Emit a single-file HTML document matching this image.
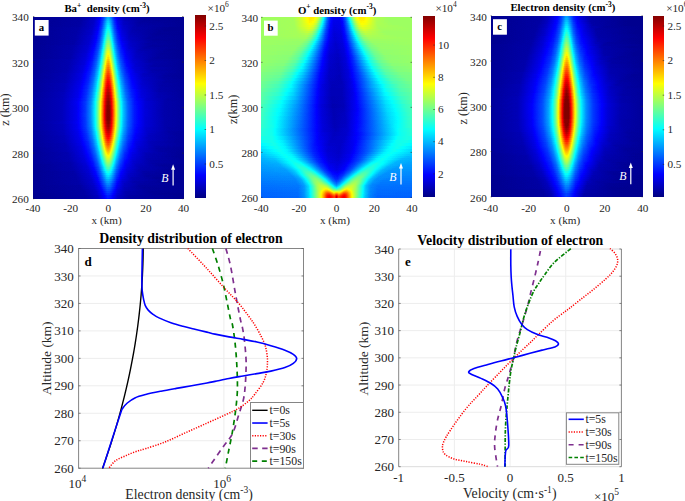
<!DOCTYPE html>
<html><head><meta charset="utf-8"><style>
html,body{margin:0;padding:0;background:#fff;}
body{width:685px;height:501px;overflow:hidden;}
svg{display:block;font-family:"Liberation Serif",serif;}
</style></head><body>
<svg width="685" height="501" viewBox="0 0 685 501">
<defs><filter id="jet" color-interpolation-filters="sRGB"><feComponentTransfer><feFuncR type="table" tableValues="0 0 0 0 .5 1 1 1 .5"/><feFuncG type="table" tableValues="0 0 .5 1 1 1 .5 0 0"/><feFuncB type="table" tableValues=".5 1 1 1 .5 0 0 0 0"/></feComponentTransfer></filter><linearGradient id="g1"><stop offset=".000" stop-color="#050505"/><stop offset=".323" stop-color="#090909"/><stop offset=".410" stop-color="#111111"/><stop offset=".443" stop-color="#1c1c1c"/><stop offset=".467" stop-color="#2e2e2e"/><stop offset=".493" stop-color="#4b4b4b"/><stop offset=".503" stop-color="#4d4d4d"/><stop offset=".517" stop-color="#414141"/><stop offset=".540" stop-color="#272727"/><stop offset=".563" stop-color="#191919"/><stop offset=".607" stop-color="#0f0f0f"/><stop offset=".740" stop-color="#070707"/><stop offset="1" stop-color="#050505"/></linearGradient><linearGradient id="g2"><stop offset=".000" stop-color="#050505"/><stop offset=".320" stop-color="#090909"/><stop offset=".407" stop-color="#121212"/><stop offset=".443" stop-color="#1e1e1e"/><stop offset=".467" stop-color="#303030"/><stop offset=".493" stop-color="#4f4f4f"/><stop offset=".503" stop-color="#515151"/><stop offset=".517" stop-color="#454545"/><stop offset=".540" stop-color="#2a2a2a"/><stop offset=".563" stop-color="#1a1a1a"/><stop offset=".607" stop-color="#0f0f0f"/><stop offset=".733" stop-color="#070707"/><stop offset="1" stop-color="#050505"/></linearGradient><linearGradient id="g3"><stop offset=".000" stop-color="#050505"/><stop offset=".313" stop-color="#090909"/><stop offset=".403" stop-color="#121212"/><stop offset=".440" stop-color="#1e1e1e"/><stop offset=".463" stop-color="#2f2f2f"/><stop offset=".493" stop-color="#535353"/><stop offset=".503" stop-color="#555555"/><stop offset=".517" stop-color="#484848"/><stop offset=".540" stop-color="#2c2c2c"/><stop offset=".563" stop-color="#1c1c1c"/><stop offset=".603" stop-color="#111111"/><stop offset=".713" stop-color="#080808"/><stop offset="1" stop-color="#050505"/></linearGradient><linearGradient id="g4"><stop offset=".000" stop-color="#050505"/><stop offset=".310" stop-color="#090909"/><stop offset=".400" stop-color="#121212"/><stop offset=".437" stop-color="#1d1d1d"/><stop offset=".460" stop-color="#2e2e2e"/><stop offset=".493" stop-color="#575757"/><stop offset=".503" stop-color="#595959"/><stop offset=".513" stop-color="#505050"/><stop offset=".540" stop-color="#2e2e2e"/><stop offset=".563" stop-color="#1d1d1d"/><stop offset=".603" stop-color="#111111"/><stop offset=".707" stop-color="#090909"/><stop offset="1" stop-color="#050505"/></linearGradient><linearGradient id="g5"><stop offset=".000" stop-color="#050505"/><stop offset=".303" stop-color="#090909"/><stop offset=".397" stop-color="#121212"/><stop offset=".433" stop-color="#1d1d1d"/><stop offset=".457" stop-color="#2d2d2d"/><stop offset=".477" stop-color="#464646"/><stop offset=".493" stop-color="#5b5b5b"/><stop offset=".503" stop-color="#5d5d5d"/><stop offset=".513" stop-color="#545454"/><stop offset=".540" stop-color="#313131"/><stop offset=".563" stop-color="#1f1f1f"/><stop offset=".600" stop-color="#131313"/><stop offset=".693" stop-color="#0a0a0a"/><stop offset=".997" stop-color="#050505"/><stop offset="1" stop-color="#050505"/></linearGradient><linearGradient id="g6"><stop offset=".000" stop-color="#050505"/><stop offset=".300" stop-color="#0a0a0a"/><stop offset=".393" stop-color="#121212"/><stop offset=".433" stop-color="#1f1f1f"/><stop offset=".457" stop-color="#303030"/><stop offset=".477" stop-color="#494949"/><stop offset=".493" stop-color="#5f5f5f"/><stop offset=".503" stop-color="#616161"/><stop offset=".513" stop-color="#585858"/><stop offset=".540" stop-color="#333333"/><stop offset=".560" stop-color="#222222"/><stop offset=".593" stop-color="#151515"/><stop offset=".667" stop-color="#0c0c0c"/><stop offset=".897" stop-color="#050505"/><stop offset="1" stop-color="#050505"/></linearGradient><linearGradient id="g7"><stop offset=".000" stop-color="#050505"/><stop offset=".297" stop-color="#0a0a0a"/><stop offset=".393" stop-color="#131313"/><stop offset=".430" stop-color="#1e1e1e"/><stop offset=".453" stop-color="#2f2f2f"/><stop offset=".473" stop-color="#484848"/><stop offset=".490" stop-color="#606060"/><stop offset=".500" stop-color="#666666"/><stop offset=".510" stop-color="#606060"/><stop offset=".540" stop-color="#363636"/><stop offset=".560" stop-color="#242424"/><stop offset=".593" stop-color="#161616"/><stop offset=".663" stop-color="#0c0c0c"/><stop offset=".877" stop-color="#050505"/><stop offset="1" stop-color="#050505"/></linearGradient><linearGradient id="g8"><stop offset=".000" stop-color="#050505"/><stop offset=".293" stop-color="#0a0a0a"/><stop offset=".390" stop-color="#131313"/><stop offset=".430" stop-color="#202020"/><stop offset=".453" stop-color="#313131"/><stop offset=".473" stop-color="#4b4b4b"/><stop offset=".490" stop-color="#646464"/><stop offset=".500" stop-color="#6b6b6b"/><stop offset=".510" stop-color="#646464"/><stop offset=".540" stop-color="#383838"/><stop offset=".560" stop-color="#262626"/><stop offset=".590" stop-color="#181818"/><stop offset=".653" stop-color="#0d0d0d"/><stop offset=".840" stop-color="#060606"/><stop offset="1" stop-color="#050505"/></linearGradient><linearGradient id="g9"><stop offset=".000" stop-color="#050505"/><stop offset=".287" stop-color="#0a0a0a"/><stop offset=".387" stop-color="#131313"/><stop offset=".427" stop-color="#202020"/><stop offset=".450" stop-color="#303030"/><stop offset=".470" stop-color="#494949"/><stop offset=".490" stop-color="#696969"/><stop offset=".500" stop-color="#6f6f6f"/><stop offset=".510" stop-color="#696969"/><stop offset=".540" stop-color="#3b3b3b"/><stop offset=".560" stop-color="#282828"/><stop offset=".590" stop-color="#191919"/><stop offset=".650" stop-color="#0e0e0e"/><stop offset=".820" stop-color="#060606"/><stop offset="1" stop-color="#050505"/></linearGradient><linearGradient id="g10"><stop offset=".000" stop-color="#050505"/><stop offset=".283" stop-color="#0a0a0a"/><stop offset=".383" stop-color="#141414"/><stop offset=".423" stop-color="#202020"/><stop offset=".447" stop-color="#2f2f2f"/><stop offset=".463" stop-color="#434343"/><stop offset=".490" stop-color="#6d6d6d"/><stop offset=".500" stop-color="#747474"/><stop offset=".510" stop-color="#6d6d6d"/><stop offset=".540" stop-color="#3e3e3e"/><stop offset=".560" stop-color="#2a2a2a"/><stop offset=".590" stop-color="#1a1a1a"/><stop offset=".647" stop-color="#0f0f0f"/><stop offset=".803" stop-color="#070707"/><stop offset="1" stop-color="#050505"/></linearGradient><linearGradient id="g11"><stop offset=".000" stop-color="#050505"/><stop offset=".280" stop-color="#0a0a0a"/><stop offset=".380" stop-color="#141414"/><stop offset=".420" stop-color="#1f1f1f"/><stop offset=".443" stop-color="#2e2e2e"/><stop offset=".463" stop-color="#464646"/><stop offset=".490" stop-color="#727272"/><stop offset=".500" stop-color="#787878"/><stop offset=".510" stop-color="#727272"/><stop offset=".540" stop-color="#414141"/><stop offset=".560" stop-color="#2b2b2b"/><stop offset=".587" stop-color="#1d1d1d"/><stop offset=".637" stop-color="#111111"/><stop offset=".770" stop-color="#080808"/><stop offset="1" stop-color="#050505"/></linearGradient><linearGradient id="g12"><stop offset=".000" stop-color="#050505"/><stop offset=".277" stop-color="#0a0a0a"/><stop offset=".377" stop-color="#141414"/><stop offset=".420" stop-color="#212121"/><stop offset=".443" stop-color="#303030"/><stop offset=".460" stop-color="#444444"/><stop offset=".490" stop-color="#767676"/><stop offset=".500" stop-color="#7d7d7d"/><stop offset=".510" stop-color="#767676"/><stop offset=".543" stop-color="#3f3f3f"/><stop offset=".563" stop-color="#2b2b2b"/><stop offset=".593" stop-color="#1b1b1b"/><stop offset=".650" stop-color="#101010"/><stop offset=".800" stop-color="#070707"/><stop offset="1" stop-color="#050505"/></linearGradient><linearGradient id="g13"><stop offset=".000" stop-color="#050505"/><stop offset=".273" stop-color="#0a0a0a"/><stop offset=".373" stop-color="#141414"/><stop offset=".417" stop-color="#212121"/><stop offset=".440" stop-color="#303030"/><stop offset=".460" stop-color="#474747"/><stop offset=".490" stop-color="#7b7b7b"/><stop offset=".500" stop-color="#828282"/><stop offset=".510" stop-color="#7b7b7b"/><stop offset=".543" stop-color="#424242"/><stop offset=".563" stop-color="#2d2d2d"/><stop offset=".593" stop-color="#1d1d1d"/><stop offset=".650" stop-color="#111111"/><stop offset=".793" stop-color="#080808"/><stop offset="1" stop-color="#050505"/></linearGradient><linearGradient id="g14"><stop offset=".000" stop-color="#050505"/><stop offset=".270" stop-color="#0a0a0a"/><stop offset=".370" stop-color="#141414"/><stop offset=".413" stop-color="#212121"/><stop offset=".440" stop-color="#323232"/><stop offset=".457" stop-color="#464646"/><stop offset=".477" stop-color="#696969"/><stop offset=".490" stop-color="#808080"/><stop offset=".500" stop-color="#878787"/><stop offset=".510" stop-color="#808080"/><stop offset=".543" stop-color="#464646"/><stop offset=".563" stop-color="#2f2f2f"/><stop offset=".590" stop-color="#202020"/><stop offset=".640" stop-color="#131313"/><stop offset=".760" stop-color="#090909"/><stop offset="1" stop-color="#050505"/></linearGradient><linearGradient id="g15"><stop offset=".000" stop-color="#050505"/><stop offset=".267" stop-color="#0b0b0b"/><stop offset=".367" stop-color="#151515"/><stop offset=".410" stop-color="#212121"/><stop offset=".437" stop-color="#323232"/><stop offset=".457" stop-color="#494949"/><stop offset=".477" stop-color="#6d6d6d"/><stop offset=".490" stop-color="#858585"/><stop offset=".500" stop-color="#8c8c8c"/><stop offset=".510" stop-color="#858585"/><stop offset=".530" stop-color="#606060"/><stop offset=".547" stop-color="#444444"/><stop offset=".567" stop-color="#2f2f2f"/><stop offset=".597" stop-color="#1e1e1e"/><stop offset=".650" stop-color="#121212"/><stop offset=".780" stop-color="#080808"/><stop offset="1" stop-color="#050505"/></linearGradient><linearGradient id="g16"><stop offset=".000" stop-color="#050505"/><stop offset=".260" stop-color="#0b0b0b"/><stop offset=".363" stop-color="#151515"/><stop offset=".410" stop-color="#232323"/><stop offset=".437" stop-color="#343434"/><stop offset=".457" stop-color="#4c4c4c"/><stop offset=".477" stop-color="#727272"/><stop offset=".490" stop-color="#8a8a8a"/><stop offset=".500" stop-color="#919191"/><stop offset=".510" stop-color="#8a8a8a"/><stop offset=".527" stop-color="#6b6b6b"/><stop offset=".543" stop-color="#4c4c4c"/><stop offset=".563" stop-color="#343434"/><stop offset=".590" stop-color="#232323"/><stop offset=".637" stop-color="#151515"/><stop offset=".743" stop-color="#0a0a0a"/><stop offset="1" stop-color="#050505"/></linearGradient><linearGradient id="g17"><stop offset=".000" stop-color="#050505"/><stop offset=".257" stop-color="#0b0b0b"/><stop offset=".360" stop-color="#151515"/><stop offset=".407" stop-color="#232323"/><stop offset=".433" stop-color="#333333"/><stop offset=".453" stop-color="#4b4b4b"/><stop offset=".470" stop-color="#686868"/><stop offset=".487" stop-color="#8a8a8a"/><stop offset=".497" stop-color="#959595"/><stop offset=".503" stop-color="#959595"/><stop offset=".513" stop-color="#8a8a8a"/><stop offset=".543" stop-color="#505050"/><stop offset=".560" stop-color="#3a3a3a"/><stop offset=".583" stop-color="#282828"/><stop offset=".623" stop-color="#191919"/><stop offset=".707" stop-color="#0d0d0d"/><stop offset=".907" stop-color="#060606"/><stop offset="1" stop-color="#050505"/></linearGradient><linearGradient id="g18"><stop offset=".000" stop-color="#050505"/><stop offset=".253" stop-color="#0b0b0b"/><stop offset=".357" stop-color="#151515"/><stop offset=".403" stop-color="#232323"/><stop offset=".430" stop-color="#333333"/><stop offset=".450" stop-color="#494949"/><stop offset=".467" stop-color="#666666"/><stop offset=".487" stop-color="#8f8f8f"/><stop offset=".497" stop-color="#9a9a9a"/><stop offset=".503" stop-color="#9a9a9a"/><stop offset=".513" stop-color="#8f8f8f"/><stop offset=".543" stop-color="#535353"/><stop offset=".560" stop-color="#3d3d3d"/><stop offset=".583" stop-color="#292929"/><stop offset=".620" stop-color="#1b1b1b"/><stop offset=".693" stop-color="#0f0f0f"/><stop offset=".867" stop-color="#070707"/><stop offset="1" stop-color="#050505"/></linearGradient><linearGradient id="g19"><stop offset=".000" stop-color="#050505"/><stop offset=".250" stop-color="#0b0b0b"/><stop offset=".353" stop-color="#161616"/><stop offset=".400" stop-color="#232323"/><stop offset=".427" stop-color="#323232"/><stop offset=".447" stop-color="#484848"/><stop offset=".463" stop-color="#636363"/><stop offset=".487" stop-color="#939393"/><stop offset=".497" stop-color="#9f9f9f"/><stop offset=".503" stop-color="#9f9f9f"/><stop offset=".513" stop-color="#939393"/><stop offset=".543" stop-color="#575757"/><stop offset=".560" stop-color="#3f3f3f"/><stop offset=".583" stop-color="#2b2b2b"/><stop offset=".620" stop-color="#1c1c1c"/><stop offset=".690" stop-color="#101010"/><stop offset=".853" stop-color="#070707"/><stop offset="1" stop-color="#050505"/></linearGradient><linearGradient id="g20"><stop offset=".000" stop-color="#050505"/><stop offset=".247" stop-color="#0b0b0b"/><stop offset=".350" stop-color="#161616"/><stop offset=".397" stop-color="#232323"/><stop offset=".427" stop-color="#353535"/><stop offset=".447" stop-color="#4b4b4b"/><stop offset=".463" stop-color="#676767"/><stop offset=".487" stop-color="#989898"/><stop offset=".497" stop-color="#a4a4a4"/><stop offset=".503" stop-color="#a4a4a4"/><stop offset=".513" stop-color="#989898"/><stop offset=".543" stop-color="#5a5a5a"/><stop offset=".560" stop-color="#424242"/><stop offset=".583" stop-color="#2d2d2d"/><stop offset=".617" stop-color="#1e1e1e"/><stop offset=".683" stop-color="#111111"/><stop offset=".833" stop-color="#080808"/><stop offset="1" stop-color="#050505"/></linearGradient><linearGradient id="g21"><stop offset=".000" stop-color="#050505"/><stop offset=".247" stop-color="#0b0b0b"/><stop offset=".350" stop-color="#171717"/><stop offset=".397" stop-color="#242424"/><stop offset=".423" stop-color="#343434"/><stop offset=".443" stop-color="#494949"/><stop offset=".460" stop-color="#646464"/><stop offset=".487" stop-color="#9d9d9d"/><stop offset=".497" stop-color="#a9a9a9"/><stop offset=".503" stop-color="#a9a9a9"/><stop offset=".513" stop-color="#9d9d9d"/><stop offset=".543" stop-color="#5e5e5e"/><stop offset=".560" stop-color="#454545"/><stop offset=".583" stop-color="#2f2f2f"/><stop offset=".617" stop-color="#1f1f1f"/><stop offset=".680" stop-color="#121212"/><stop offset=".820" stop-color="#080808"/><stop offset="1" stop-color="#050505"/></linearGradient><linearGradient id="g22"><stop offset=".000" stop-color="#060606"/><stop offset=".243" stop-color="#0c0c0c"/><stop offset=".347" stop-color="#171717"/><stop offset=".393" stop-color="#242424"/><stop offset=".423" stop-color="#363636"/><stop offset=".443" stop-color="#4c4c4c"/><stop offset=".460" stop-color="#686868"/><stop offset=".487" stop-color="#a2a2a2"/><stop offset=".497" stop-color="#aeaeae"/><stop offset=".503" stop-color="#aeaeae"/><stop offset=".513" stop-color="#a2a2a2"/><stop offset=".543" stop-color="#626262"/><stop offset=".560" stop-color="#484848"/><stop offset=".580" stop-color="#343434"/><stop offset=".610" stop-color="#232323"/><stop offset=".663" stop-color="#151515"/><stop offset=".780" stop-color="#0a0a0a"/><stop offset="1" stop-color="#060606"/></linearGradient><linearGradient id="g23"><stop offset=".000" stop-color="#060606"/><stop offset=".240" stop-color="#0c0c0c"/><stop offset=".343" stop-color="#171717"/><stop offset=".393" stop-color="#262626"/><stop offset=".423" stop-color="#393939"/><stop offset=".443" stop-color="#4f4f4f"/><stop offset=".460" stop-color="#6c6c6c"/><stop offset=".487" stop-color="#a7a7a7"/><stop offset=".497" stop-color="#b3b3b3"/><stop offset=".503" stop-color="#b3b3b3"/><stop offset=".513" stop-color="#a7a7a7"/><stop offset=".543" stop-color="#656565"/><stop offset=".560" stop-color="#4b4b4b"/><stop offset=".580" stop-color="#363636"/><stop offset=".610" stop-color="#242424"/><stop offset=".663" stop-color="#161616"/><stop offset=".773" stop-color="#0b0b0b"/><stop offset="1" stop-color="#060606"/></linearGradient><linearGradient id="g24"><stop offset=".000" stop-color="#060606"/><stop offset=".237" stop-color="#0c0c0c"/><stop offset=".340" stop-color="#171717"/><stop offset=".390" stop-color="#262626"/><stop offset=".420" stop-color="#383838"/><stop offset=".440" stop-color="#4e4e4e"/><stop offset=".457" stop-color="#696969"/><stop offset=".487" stop-color="#acacac"/><stop offset=".497" stop-color="#b8b8b8"/><stop offset=".503" stop-color="#b8b8b8"/><stop offset=".513" stop-color="#acacac"/><stop offset=".547" stop-color="#636363"/><stop offset=".563" stop-color="#494949"/><stop offset=".587" stop-color="#333333"/><stop offset=".620" stop-color="#222222"/><stop offset=".680" stop-color="#141414"/><stop offset=".807" stop-color="#0a0a0a"/><stop offset="1" stop-color="#060606"/></linearGradient><linearGradient id="g25"><stop offset=".000" stop-color="#060606"/><stop offset=".233" stop-color="#0c0c0c"/><stop offset=".337" stop-color="#181818"/><stop offset=".387" stop-color="#262626"/><stop offset=".417" stop-color="#383838"/><stop offset=".437" stop-color="#4d4d4d"/><stop offset=".453" stop-color="#676767"/><stop offset=".473" stop-color="#949494"/><stop offset=".487" stop-color="#b1b1b1"/><stop offset=".497" stop-color="#bdbdbd"/><stop offset=".503" stop-color="#bdbdbd"/><stop offset=".513" stop-color="#b1b1b1"/><stop offset=".547" stop-color="#676767"/><stop offset=".563" stop-color="#4d4d4d"/><stop offset=".587" stop-color="#353535"/><stop offset=".620" stop-color="#232323"/><stop offset=".677" stop-color="#151515"/><stop offset=".793" stop-color="#0a0a0a"/><stop offset="1" stop-color="#060606"/></linearGradient><linearGradient id="g26"><stop offset=".000" stop-color="#060606"/><stop offset=".230" stop-color="#0c0c0c"/><stop offset=".333" stop-color="#181818"/><stop offset=".383" stop-color="#262626"/><stop offset=".413" stop-color="#373737"/><stop offset=".433" stop-color="#4b4b4b"/><stop offset=".450" stop-color="#656565"/><stop offset=".467" stop-color="#888888"/><stop offset=".487" stop-color="#b6b6b6"/><stop offset=".497" stop-color="#c2c2c2"/><stop offset=".503" stop-color="#c2c2c2"/><stop offset=".513" stop-color="#b6b6b6"/><stop offset=".547" stop-color="#6b6b6b"/><stop offset=".563" stop-color="#505050"/><stop offset=".583" stop-color="#3a3a3a"/><stop offset=".613" stop-color="#282828"/><stop offset=".663" stop-color="#181818"/><stop offset=".763" stop-color="#0d0d0d"/><stop offset=".987" stop-color="#060606"/><stop offset="1" stop-color="#060606"/></linearGradient><linearGradient id="g27"><stop offset=".000" stop-color="#060606"/><stop offset=".227" stop-color="#0c0c0c"/><stop offset=".330" stop-color="#181818"/><stop offset=".380" stop-color="#262626"/><stop offset=".410" stop-color="#373737"/><stop offset=".433" stop-color="#4e4e4e"/><stop offset=".450" stop-color="#696969"/><stop offset=".470" stop-color="#959595"/><stop offset=".487" stop-color="#bbbbbb"/><stop offset=".497" stop-color="#c6c6c6"/><stop offset=".503" stop-color="#c6c6c6"/><stop offset=".513" stop-color="#bbbbbb"/><stop offset=".530" stop-color="#959595"/><stop offset=".550" stop-color="#696969"/><stop offset=".567" stop-color="#4e4e4e"/><stop offset=".590" stop-color="#373737"/><stop offset=".623" stop-color="#252525"/><stop offset=".680" stop-color="#161616"/><stop offset=".793" stop-color="#0b0b0b"/><stop offset="1" stop-color="#060606"/></linearGradient><linearGradient id="g28"><stop offset=".000" stop-color="#060606"/><stop offset=".223" stop-color="#0c0c0c"/><stop offset=".327" stop-color="#181818"/><stop offset=".380" stop-color="#282828"/><stop offset=".410" stop-color="#393939"/><stop offset=".433" stop-color="#525252"/><stop offset=".450" stop-color="#6c6c6c"/><stop offset=".470" stop-color="#999999"/><stop offset=".487" stop-color="#bfbfbf"/><stop offset=".497" stop-color="#cbcbcb"/><stop offset=".503" stop-color="#cbcbcb"/><stop offset=".513" stop-color="#bfbfbf"/><stop offset=".530" stop-color="#999999"/><stop offset=".550" stop-color="#6c6c6c"/><stop offset=".567" stop-color="#525252"/><stop offset=".590" stop-color="#393939"/><stop offset=".623" stop-color="#262626"/><stop offset=".680" stop-color="#171717"/><stop offset=".790" stop-color="#0c0c0c"/><stop offset="1" stop-color="#060606"/></linearGradient><linearGradient id="g29"><stop offset=".000" stop-color="#060606"/><stop offset=".223" stop-color="#0d0d0d"/><stop offset=".323" stop-color="#191919"/><stop offset=".377" stop-color="#282828"/><stop offset=".407" stop-color="#393939"/><stop offset=".430" stop-color="#505050"/><stop offset=".447" stop-color="#6a6a6a"/><stop offset=".463" stop-color="#8d8d8d"/><stop offset=".483" stop-color="#bdbdbd"/><stop offset=".493" stop-color="#cdcdcd"/><stop offset=".500" stop-color="#d0d0d0"/><stop offset=".510" stop-color="#c9c9c9"/><stop offset=".520" stop-color="#b6b6b6"/><stop offset=".547" stop-color="#777777"/><stop offset=".563" stop-color="#595959"/><stop offset=".583" stop-color="#424242"/><stop offset=".610" stop-color="#2e2e2e"/><stop offset=".653" stop-color="#1e1e1e"/><stop offset=".733" stop-color="#101010"/><stop offset=".897" stop-color="#080808"/><stop offset="1" stop-color="#060606"/></linearGradient><linearGradient id="g30"><stop offset=".000" stop-color="#060606"/><stop offset=".220" stop-color="#0d0d0d"/><stop offset=".320" stop-color="#191919"/><stop offset=".373" stop-color="#282828"/><stop offset=".407" stop-color="#3b3b3b"/><stop offset=".430" stop-color="#535353"/><stop offset=".447" stop-color="#6e6e6e"/><stop offset=".463" stop-color="#929292"/><stop offset=".483" stop-color="#c2c2c2"/><stop offset=".493" stop-color="#d2d2d2"/><stop offset=".500" stop-color="#d5d5d5"/><stop offset=".510" stop-color="#cecece"/><stop offset=".520" stop-color="#bbbbbb"/><stop offset=".547" stop-color="#7b7b7b"/><stop offset=".563" stop-color="#5d5d5d"/><stop offset=".583" stop-color="#444444"/><stop offset=".610" stop-color="#303030"/><stop offset=".653" stop-color="#1f1f1f"/><stop offset=".730" stop-color="#111111"/><stop offset=".883" stop-color="#080808"/><stop offset="1" stop-color="#060606"/></linearGradient><linearGradient id="g31"><stop offset=".000" stop-color="#060606"/><stop offset=".217" stop-color="#0d0d0d"/><stop offset=".317" stop-color="#191919"/><stop offset=".370" stop-color="#282828"/><stop offset=".403" stop-color="#3b3b3b"/><stop offset=".427" stop-color="#525252"/><stop offset=".443" stop-color="#6b6b6b"/><stop offset=".460" stop-color="#8e8e8e"/><stop offset=".483" stop-color="#c6c6c6"/><stop offset=".493" stop-color="#d6d6d6"/><stop offset=".500" stop-color="#d9d9d9"/><stop offset=".510" stop-color="#d2d2d2"/><stop offset=".520" stop-color="#bfbfbf"/><stop offset=".547" stop-color="#7f7f7f"/><stop offset=".563" stop-color="#606060"/><stop offset=".583" stop-color="#474747"/><stop offset=".610" stop-color="#323232"/><stop offset=".650" stop-color="#212121"/><stop offset=".723" stop-color="#131313"/><stop offset=".867" stop-color="#090909"/><stop offset="1" stop-color="#060606"/></linearGradient><linearGradient id="g32"><stop offset=".000" stop-color="#070707"/><stop offset=".213" stop-color="#0d0d0d"/><stop offset=".313" stop-color="#191919"/><stop offset=".367" stop-color="#282828"/><stop offset=".400" stop-color="#3a3a3a"/><stop offset=".423" stop-color="#505050"/><stop offset=".443" stop-color="#6f6f6f"/><stop offset=".460" stop-color="#929292"/><stop offset=".483" stop-color="#cbcbcb"/><stop offset=".493" stop-color="#dadada"/><stop offset=".500" stop-color="#dddddd"/><stop offset=".510" stop-color="#d6d6d6"/><stop offset=".520" stop-color="#c3c3c3"/><stop offset=".550" stop-color="#7c7c7c"/><stop offset=".567" stop-color="#5e5e5e"/><stop offset=".587" stop-color="#464646"/><stop offset=".613" stop-color="#323232"/><stop offset=".657" stop-color="#202020"/><stop offset=".733" stop-color="#121212"/><stop offset=".883" stop-color="#090909"/><stop offset="1" stop-color="#070707"/></linearGradient><linearGradient id="g33"><stop offset=".000" stop-color="#070707"/><stop offset=".213" stop-color="#0d0d0d"/><stop offset=".313" stop-color="#1a1a1a"/><stop offset=".367" stop-color="#292929"/><stop offset=".400" stop-color="#3c3c3c"/><stop offset=".423" stop-color="#535353"/><stop offset=".443" stop-color="#727272"/><stop offset=".460" stop-color="#969696"/><stop offset=".483" stop-color="#cfcfcf"/><stop offset=".493" stop-color="#dedede"/><stop offset=".500" stop-color="#e1e1e1"/><stop offset=".510" stop-color="#dadada"/><stop offset=".520" stop-color="#c7c7c7"/><stop offset=".550" stop-color="#7f7f7f"/><stop offset=".567" stop-color="#616161"/><stop offset=".587" stop-color="#484848"/><stop offset=".613" stop-color="#333333"/><stop offset=".657" stop-color="#212121"/><stop offset=".730" stop-color="#131313"/><stop offset=".873" stop-color="#090909"/><stop offset="1" stop-color="#070707"/></linearGradient><linearGradient id="g34"><stop offset=".000" stop-color="#070707"/><stop offset=".210" stop-color="#0e0e0e"/><stop offset=".310" stop-color="#1a1a1a"/><stop offset=".363" stop-color="#292929"/><stop offset=".397" stop-color="#3c3c3c"/><stop offset=".420" stop-color="#525252"/><stop offset=".440" stop-color="#6f6f6f"/><stop offset=".457" stop-color="#929292"/><stop offset=".483" stop-color="#d3d3d3"/><stop offset=".493" stop-color="#e2e2e2"/><stop offset=".503" stop-color="#e4e4e4"/><stop offset=".513" stop-color="#d9d9d9"/><stop offset=".527" stop-color="#bbbbbb"/><stop offset=".550" stop-color="#838383"/><stop offset=".567" stop-color="#646464"/><stop offset=".587" stop-color="#4a4a4a"/><stop offset=".613" stop-color="#353535"/><stop offset=".653" stop-color="#232323"/><stop offset=".723" stop-color="#141414"/><stop offset=".857" stop-color="#0a0a0a"/><stop offset="1" stop-color="#070707"/></linearGradient><linearGradient id="g35"><stop offset=".000" stop-color="#070707"/><stop offset=".210" stop-color="#0e0e0e"/><stop offset=".310" stop-color="#1b1b1b"/><stop offset=".363" stop-color="#2b2b2b"/><stop offset=".397" stop-color="#3e3e3e"/><stop offset=".420" stop-color="#545454"/><stop offset=".440" stop-color="#727272"/><stop offset=".457" stop-color="#959595"/><stop offset=".483" stop-color="#d6d6d6"/><stop offset=".493" stop-color="#e5e5e5"/><stop offset=".503" stop-color="#e8e8e8"/><stop offset=".513" stop-color="#dddddd"/><stop offset=".527" stop-color="#bfbfbf"/><stop offset=".550" stop-color="#868686"/><stop offset=".567" stop-color="#676767"/><stop offset=".587" stop-color="#4d4d4d"/><stop offset=".613" stop-color="#373737"/><stop offset=".653" stop-color="#242424"/><stop offset=".723" stop-color="#151515"/><stop offset=".853" stop-color="#0a0a0a"/><stop offset="1" stop-color="#070707"/></linearGradient><linearGradient id="g36"><stop offset=".000" stop-color="#070707"/><stop offset=".207" stop-color="#0e0e0e"/><stop offset=".307" stop-color="#1b1b1b"/><stop offset=".360" stop-color="#2a2a2a"/><stop offset=".393" stop-color="#3d3d3d"/><stop offset=".417" stop-color="#535353"/><stop offset=".437" stop-color="#6f6f6f"/><stop offset=".453" stop-color="#919191"/><stop offset=".483" stop-color="#dadada"/><stop offset=".493" stop-color="#e9e9e9"/><stop offset=".503" stop-color="#ebebeb"/><stop offset=".513" stop-color="#e0e0e0"/><stop offset=".527" stop-color="#c3c3c3"/><stop offset=".550" stop-color="#8a8a8a"/><stop offset=".567" stop-color="#6a6a6a"/><stop offset=".587" stop-color="#4f4f4f"/><stop offset=".613" stop-color="#383838"/><stop offset=".653" stop-color="#252525"/><stop offset=".720" stop-color="#161616"/><stop offset=".843" stop-color="#0b0b0b"/><stop offset="1" stop-color="#070707"/></linearGradient><linearGradient id="g37"><stop offset=".000" stop-color="#070707"/><stop offset=".203" stop-color="#0e0e0e"/><stop offset=".303" stop-color="#1b1b1b"/><stop offset=".360" stop-color="#2c2c2c"/><stop offset=".393" stop-color="#3f3f3f"/><stop offset=".417" stop-color="#555555"/><stop offset=".437" stop-color="#737373"/><stop offset=".453" stop-color="#959595"/><stop offset=".483" stop-color="#dedede"/><stop offset=".493" stop-color="#ededed"/><stop offset=".503" stop-color="#efefef"/><stop offset=".513" stop-color="#e4e4e4"/><stop offset=".527" stop-color="#c7c7c7"/><stop offset=".550" stop-color="#8e8e8e"/><stop offset=".567" stop-color="#6d6d6d"/><stop offset=".587" stop-color="#525252"/><stop offset=".613" stop-color="#3a3a3a"/><stop offset=".653" stop-color="#272727"/><stop offset=".720" stop-color="#171717"/><stop offset=".840" stop-color="#0b0b0b"/><stop offset="1" stop-color="#070707"/></linearGradient><linearGradient id="g38"><stop offset=".000" stop-color="#070707"/><stop offset=".203" stop-color="#0f0f0f"/><stop offset=".300" stop-color="#1b1b1b"/><stop offset=".357" stop-color="#2c2c2c"/><stop offset=".390" stop-color="#3f3f3f"/><stop offset=".413" stop-color="#555555"/><stop offset=".433" stop-color="#717171"/><stop offset=".450" stop-color="#929292"/><stop offset=".480" stop-color="#dcdcdc"/><stop offset=".490" stop-color="#eeeeee"/><stop offset=".500" stop-color="#f4f4f4"/><stop offset=".510" stop-color="#eeeeee"/><stop offset=".520" stop-color="#dcdcdc"/><stop offset=".553" stop-color="#8b8b8b"/><stop offset=".570" stop-color="#6c6c6c"/><stop offset=".590" stop-color="#515151"/><stop offset=".617" stop-color="#3a3a3a"/><stop offset=".657" stop-color="#272727"/><stop offset=".723" stop-color="#171717"/><stop offset=".843" stop-color="#0c0c0c"/><stop offset="1" stop-color="#070707"/></linearGradient><linearGradient id="g39"><stop offset=".000" stop-color="#070707"/><stop offset=".200" stop-color="#0f0f0f"/><stop offset=".297" stop-color="#1b1b1b"/><stop offset=".353" stop-color="#2c2c2c"/><stop offset=".390" stop-color="#414141"/><stop offset=".413" stop-color="#585858"/><stop offset=".433" stop-color="#757575"/><stop offset=".450" stop-color="#969696"/><stop offset=".480" stop-color="#e0e0e0"/><stop offset=".490" stop-color="#f2f2f2"/><stop offset=".500" stop-color="#f8f8f8"/><stop offset=".510" stop-color="#f2f2f2"/><stop offset=".520" stop-color="#e0e0e0"/><stop offset=".553" stop-color="#8f8f8f"/><stop offset=".570" stop-color="#6f6f6f"/><stop offset=".590" stop-color="#545454"/><stop offset=".617" stop-color="#3c3c3c"/><stop offset=".657" stop-color="#282828"/><stop offset=".720" stop-color="#181818"/><stop offset=".833" stop-color="#0d0d0d"/><stop offset="1" stop-color="#070707"/></linearGradient><linearGradient id="g40"><stop offset=".000" stop-color="#080808"/><stop offset=".197" stop-color="#0f0f0f"/><stop offset=".293" stop-color="#1c1c1c"/><stop offset=".350" stop-color="#2c2c2c"/><stop offset=".387" stop-color="#414141"/><stop offset=".413" stop-color="#5b5b5b"/><stop offset=".433" stop-color="#787878"/><stop offset=".453" stop-color="#a2a2a2"/><stop offset=".480" stop-color="#e4e4e4"/><stop offset=".490" stop-color="#f5f5f5"/><stop offset=".500" stop-color="#fbfbfb"/><stop offset=".510" stop-color="#f5f5f5"/><stop offset=".520" stop-color="#e4e4e4"/><stop offset=".557" stop-color="#8c8c8c"/><stop offset=".577" stop-color="#686868"/><stop offset=".600" stop-color="#4c4c4c"/><stop offset=".630" stop-color="#363636"/><stop offset=".677" stop-color="#232323"/><stop offset=".753" stop-color="#141414"/><stop offset=".893" stop-color="#0a0a0a"/><stop offset="1" stop-color="#080808"/></linearGradient><linearGradient id="g41"><stop offset=".000" stop-color="#080808"/><stop offset=".197" stop-color="#0f0f0f"/><stop offset=".293" stop-color="#1d1d1d"/><stop offset=".350" stop-color="#2e2e2e"/><stop offset=".387" stop-color="#434343"/><stop offset=".413" stop-color="#5e5e5e"/><stop offset=".433" stop-color="#7c7c7c"/><stop offset=".453" stop-color="#a6a6a6"/><stop offset=".480" stop-color="#e7e7e7"/><stop offset=".490" stop-color="#f8f8f8"/><stop offset=".500" stop-color="#fefefe"/><stop offset=".510" stop-color="#f8f8f8"/><stop offset=".520" stop-color="#e7e7e7"/><stop offset=".557" stop-color="#909090"/><stop offset=".577" stop-color="#6b6b6b"/><stop offset=".600" stop-color="#4f4f4f"/><stop offset=".630" stop-color="#383838"/><stop offset=".673" stop-color="#252525"/><stop offset=".747" stop-color="#161616"/><stop offset=".877" stop-color="#0b0b0b"/><stop offset="1" stop-color="#080808"/></linearGradient><linearGradient id="g42"><stop offset=".000" stop-color="#080808"/><stop offset=".193" stop-color="#0f0f0f"/><stop offset=".290" stop-color="#1c1c1c"/><stop offset=".347" stop-color="#2d2d2d"/><stop offset=".383" stop-color="#424242"/><stop offset=".410" stop-color="#5b5b5b"/><stop offset=".430" stop-color="#787878"/><stop offset=".450" stop-color="#a0a0a0"/><stop offset=".480" stop-color="#eaeaea"/><stop offset=".490" stop-color="#fbfbfb"/><stop offset=".497" stop-color="#ffffff"/><stop offset=".507" stop-color="#fefefe"/><stop offset=".517" stop-color="#f1f1f1"/><stop offset=".533" stop-color="#cacaca"/><stop offset=".557" stop-color="#929292"/><stop offset=".577" stop-color="#6d6d6d"/><stop offset=".600" stop-color="#505050"/><stop offset=".630" stop-color="#393939"/><stop offset=".673" stop-color="#262626"/><stop offset=".747" stop-color="#161616"/><stop offset=".877" stop-color="#0b0b0b"/><stop offset="1" stop-color="#080808"/></linearGradient><linearGradient id="g43"><stop offset=".000" stop-color="#080808"/><stop offset=".193" stop-color="#0f0f0f"/><stop offset=".290" stop-color="#1c1c1c"/><stop offset=".347" stop-color="#2d2d2d"/><stop offset=".383" stop-color="#424242"/><stop offset=".410" stop-color="#5c5c5c"/><stop offset=".430" stop-color="#797979"/><stop offset=".450" stop-color="#a1a1a1"/><stop offset=".480" stop-color="#ebebeb"/><stop offset=".490" stop-color="#fcfcfc"/><stop offset=".497" stop-color="#ffffff"/><stop offset=".507" stop-color="#ffffff"/><stop offset=".513" stop-color="#f8f8f8"/><stop offset=".527" stop-color="#dcdcdc"/><stop offset=".557" stop-color="#929292"/><stop offset=".577" stop-color="#6e6e6e"/><stop offset=".600" stop-color="#515151"/><stop offset=".630" stop-color="#393939"/><stop offset=".673" stop-color="#262626"/><stop offset=".743" stop-color="#171717"/><stop offset=".870" stop-color="#0b0b0b"/><stop offset="1" stop-color="#080808"/></linearGradient><linearGradient id="g44"><stop offset=".000" stop-color="#080808"/><stop offset=".193" stop-color="#0f0f0f"/><stop offset=".290" stop-color="#1c1c1c"/><stop offset=".347" stop-color="#2e2e2e"/><stop offset=".383" stop-color="#424242"/><stop offset=".410" stop-color="#5c5c5c"/><stop offset=".430" stop-color="#797979"/><stop offset=".450" stop-color="#a2a2a2"/><stop offset=".480" stop-color="#ececec"/><stop offset=".490" stop-color="#fdfdfd"/><stop offset=".503" stop-color="#ffffff"/><stop offset=".510" stop-color="#fdfdfd"/><stop offset=".520" stop-color="#ececec"/><stop offset=".557" stop-color="#939393"/><stop offset=".577" stop-color="#6e6e6e"/><stop offset=".600" stop-color="#515151"/><stop offset=".630" stop-color="#393939"/><stop offset=".673" stop-color="#262626"/><stop offset=".743" stop-color="#171717"/><stop offset=".870" stop-color="#0b0b0b"/><stop offset="1" stop-color="#080808"/></linearGradient><linearGradient id="g45"><stop offset=".000" stop-color="#080808"/><stop offset=".193" stop-color="#0f0f0f"/><stop offset=".290" stop-color="#1c1c1c"/><stop offset=".347" stop-color="#2d2d2d"/><stop offset=".383" stop-color="#424242"/><stop offset=".410" stop-color="#5b5b5b"/><stop offset=".430" stop-color="#787878"/><stop offset=".450" stop-color="#a1a1a1"/><stop offset=".480" stop-color="#ebebeb"/><stop offset=".490" stop-color="#fcfcfc"/><stop offset=".497" stop-color="#ffffff"/><stop offset=".507" stop-color="#ffffff"/><stop offset=".517" stop-color="#f1f1f1"/><stop offset=".533" stop-color="#cbcbcb"/><stop offset=".557" stop-color="#929292"/><stop offset=".577" stop-color="#6d6d6d"/><stop offset=".600" stop-color="#505050"/><stop offset=".630" stop-color="#393939"/><stop offset=".673" stop-color="#262626"/><stop offset=".747" stop-color="#161616"/><stop offset=".877" stop-color="#0b0b0b"/><stop offset="1" stop-color="#080808"/></linearGradient><linearGradient id="g46"><stop offset=".000" stop-color="#080808"/><stop offset=".197" stop-color="#101010"/><stop offset=".293" stop-color="#1d1d1d"/><stop offset=".350" stop-color="#2e2e2e"/><stop offset=".387" stop-color="#444444"/><stop offset=".413" stop-color="#5e5e5e"/><stop offset=".433" stop-color="#7d7d7d"/><stop offset=".453" stop-color="#a7a7a7"/><stop offset=".480" stop-color="#e8e8e8"/><stop offset=".490" stop-color="#f9f9f9"/><stop offset=".500" stop-color="#ffffff"/><stop offset=".510" stop-color="#f9f9f9"/><stop offset=".520" stop-color="#e8e8e8"/><stop offset=".557" stop-color="#909090"/><stop offset=".577" stop-color="#6c6c6c"/><stop offset=".600" stop-color="#4f4f4f"/><stop offset=".630" stop-color="#383838"/><stop offset=".673" stop-color="#262626"/><stop offset=".747" stop-color="#161616"/><stop offset=".877" stop-color="#0b0b0b"/><stop offset="1" stop-color="#080808"/></linearGradient><linearGradient id="g47"><stop offset=".000" stop-color="#080808"/><stop offset=".197" stop-color="#0f0f0f"/><stop offset=".293" stop-color="#1c1c1c"/><stop offset=".350" stop-color="#2e2e2e"/><stop offset=".387" stop-color="#434343"/><stop offset=".413" stop-color="#5d5d5d"/><stop offset=".433" stop-color="#7b7b7b"/><stop offset=".453" stop-color="#a4a4a4"/><stop offset=".480" stop-color="#e4e4e4"/><stop offset=".490" stop-color="#f5f5f5"/><stop offset=".500" stop-color="#fbfbfb"/><stop offset=".510" stop-color="#f5f5f5"/><stop offset=".520" stop-color="#e4e4e4"/><stop offset=".557" stop-color="#8e8e8e"/><stop offset=".577" stop-color="#6b6b6b"/><stop offset=".600" stop-color="#4e4e4e"/><stop offset=".630" stop-color="#383838"/><stop offset=".673" stop-color="#252525"/><stop offset=".747" stop-color="#161616"/><stop offset=".877" stop-color="#0b0b0b"/><stop offset="1" stop-color="#080808"/></linearGradient><linearGradient id="g48"><stop offset=".000" stop-color="#080808"/><stop offset=".197" stop-color="#0f0f0f"/><stop offset=".293" stop-color="#1c1c1c"/><stop offset=".350" stop-color="#2d2d2d"/><stop offset=".387" stop-color="#414141"/><stop offset=".413" stop-color="#5b5b5b"/><stop offset=".433" stop-color="#787878"/><stop offset=".453" stop-color="#a1a1a1"/><stop offset=".480" stop-color="#e0e0e0"/><stop offset=".490" stop-color="#f1f1f1"/><stop offset=".500" stop-color="#f7f7f7"/><stop offset=".510" stop-color="#f1f1f1"/><stop offset=".520" stop-color="#e0e0e0"/><stop offset=".557" stop-color="#8b8b8b"/><stop offset=".577" stop-color="#686868"/><stop offset=".600" stop-color="#4c4c4c"/><stop offset=".630" stop-color="#363636"/><stop offset=".677" stop-color="#232323"/><stop offset=".753" stop-color="#141414"/><stop offset=".893" stop-color="#0a0a0a"/><stop offset="1" stop-color="#080808"/></linearGradient><linearGradient id="g49"><stop offset=".000" stop-color="#080808"/><stop offset=".200" stop-color="#0f0f0f"/><stop offset=".297" stop-color="#1c1c1c"/><stop offset=".353" stop-color="#2d2d2d"/><stop offset=".390" stop-color="#424242"/><stop offset=".413" stop-color="#595959"/><stop offset=".433" stop-color="#757575"/><stop offset=".453" stop-color="#9e9e9e"/><stop offset=".480" stop-color="#dcdcdc"/><stop offset=".490" stop-color="#ededed"/><stop offset=".500" stop-color="#f3f3f3"/><stop offset=".510" stop-color="#ededed"/><stop offset=".520" stop-color="#dcdcdc"/><stop offset=".557" stop-color="#888888"/><stop offset=".577" stop-color="#666666"/><stop offset=".600" stop-color="#4b4b4b"/><stop offset=".630" stop-color="#353535"/><stop offset=".677" stop-color="#222222"/><stop offset=".753" stop-color="#141414"/><stop offset=".897" stop-color="#0a0a0a"/><stop offset="1" stop-color="#080808"/></linearGradient><linearGradient id="g50"><stop offset=".000" stop-color="#070707"/><stop offset=".200" stop-color="#0f0f0f"/><stop offset=".297" stop-color="#1b1b1b"/><stop offset=".353" stop-color="#2c2c2c"/><stop offset=".390" stop-color="#404040"/><stop offset=".417" stop-color="#5a5a5a"/><stop offset=".437" stop-color="#787878"/><stop offset=".457" stop-color="#a2a2a2"/><stop offset=".480" stop-color="#d8d8d8"/><stop offset=".490" stop-color="#e8e8e8"/><stop offset=".500" stop-color="#eeeeee"/><stop offset=".510" stop-color="#e8e8e8"/><stop offset=".520" stop-color="#d8d8d8"/><stop offset=".557" stop-color="#858585"/><stop offset=".577" stop-color="#636363"/><stop offset=".600" stop-color="#494949"/><stop offset=".630" stop-color="#343434"/><stop offset=".677" stop-color="#222222"/><stop offset=".757" stop-color="#131313"/><stop offset=".907" stop-color="#090909"/><stop offset="1" stop-color="#070707"/></linearGradient><linearGradient id="g51"><stop offset=".000" stop-color="#070707"/><stop offset=".203" stop-color="#0f0f0f"/><stop offset=".300" stop-color="#1b1b1b"/><stop offset=".357" stop-color="#2c2c2c"/><stop offset=".390" stop-color="#3f3f3f"/><stop offset=".417" stop-color="#585858"/><stop offset=".437" stop-color="#757575"/><stop offset=".457" stop-color="#9e9e9e"/><stop offset=".480" stop-color="#d3d3d3"/><stop offset=".490" stop-color="#e3e3e3"/><stop offset=".500" stop-color="#e9e9e9"/><stop offset=".510" stop-color="#e3e3e3"/><stop offset=".520" stop-color="#d3d3d3"/><stop offset=".557" stop-color="#818181"/><stop offset=".577" stop-color="#606060"/><stop offset=".600" stop-color="#474747"/><stop offset=".633" stop-color="#313131"/><stop offset=".683" stop-color="#1f1f1f"/><stop offset=".770" stop-color="#111111"/><stop offset=".937" stop-color="#080808"/><stop offset="1" stop-color="#070707"/></linearGradient><linearGradient id="g52"><stop offset=".000" stop-color="#070707"/><stop offset=".203" stop-color="#0e0e0e"/><stop offset=".303" stop-color="#1b1b1b"/><stop offset=".360" stop-color="#2c2c2c"/><stop offset=".393" stop-color="#3f3f3f"/><stop offset=".417" stop-color="#555555"/><stop offset=".437" stop-color="#727272"/><stop offset=".457" stop-color="#999999"/><stop offset=".480" stop-color="#cecece"/><stop offset=".490" stop-color="#dedede"/><stop offset=".500" stop-color="#e4e4e4"/><stop offset=".510" stop-color="#dedede"/><stop offset=".520" stop-color="#cecece"/><stop offset=".557" stop-color="#7e7e7e"/><stop offset=".577" stop-color="#5d5d5d"/><stop offset=".600" stop-color="#444444"/><stop offset=".633" stop-color="#2f2f2f"/><stop offset=".683" stop-color="#1e1e1e"/><stop offset=".773" stop-color="#101010"/><stop offset=".950" stop-color="#080808"/><stop offset="1" stop-color="#070707"/></linearGradient><linearGradient id="g53"><stop offset=".000" stop-color="#070707"/><stop offset=".207" stop-color="#0e0e0e"/><stop offset=".307" stop-color="#1b1b1b"/><stop offset=".360" stop-color="#2b2b2b"/><stop offset=".393" stop-color="#3d3d3d"/><stop offset=".420" stop-color="#565656"/><stop offset=".440" stop-color="#747474"/><stop offset=".460" stop-color="#9c9c9c"/><stop offset=".483" stop-color="#cfcfcf"/><stop offset=".493" stop-color="#dcdcdc"/><stop offset=".503" stop-color="#dedede"/><stop offset=".513" stop-color="#d4d4d4"/><stop offset=".527" stop-color="#bbbbbb"/><stop offset=".553" stop-color="#808080"/><stop offset=".573" stop-color="#5f5f5f"/><stop offset=".597" stop-color="#454545"/><stop offset=".627" stop-color="#313131"/><stop offset=".673" stop-color="#202020"/><stop offset=".757" stop-color="#111111"/><stop offset=".917" stop-color="#090909"/><stop offset="1" stop-color="#070707"/></linearGradient><linearGradient id="g54"><stop offset=".000" stop-color="#070707"/><stop offset=".210" stop-color="#0e0e0e"/><stop offset=".310" stop-color="#1b1b1b"/><stop offset=".363" stop-color="#2b2b2b"/><stop offset=".397" stop-color="#3d3d3d"/><stop offset=".420" stop-color="#535353"/><stop offset=".440" stop-color="#707070"/><stop offset=".460" stop-color="#979797"/><stop offset=".483" stop-color="#c9c9c9"/><stop offset=".493" stop-color="#d6d6d6"/><stop offset=".503" stop-color="#d8d8d8"/><stop offset=".513" stop-color="#cecece"/><stop offset=".527" stop-color="#b5b5b5"/><stop offset=".553" stop-color="#7c7c7c"/><stop offset=".573" stop-color="#5c5c5c"/><stop offset=".597" stop-color="#434343"/><stop offset=".630" stop-color="#2e2e2e"/><stop offset=".680" stop-color="#1d1d1d"/><stop offset=".770" stop-color="#101010"/><stop offset=".950" stop-color="#080808"/><stop offset="1" stop-color="#070707"/></linearGradient><linearGradient id="g55"><stop offset=".000" stop-color="#070707"/><stop offset=".213" stop-color="#0e0e0e"/><stop offset=".313" stop-color="#1b1b1b"/><stop offset=".367" stop-color="#2a2a2a"/><stop offset=".400" stop-color="#3e3e3e"/><stop offset=".423" stop-color="#545454"/><stop offset=".443" stop-color="#717171"/><stop offset=".467" stop-color="#a1a1a1"/><stop offset=".483" stop-color="#c3c3c3"/><stop offset=".493" stop-color="#cfcfcf"/><stop offset=".503" stop-color="#d1d1d1"/><stop offset=".513" stop-color="#c8c8c8"/><stop offset=".527" stop-color="#afafaf"/><stop offset=".553" stop-color="#777777"/><stop offset=".573" stop-color="#585858"/><stop offset=".597" stop-color="#404040"/><stop offset=".630" stop-color="#2c2c2c"/><stop offset=".683" stop-color="#1b1b1b"/><stop offset=".780" stop-color="#0e0e0e"/><stop offset=".980" stop-color="#070707"/><stop offset="1" stop-color="#070707"/></linearGradient><linearGradient id="g56"><stop offset=".000" stop-color="#070707"/><stop offset=".213" stop-color="#0d0d0d"/><stop offset=".313" stop-color="#1a1a1a"/><stop offset=".367" stop-color="#292929"/><stop offset=".400" stop-color="#3b3b3b"/><stop offset=".423" stop-color="#515151"/><stop offset=".443" stop-color="#6d6d6d"/><stop offset=".467" stop-color="#9b9b9b"/><stop offset=".483" stop-color="#bcbcbc"/><stop offset=".493" stop-color="#c9c9c9"/><stop offset=".503" stop-color="#cbcbcb"/><stop offset=".513" stop-color="#c1c1c1"/><stop offset=".530" stop-color="#a2a2a2"/><stop offset=".553" stop-color="#737373"/><stop offset=".573" stop-color="#555555"/><stop offset=".597" stop-color="#3e3e3e"/><stop offset=".630" stop-color="#2a2a2a"/><stop offset=".683" stop-color="#1a1a1a"/><stop offset=".783" stop-color="#0e0e0e"/><stop offset=".997" stop-color="#070707"/><stop offset="1" stop-color="#070707"/></linearGradient><linearGradient id="g57"><stop offset=".000" stop-color="#070707"/><stop offset=".217" stop-color="#0d0d0d"/><stop offset=".317" stop-color="#1a1a1a"/><stop offset=".370" stop-color="#292929"/><stop offset=".403" stop-color="#3c3c3c"/><stop offset=".427" stop-color="#525252"/><stop offset=".447" stop-color="#707070"/><stop offset=".483" stop-color="#b7b7b7"/><stop offset=".493" stop-color="#c4c4c4"/><stop offset=".503" stop-color="#c5c5c5"/><stop offset=".513" stop-color="#bcbcbc"/><stop offset=".530" stop-color="#9e9e9e"/><stop offset=".553" stop-color="#707070"/><stop offset=".573" stop-color="#525252"/><stop offset=".597" stop-color="#3c3c3c"/><stop offset=".630" stop-color="#292929"/><stop offset=".687" stop-color="#191919"/><stop offset=".790" stop-color="#0d0d0d"/><stop offset="1" stop-color="#070707"/></linearGradient><linearGradient id="g58"><stop offset=".000" stop-color="#070707"/><stop offset=".217" stop-color="#0d0d0d"/><stop offset=".317" stop-color="#191919"/><stop offset=".370" stop-color="#282828"/><stop offset=".403" stop-color="#3b3b3b"/><stop offset=".427" stop-color="#515151"/><stop offset=".447" stop-color="#6d6d6d"/><stop offset=".483" stop-color="#b4b4b4"/><stop offset=".493" stop-color="#c0c0c0"/><stop offset=".503" stop-color="#c2c2c2"/><stop offset=".513" stop-color="#b9b9b9"/><stop offset=".530" stop-color="#9b9b9b"/><stop offset=".553" stop-color="#6d6d6d"/><stop offset=".573" stop-color="#515151"/><stop offset=".600" stop-color="#383838"/><stop offset=".637" stop-color="#262626"/><stop offset=".700" stop-color="#161616"/><stop offset=".820" stop-color="#0b0b0b"/><stop offset="1" stop-color="#070707"/></linearGradient><linearGradient id="g59"><stop offset=".000" stop-color="#060606"/><stop offset=".220" stop-color="#0d0d0d"/><stop offset=".320" stop-color="#191919"/><stop offset=".373" stop-color="#292929"/><stop offset=".407" stop-color="#3c3c3c"/><stop offset=".430" stop-color="#535353"/><stop offset=".450" stop-color="#717171"/><stop offset=".483" stop-color="#b1b1b1"/><stop offset=".493" stop-color="#bdbdbd"/><stop offset=".503" stop-color="#bebebe"/><stop offset=".513" stop-color="#b6b6b6"/><stop offset=".530" stop-color="#989898"/><stop offset=".553" stop-color="#6b6b6b"/><stop offset=".573" stop-color="#4f4f4f"/><stop offset=".600" stop-color="#373737"/><stop offset=".637" stop-color="#252525"/><stop offset=".700" stop-color="#161616"/><stop offset=".820" stop-color="#0b0b0b"/><stop offset="1" stop-color="#060606"/></linearGradient><linearGradient id="g60"><stop offset=".000" stop-color="#060606"/><stop offset=".220" stop-color="#0d0d0d"/><stop offset=".320" stop-color="#191919"/><stop offset=".373" stop-color="#282828"/><stop offset=".407" stop-color="#3a3a3a"/><stop offset=".430" stop-color="#515151"/><stop offset=".450" stop-color="#6e6e6e"/><stop offset=".483" stop-color="#adadad"/><stop offset=".493" stop-color="#b9b9b9"/><stop offset=".503" stop-color="#bbbbbb"/><stop offset=".513" stop-color="#b2b2b2"/><stop offset=".530" stop-color="#959595"/><stop offset=".553" stop-color="#696969"/><stop offset=".573" stop-color="#4d4d4d"/><stop offset=".600" stop-color="#363636"/><stop offset=".637" stop-color="#242424"/><stop offset=".700" stop-color="#151515"/><stop offset=".823" stop-color="#0a0a0a"/><stop offset="1" stop-color="#060606"/></linearGradient><linearGradient id="g61"><stop offset=".000" stop-color="#060606"/><stop offset=".223" stop-color="#0d0d0d"/><stop offset=".323" stop-color="#191919"/><stop offset=".377" stop-color="#282828"/><stop offset=".410" stop-color="#3c3c3c"/><stop offset=".433" stop-color="#535353"/><stop offset=".453" stop-color="#727272"/><stop offset=".483" stop-color="#aaaaaa"/><stop offset=".493" stop-color="#b5b5b5"/><stop offset=".503" stop-color="#b7b7b7"/><stop offset=".513" stop-color="#afafaf"/><stop offset=".530" stop-color="#929292"/><stop offset=".553" stop-color="#666666"/><stop offset=".573" stop-color="#4b4b4b"/><stop offset=".600" stop-color="#353535"/><stop offset=".640" stop-color="#222222"/><stop offset=".707" stop-color="#141414"/><stop offset=".840" stop-color="#0a0a0a"/><stop offset="1" stop-color="#060606"/></linearGradient><linearGradient id="g62"><stop offset=".000" stop-color="#060606"/><stop offset=".223" stop-color="#0d0d0d"/><stop offset=".323" stop-color="#181818"/><stop offset=".377" stop-color="#272727"/><stop offset=".410" stop-color="#3a3a3a"/><stop offset=".433" stop-color="#515151"/><stop offset=".453" stop-color="#6f6f6f"/><stop offset=".483" stop-color="#a6a6a6"/><stop offset=".493" stop-color="#b2b2b2"/><stop offset=".503" stop-color="#b4b4b4"/><stop offset=".513" stop-color="#ababab"/><stop offset=".530" stop-color="#8f8f8f"/><stop offset=".553" stop-color="#646464"/><stop offset=".573" stop-color="#4a4a4a"/><stop offset=".600" stop-color="#333333"/><stop offset=".640" stop-color="#212121"/><stop offset=".710" stop-color="#131313"/><stop offset=".850" stop-color="#090909"/><stop offset="1" stop-color="#060606"/></linearGradient><linearGradient id="g63"><stop offset=".000" stop-color="#060606"/><stop offset=".227" stop-color="#0d0d0d"/><stop offset=".327" stop-color="#181818"/><stop offset=".380" stop-color="#282828"/><stop offset=".413" stop-color="#3b3b3b"/><stop offset=".437" stop-color="#535353"/><stop offset=".457" stop-color="#727272"/><stop offset=".483" stop-color="#a3a3a3"/><stop offset=".493" stop-color="#aeaeae"/><stop offset=".503" stop-color="#b0b0b0"/><stop offset=".513" stop-color="#a7a7a7"/><stop offset=".530" stop-color="#8b8b8b"/><stop offset=".553" stop-color="#626262"/><stop offset=".573" stop-color="#484848"/><stop offset=".600" stop-color="#323232"/><stop offset=".640" stop-color="#212121"/><stop offset=".710" stop-color="#131313"/><stop offset=".850" stop-color="#090909"/><stop offset="1" stop-color="#060606"/></linearGradient><linearGradient id="g64"><stop offset=".000" stop-color="#060606"/><stop offset=".227" stop-color="#0c0c0c"/><stop offset=".327" stop-color="#181818"/><stop offset=".380" stop-color="#272727"/><stop offset=".413" stop-color="#3a3a3a"/><stop offset=".437" stop-color="#515151"/><stop offset=".457" stop-color="#707070"/><stop offset=".483" stop-color="#9f9f9f"/><stop offset=".493" stop-color="#aaaaaa"/><stop offset=".503" stop-color="#acacac"/><stop offset=".513" stop-color="#a4a4a4"/><stop offset=".533" stop-color="#828282"/><stop offset=".557" stop-color="#5a5a5a"/><stop offset=".580" stop-color="#404040"/><stop offset=".610" stop-color="#2b2b2b"/><stop offset=".657" stop-color="#1b1b1b"/><stop offset=".743" stop-color="#0f0f0f"/><stop offset=".927" stop-color="#070707"/><stop offset="1" stop-color="#060606"/></linearGradient><linearGradient id="g65"><stop offset=".000" stop-color="#060606"/><stop offset=".230" stop-color="#0c0c0c"/><stop offset=".330" stop-color="#181818"/><stop offset=".383" stop-color="#272727"/><stop offset=".417" stop-color="#3b3b3b"/><stop offset=".440" stop-color="#545454"/><stop offset=".463" stop-color="#797979"/><stop offset=".483" stop-color="#9c9c9c"/><stop offset=".493" stop-color="#a7a7a7"/><stop offset=".503" stop-color="#a8a8a8"/><stop offset=".513" stop-color="#a0a0a0"/><stop offset=".533" stop-color="#7f7f7f"/><stop offset=".557" stop-color="#585858"/><stop offset=".580" stop-color="#3e3e3e"/><stop offset=".610" stop-color="#2a2a2a"/><stop offset=".657" stop-color="#1b1b1b"/><stop offset=".747" stop-color="#0e0e0e"/><stop offset=".940" stop-color="#070707"/><stop offset="1" stop-color="#060606"/></linearGradient><linearGradient id="g66"><stop offset=".000" stop-color="#060606"/><stop offset=".230" stop-color="#0c0c0c"/><stop offset=".333" stop-color="#181818"/><stop offset=".383" stop-color="#262626"/><stop offset=".417" stop-color="#3a3a3a"/><stop offset=".440" stop-color="#525252"/><stop offset=".463" stop-color="#767676"/><stop offset=".483" stop-color="#989898"/><stop offset=".493" stop-color="#a3a3a3"/><stop offset=".503" stop-color="#a5a5a5"/><stop offset=".513" stop-color="#9d9d9d"/><stop offset=".533" stop-color="#7c7c7c"/><stop offset=".557" stop-color="#565656"/><stop offset=".580" stop-color="#3c3c3c"/><stop offset=".610" stop-color="#292929"/><stop offset=".660" stop-color="#191919"/><stop offset=".757" stop-color="#0d0d0d"/><stop offset=".970" stop-color="#060606"/><stop offset="1" stop-color="#060606"/></linearGradient><linearGradient id="g67"><stop offset=".000" stop-color="#060606"/><stop offset=".233" stop-color="#0c0c0c"/><stop offset=".333" stop-color="#171717"/><stop offset=".387" stop-color="#272727"/><stop offset=".417" stop-color="#383838"/><stop offset=".440" stop-color="#4f4f4f"/><stop offset=".463" stop-color="#737373"/><stop offset=".483" stop-color="#959595"/><stop offset=".493" stop-color="#9f9f9f"/><stop offset=".503" stop-color="#a1a1a1"/><stop offset=".513" stop-color="#999999"/><stop offset=".533" stop-color="#797979"/><stop offset=".557" stop-color="#545454"/><stop offset=".580" stop-color="#3b3b3b"/><stop offset=".610" stop-color="#282828"/><stop offset=".660" stop-color="#191919"/><stop offset=".757" stop-color="#0d0d0d"/><stop offset=".973" stop-color="#060606"/><stop offset="1" stop-color="#060606"/></linearGradient><linearGradient id="g68"><stop offset=".000" stop-color="#060606"/><stop offset=".233" stop-color="#0c0c0c"/><stop offset=".337" stop-color="#181818"/><stop offset=".387" stop-color="#262626"/><stop offset=".417" stop-color="#373737"/><stop offset=".440" stop-color="#4d4d4d"/><stop offset=".463" stop-color="#707070"/><stop offset=".487" stop-color="#959595"/><stop offset=".497" stop-color="#9d9d9d"/><stop offset=".507" stop-color="#9c9c9c"/><stop offset=".520" stop-color="#8c8c8c"/><stop offset=".553" stop-color="#565656"/><stop offset=".577" stop-color="#3c3c3c"/><stop offset=".607" stop-color="#292929"/><stop offset=".653" stop-color="#1a1a1a"/><stop offset=".747" stop-color="#0d0d0d"/><stop offset=".953" stop-color="#060606"/><stop offset="1" stop-color="#060606"/></linearGradient><linearGradient id="g69"><stop offset=".000" stop-color="#060606"/><stop offset=".237" stop-color="#0c0c0c"/><stop offset=".337" stop-color="#171717"/><stop offset=".387" stop-color="#252525"/><stop offset=".420" stop-color="#383838"/><stop offset=".443" stop-color="#4f4f4f"/><stop offset=".467" stop-color="#737373"/><stop offset=".487" stop-color="#929292"/><stop offset=".497" stop-color="#999999"/><stop offset=".507" stop-color="#989898"/><stop offset=".520" stop-color="#898989"/><stop offset=".553" stop-color="#545454"/><stop offset=".577" stop-color="#3b3b3b"/><stop offset=".607" stop-color="#282828"/><stop offset=".657" stop-color="#181818"/><stop offset=".753" stop-color="#0d0d0d"/><stop offset=".977" stop-color="#060606"/><stop offset="1" stop-color="#060606"/></linearGradient><linearGradient id="g70"><stop offset=".000" stop-color="#060606"/><stop offset=".240" stop-color="#0c0c0c"/><stop offset=".340" stop-color="#171717"/><stop offset=".390" stop-color="#252525"/><stop offset=".420" stop-color="#363636"/><stop offset=".443" stop-color="#4d4d4d"/><stop offset=".467" stop-color="#707070"/><stop offset=".487" stop-color="#8e8e8e"/><stop offset=".497" stop-color="#969696"/><stop offset=".507" stop-color="#949494"/><stop offset=".520" stop-color="#858585"/><stop offset=".553" stop-color="#525252"/><stop offset=".577" stop-color="#393939"/><stop offset=".607" stop-color="#272727"/><stop offset=".657" stop-color="#181818"/><stop offset=".757" stop-color="#0c0c0c"/><stop offset=".990" stop-color="#060606"/><stop offset="1" stop-color="#060606"/></linearGradient><linearGradient id="g71"><stop offset=".000" stop-color="#060606"/><stop offset=".240" stop-color="#0c0c0c"/><stop offset=".343" stop-color="#171717"/><stop offset=".393" stop-color="#262626"/><stop offset=".423" stop-color="#373737"/><stop offset=".447" stop-color="#4f4f4f"/><stop offset=".487" stop-color="#8b8b8b"/><stop offset=".497" stop-color="#929292"/><stop offset=".507" stop-color="#909090"/><stop offset=".520" stop-color="#828282"/><stop offset=".553" stop-color="#4f4f4f"/><stop offset=".577" stop-color="#373737"/><stop offset=".607" stop-color="#262626"/><stop offset=".657" stop-color="#171717"/><stop offset=".760" stop-color="#0c0c0c"/><stop offset="1" stop-color="#060606"/></linearGradient><linearGradient id="g72"><stop offset=".000" stop-color="#060606"/><stop offset=".243" stop-color="#0c0c0c"/><stop offset=".343" stop-color="#171717"/><stop offset=".393" stop-color="#252525"/><stop offset=".423" stop-color="#363636"/><stop offset=".447" stop-color="#4d4d4d"/><stop offset=".487" stop-color="#878787"/><stop offset=".497" stop-color="#8e8e8e"/><stop offset=".507" stop-color="#8d8d8d"/><stop offset=".520" stop-color="#7f7f7f"/><stop offset=".553" stop-color="#4d4d4d"/><stop offset=".577" stop-color="#363636"/><stop offset=".610" stop-color="#232323"/><stop offset=".667" stop-color="#151515"/><stop offset=".783" stop-color="#0a0a0a"/><stop offset="1" stop-color="#060606"/></linearGradient><linearGradient id="g73"><stop offset=".000" stop-color="#060606"/><stop offset=".247" stop-color="#0c0c0c"/><stop offset=".347" stop-color="#171717"/><stop offset=".397" stop-color="#252525"/><stop offset=".427" stop-color="#373737"/><stop offset=".450" stop-color="#4f4f4f"/><stop offset=".487" stop-color="#848484"/><stop offset=".497" stop-color="#8b8b8b"/><stop offset=".507" stop-color="#898989"/><stop offset=".520" stop-color="#7b7b7b"/><stop offset=".553" stop-color="#4b4b4b"/><stop offset=".577" stop-color="#343434"/><stop offset=".610" stop-color="#222222"/><stop offset=".667" stop-color="#141414"/><stop offset=".787" stop-color="#0a0a0a"/><stop offset="1" stop-color="#060606"/></linearGradient><linearGradient id="g74"><stop offset=".000" stop-color="#060606"/><stop offset=".247" stop-color="#0b0b0b"/><stop offset=".350" stop-color="#171717"/><stop offset=".400" stop-color="#252525"/><stop offset=".430" stop-color="#383838"/><stop offset=".453" stop-color="#515151"/><stop offset=".487" stop-color="#808080"/><stop offset=".497" stop-color="#878787"/><stop offset=".507" stop-color="#858585"/><stop offset=".520" stop-color="#787878"/><stop offset=".553" stop-color="#494949"/><stop offset=".577" stop-color="#333333"/><stop offset=".610" stop-color="#212121"/><stop offset=".667" stop-color="#141414"/><stop offset=".790" stop-color="#0a0a0a"/><stop offset="1" stop-color="#060606"/></linearGradient><linearGradient id="g75"><stop offset=".000" stop-color="#060606"/><stop offset=".250" stop-color="#0b0b0b"/><stop offset=".350" stop-color="#161616"/><stop offset=".400" stop-color="#242424"/><stop offset=".430" stop-color="#363636"/><stop offset=".453" stop-color="#4f4f4f"/><stop offset=".487" stop-color="#7d7d7d"/><stop offset=".497" stop-color="#838383"/><stop offset=".507" stop-color="#828282"/><stop offset=".520" stop-color="#757575"/><stop offset=".553" stop-color="#474747"/><stop offset=".577" stop-color="#313131"/><stop offset=".610" stop-color="#202020"/><stop offset=".670" stop-color="#131313"/><stop offset=".800" stop-color="#090909"/><stop offset="1" stop-color="#060606"/></linearGradient><linearGradient id="g76"><stop offset=".000" stop-color="#050505"/><stop offset=".253" stop-color="#0b0b0b"/><stop offset=".353" stop-color="#161616"/><stop offset=".403" stop-color="#252525"/><stop offset=".433" stop-color="#373737"/><stop offset=".457" stop-color="#515151"/><stop offset=".487" stop-color="#797979"/><stop offset=".497" stop-color="#808080"/><stop offset=".507" stop-color="#7e7e7e"/><stop offset=".520" stop-color="#717171"/><stop offset=".553" stop-color="#444444"/><stop offset=".580" stop-color="#2e2e2e"/><stop offset=".617" stop-color="#1d1d1d"/><stop offset=".683" stop-color="#111111"/><stop offset=".833" stop-color="#080808"/><stop offset="1" stop-color="#050505"/></linearGradient><linearGradient id="g77"><stop offset=".000" stop-color="#050505"/><stop offset=".253" stop-color="#0b0b0b"/><stop offset=".353" stop-color="#151515"/><stop offset=".403" stop-color="#242424"/><stop offset=".433" stop-color="#363636"/><stop offset=".457" stop-color="#4e4e4e"/><stop offset=".487" stop-color="#767676"/><stop offset=".497" stop-color="#7c7c7c"/><stop offset=".507" stop-color="#7b7b7b"/><stop offset=".520" stop-color="#6e6e6e"/><stop offset=".553" stop-color="#424242"/><stop offset=".580" stop-color="#2c2c2c"/><stop offset=".617" stop-color="#1c1c1c"/><stop offset=".687" stop-color="#101010"/><stop offset=".847" stop-color="#070707"/><stop offset="1" stop-color="#050505"/></linearGradient><linearGradient id="g78"><stop offset=".000" stop-color="#050505"/><stop offset=".257" stop-color="#0b0b0b"/><stop offset=".357" stop-color="#151515"/><stop offset=".403" stop-color="#232323"/><stop offset=".433" stop-color="#343434"/><stop offset=".457" stop-color="#4c4c4c"/><stop offset=".487" stop-color="#727272"/><stop offset=".497" stop-color="#797979"/><stop offset=".507" stop-color="#777777"/><stop offset=".520" stop-color="#6b6b6b"/><stop offset=".553" stop-color="#404040"/><stop offset=".580" stop-color="#2b2b2b"/><stop offset=".620" stop-color="#1b1b1b"/><stop offset=".693" stop-color="#0f0f0f"/><stop offset=".867" stop-color="#070707"/><stop offset="1" stop-color="#050505"/></linearGradient><linearGradient id="g79"><stop offset=".000" stop-color="#050505"/><stop offset=".260" stop-color="#0b0b0b"/><stop offset=".360" stop-color="#151515"/><stop offset=".407" stop-color="#222222"/><stop offset=".437" stop-color="#343434"/><stop offset=".460" stop-color="#4c4c4c"/><stop offset=".487" stop-color="#6d6d6d"/><stop offset=".500" stop-color="#747474"/><stop offset=".513" stop-color="#6d6d6d"/><stop offset=".557" stop-color="#3a3a3a"/><stop offset=".583" stop-color="#272727"/><stop offset=".627" stop-color="#181818"/><stop offset=".713" stop-color="#0d0d0d"/><stop offset=".927" stop-color="#060606"/><stop offset="1" stop-color="#050505"/></linearGradient><linearGradient id="g80"><stop offset=".000" stop-color="#050505"/><stop offset=".267" stop-color="#0b0b0b"/><stop offset=".367" stop-color="#151515"/><stop offset=".413" stop-color="#232323"/><stop offset=".443" stop-color="#363636"/><stop offset=".473" stop-color="#585858"/><stop offset=".490" stop-color="#696969"/><stop offset=".503" stop-color="#6c6c6c"/><stop offset=".517" stop-color="#636363"/><stop offset=".553" stop-color="#393939"/><stop offset=".580" stop-color="#262626"/><stop offset=".620" stop-color="#181818"/><stop offset=".703" stop-color="#0d0d0d"/><stop offset=".910" stop-color="#060606"/><stop offset="1" stop-color="#050505"/></linearGradient><linearGradient id="g81"><stop offset=".000" stop-color="#050505"/><stop offset=".270" stop-color="#0a0a0a"/><stop offset=".370" stop-color="#151515"/><stop offset=".417" stop-color="#222222"/><stop offset=".447" stop-color="#363636"/><stop offset=".490" stop-color="#636363"/><stop offset=".503" stop-color="#666666"/><stop offset=".517" stop-color="#5d5d5d"/><stop offset=".553" stop-color="#363636"/><stop offset=".583" stop-color="#222222"/><stop offset=".630" stop-color="#151515"/><stop offset=".733" stop-color="#0a0a0a"/><stop offset="1" stop-color="#050505"/></linearGradient><linearGradient id="g82"><stop offset=".000" stop-color="#050505"/><stop offset=".277" stop-color="#0a0a0a"/><stop offset=".373" stop-color="#141414"/><stop offset=".420" stop-color="#222222"/><stop offset=".450" stop-color="#353535"/><stop offset=".490" stop-color="#5c5c5c"/><stop offset=".503" stop-color="#5f5f5f"/><stop offset=".517" stop-color="#575757"/><stop offset=".553" stop-color="#323232"/><stop offset=".583" stop-color="#202020"/><stop offset=".633" stop-color="#131313"/><stop offset=".747" stop-color="#090909"/><stop offset="1" stop-color="#050505"/></linearGradient><linearGradient id="g83"><stop offset=".000" stop-color="#050505"/><stop offset=".283" stop-color="#0a0a0a"/><stop offset=".380" stop-color="#141414"/><stop offset=".423" stop-color="#212121"/><stop offset=".453" stop-color="#343434"/><stop offset=".490" stop-color="#565656"/><stop offset=".503" stop-color="#595959"/><stop offset=".520" stop-color="#4e4e4e"/><stop offset=".553" stop-color="#2f2f2f"/><stop offset=".583" stop-color="#1e1e1e"/><stop offset=".633" stop-color="#121212"/><stop offset=".757" stop-color="#080808"/><stop offset="1" stop-color="#050505"/></linearGradient><linearGradient id="g84"><stop offset=".000" stop-color="#050505"/><stop offset=".290" stop-color="#0a0a0a"/><stop offset=".387" stop-color="#141414"/><stop offset=".430" stop-color="#212121"/><stop offset=".460" stop-color="#363636"/><stop offset=".490" stop-color="#515151"/><stop offset=".503" stop-color="#535353"/><stop offset=".520" stop-color="#494949"/><stop offset=".557" stop-color="#292929"/><stop offset=".590" stop-color="#1a1a1a"/><stop offset=".653" stop-color="#0e0e0e"/><stop offset=".823" stop-color="#060606"/><stop offset="1" stop-color="#050505"/></linearGradient><linearGradient id="g85"><stop offset=".000" stop-color="#050505"/><stop offset=".293" stop-color="#0a0a0a"/><stop offset=".390" stop-color="#131313"/><stop offset=".433" stop-color="#212121"/><stop offset=".463" stop-color="#353535"/><stop offset=".490" stop-color="#4b4b4b"/><stop offset=".503" stop-color="#4d4d4d"/><stop offset=".520" stop-color="#444444"/><stop offset=".557" stop-color="#262626"/><stop offset=".593" stop-color="#171717"/><stop offset=".663" stop-color="#0d0d0d"/><stop offset=".867" stop-color="#060606"/><stop offset="1" stop-color="#050505"/></linearGradient><linearGradient id="g86"><stop offset=".000" stop-color="#050505"/><stop offset=".300" stop-color="#0a0a0a"/><stop offset=".393" stop-color="#131313"/><stop offset=".437" stop-color="#202020"/><stop offset=".467" stop-color="#343434"/><stop offset=".490" stop-color="#464646"/><stop offset=".503" stop-color="#484848"/><stop offset=".520" stop-color="#3f3f3f"/><stop offset=".557" stop-color="#232323"/><stop offset=".593" stop-color="#151515"/><stop offset=".670" stop-color="#0b0b0b"/><stop offset=".903" stop-color="#050505"/><stop offset="1" stop-color="#050505"/></linearGradient><linearGradient id="g87"><stop offset=".000" stop-color="#050505"/><stop offset=".307" stop-color="#0a0a0a"/><stop offset=".400" stop-color="#131313"/><stop offset=".440" stop-color="#1f1f1f"/><stop offset=".473" stop-color="#353535"/><stop offset=".493" stop-color="#424242"/><stop offset=".507" stop-color="#424242"/><stop offset=".533" stop-color="#303030"/><stop offset=".563" stop-color="#1e1e1e"/><stop offset=".607" stop-color="#111111"/><stop offset=".713" stop-color="#090909"/><stop offset="1" stop-color="#050505"/></linearGradient><linearGradient id="g88"><stop offset=".000" stop-color="#050505"/><stop offset=".313" stop-color="#090909"/><stop offset=".403" stop-color="#121212"/><stop offset=".443" stop-color="#1e1e1e"/><stop offset=".493" stop-color="#3d3d3d"/><stop offset=".510" stop-color="#3c3c3c"/><stop offset=".560" stop-color="#1d1d1d"/><stop offset=".603" stop-color="#111111"/><stop offset=".710" stop-color="#080808"/><stop offset="1" stop-color="#050505"/></linearGradient><linearGradient id="g89"><stop offset=".000" stop-color="#050505"/><stop offset=".320" stop-color="#090909"/><stop offset=".410" stop-color="#121212"/><stop offset=".450" stop-color="#1f1f1f"/><stop offset=".493" stop-color="#383838"/><stop offset=".510" stop-color="#373737"/><stop offset=".560" stop-color="#1b1b1b"/><stop offset=".607" stop-color="#0f0f0f"/><stop offset=".733" stop-color="#070707"/><stop offset="1" stop-color="#050505"/></linearGradient><linearGradient id="g90"><stop offset=".000" stop-color="#050505"/><stop offset=".330" stop-color="#090909"/><stop offset=".413" stop-color="#111111"/><stop offset=".453" stop-color="#1e1e1e"/><stop offset=".493" stop-color="#343434"/><stop offset=".510" stop-color="#333333"/><stop offset=".560" stop-color="#181818"/><stop offset=".610" stop-color="#0e0e0e"/><stop offset=".757" stop-color="#070707"/><stop offset="1" stop-color="#050505"/></linearGradient><linearGradient id="g91"><stop offset=".000" stop-color="#050505"/><stop offset=".337" stop-color="#090909"/><stop offset=".420" stop-color="#111111"/><stop offset=".460" stop-color="#1f1f1f"/><stop offset=".493" stop-color="#303030"/><stop offset=".510" stop-color="#2f2f2f"/><stop offset=".560" stop-color="#171717"/><stop offset=".613" stop-color="#0c0c0c"/><stop offset=".787" stop-color="#060606"/><stop offset="1" stop-color="#050505"/></linearGradient><linearGradient id="g92"><stop offset=".000" stop-color="#040404"/><stop offset=".343" stop-color="#090909"/><stop offset=".423" stop-color="#111111"/><stop offset=".463" stop-color="#1e1e1e"/><stop offset=".493" stop-color="#2c2c2c"/><stop offset=".510" stop-color="#2b2b2b"/><stop offset=".560" stop-color="#151515"/><stop offset=".620" stop-color="#0b0b0b"/><stop offset=".837" stop-color="#050505"/><stop offset="1" stop-color="#040404"/></linearGradient><linearGradient id="g93"><stop offset=".000" stop-color="#040404"/><stop offset=".353" stop-color="#090909"/><stop offset=".430" stop-color="#101010"/><stop offset=".470" stop-color="#1e1e1e"/><stop offset=".497" stop-color="#282828"/><stop offset=".517" stop-color="#242424"/><stop offset=".563" stop-color="#121212"/><stop offset=".633" stop-color="#090909"/><stop offset=".933" stop-color="#050505"/><stop offset="1" stop-color="#040404"/></linearGradient><linearGradient id="g94"><stop offset=".000" stop-color="#040404"/><stop offset=".360" stop-color="#090909"/><stop offset=".437" stop-color="#101010"/><stop offset=".497" stop-color="#242424"/><stop offset=".520" stop-color="#202020"/><stop offset=".563" stop-color="#101010"/><stop offset=".640" stop-color="#090909"/><stop offset="1" stop-color="#040404"/></linearGradient><linearGradient id="g95"><stop offset=".000" stop-color="#878787"/><stop offset=".215" stop-color="#898989"/><stop offset=".268" stop-color="#949494"/><stop offset=".325" stop-color="#a5a5a5"/><stop offset=".351" stop-color="#a3a3a3"/><stop offset=".374" stop-color="#969696"/><stop offset=".394" stop-color="#808080"/><stop offset=".440" stop-color="#383838"/><stop offset=".460" stop-color="#242424"/><stop offset=".480" stop-color="#1b1b1b"/><stop offset=".520" stop-color="#1b1b1b"/><stop offset=".540" stop-color="#242424"/><stop offset=".560" stop-color="#383838"/><stop offset=".609" stop-color="#858585"/><stop offset=".629" stop-color="#999999"/><stop offset=".652" stop-color="#a4a4a4"/><stop offset=".682" stop-color="#a4a4a4"/><stop offset=".765" stop-color="#8c8c8c"/><stop offset=".841" stop-color="#878787"/><stop offset="1" stop-color="#878787"/></linearGradient><linearGradient id="g96"><stop offset=".000" stop-color="#878787"/><stop offset=".215" stop-color="#898989"/><stop offset=".268" stop-color="#949494"/><stop offset=".325" stop-color="#a4a4a4"/><stop offset=".351" stop-color="#a1a1a1"/><stop offset=".371" stop-color="#959595"/><stop offset=".391" stop-color="#7f7f7f"/><stop offset=".437" stop-color="#393939"/><stop offset=".457" stop-color="#252525"/><stop offset=".480" stop-color="#1b1b1b"/><stop offset=".520" stop-color="#1b1b1b"/><stop offset=".543" stop-color="#252525"/><stop offset=".563" stop-color="#393939"/><stop offset=".613" stop-color="#848484"/><stop offset=".632" stop-color="#989898"/><stop offset=".656" stop-color="#a3a3a3"/><stop offset=".685" stop-color="#a2a2a2"/><stop offset=".765" stop-color="#8c8c8c"/><stop offset=".844" stop-color="#878787"/><stop offset="1" stop-color="#878787"/></linearGradient><linearGradient id="g97"><stop offset=".000" stop-color="#878787"/><stop offset=".219" stop-color="#898989"/><stop offset=".272" stop-color="#949494"/><stop offset=".321" stop-color="#a2a2a2"/><stop offset=".348" stop-color="#9f9f9f"/><stop offset=".368" stop-color="#949494"/><stop offset=".391" stop-color="#797979"/><stop offset=".434" stop-color="#3a3a3a"/><stop offset=".454" stop-color="#262626"/><stop offset=".477" stop-color="#1b1b1b"/><stop offset=".517" stop-color="#1a1a1a"/><stop offset=".540" stop-color="#212121"/><stop offset=".560" stop-color="#323232"/><stop offset=".586" stop-color="#565656"/><stop offset=".616" stop-color="#828282"/><stop offset=".636" stop-color="#969696"/><stop offset=".659" stop-color="#a1a1a1"/><stop offset=".689" stop-color="#a0a0a0"/><stop offset=".768" stop-color="#8b8b8b"/><stop offset=".861" stop-color="#878787"/><stop offset="1" stop-color="#878787"/></linearGradient><linearGradient id="g98"><stop offset=".000" stop-color="#878787"/><stop offset=".219" stop-color="#898989"/><stop offset=".275" stop-color="#949494"/><stop offset=".321" stop-color="#9f9f9f"/><stop offset=".344" stop-color="#9c9c9c"/><stop offset=".364" stop-color="#919191"/><stop offset=".387" stop-color="#787878"/><stop offset=".434" stop-color="#373737"/><stop offset=".457" stop-color="#222222"/><stop offset=".480" stop-color="#1a1a1a"/><stop offset=".523" stop-color="#1a1a1a"/><stop offset=".546" stop-color="#242424"/><stop offset=".570" stop-color="#3b3b3b"/><stop offset=".623" stop-color="#848484"/><stop offset=".642" stop-color="#969696"/><stop offset=".666" stop-color="#9f9f9f"/><stop offset=".695" stop-color="#9d9d9d"/><stop offset=".768" stop-color="#8b8b8b"/><stop offset=".868" stop-color="#878787"/><stop offset="1" stop-color="#878787"/></linearGradient><linearGradient id="g99"><stop offset=".000" stop-color="#878787"/><stop offset=".222" stop-color="#898989"/><stop offset=".285" stop-color="#969696"/><stop offset=".325" stop-color="#9c9c9c"/><stop offset=".348" stop-color="#969696"/><stop offset=".371" stop-color="#858585"/><stop offset=".401" stop-color="#5f5f5f"/><stop offset=".434" stop-color="#343434"/><stop offset=".457" stop-color="#212121"/><stop offset=".483" stop-color="#191919"/><stop offset=".526" stop-color="#1a1a1a"/><stop offset=".550" stop-color="#252525"/><stop offset=".573" stop-color="#3b3b3b"/><stop offset=".626" stop-color="#818181"/><stop offset=".649" stop-color="#959595"/><stop offset=".672" stop-color="#9c9c9c"/><stop offset=".709" stop-color="#979797"/><stop offset=".775" stop-color="#8a8a8a"/><stop offset=".950" stop-color="#878787"/><stop offset="1" stop-color="#878787"/></linearGradient><linearGradient id="g100"><stop offset=".000" stop-color="#878787"/><stop offset=".225" stop-color="#898989"/><stop offset=".318" stop-color="#999999"/><stop offset=".344" stop-color="#939393"/><stop offset=".368" stop-color="#828282"/><stop offset=".401" stop-color="#595959"/><stop offset=".434" stop-color="#313131"/><stop offset=".457" stop-color="#202020"/><stop offset=".483" stop-color="#181818"/><stop offset=".526" stop-color="#1a1a1a"/><stop offset=".550" stop-color="#232323"/><stop offset=".573" stop-color="#383838"/><stop offset=".629" stop-color="#7e7e7e"/><stop offset=".652" stop-color="#919191"/><stop offset=".675" stop-color="#989898"/><stop offset=".712" stop-color="#959595"/><stop offset=".781" stop-color="#898989"/><stop offset="1" stop-color="#878787"/></linearGradient><linearGradient id="g101"><stop offset=".000" stop-color="#878787"/><stop offset=".228" stop-color="#898989"/><stop offset=".315" stop-color="#959595"/><stop offset=".341" stop-color="#8f8f8f"/><stop offset=".364" stop-color="#7e7e7e"/><stop offset=".397" stop-color="#585858"/><stop offset=".430" stop-color="#313131"/><stop offset=".454" stop-color="#202020"/><stop offset=".480" stop-color="#181818"/><stop offset=".526" stop-color="#191919"/><stop offset=".553" stop-color="#242424"/><stop offset=".579" stop-color="#3c3c3c"/><stop offset=".632" stop-color="#7b7b7b"/><stop offset=".656" stop-color="#8d8d8d"/><stop offset=".682" stop-color="#959595"/><stop offset=".732" stop-color="#8f8f8f"/><stop offset=".805" stop-color="#888888"/><stop offset="1" stop-color="#878787"/></linearGradient><linearGradient id="g102"><stop offset=".000" stop-color="#878787"/><stop offset=".232" stop-color="#898989"/><stop offset=".311" stop-color="#919191"/><stop offset=".338" stop-color="#8a8a8a"/><stop offset=".364" stop-color="#787878"/><stop offset=".427" stop-color="#323232"/><stop offset=".454" stop-color="#1f1f1f"/><stop offset=".483" stop-color="#171717"/><stop offset=".530" stop-color="#191919"/><stop offset=".556" stop-color="#252525"/><stop offset=".583" stop-color="#3c3c3c"/><stop offset=".636" stop-color="#787878"/><stop offset=".662" stop-color="#8a8a8a"/><stop offset=".689" stop-color="#919191"/><stop offset=".811" stop-color="#878787"/><stop offset="1" stop-color="#878787"/></linearGradient><linearGradient id="g103"><stop offset=".000" stop-color="#878787"/><stop offset=".238" stop-color="#898989"/><stop offset=".308" stop-color="#8d8d8d"/><stop offset=".338" stop-color="#858585"/><stop offset=".364" stop-color="#717171"/><stop offset=".427" stop-color="#2f2f2f"/><stop offset=".454" stop-color="#1e1e1e"/><stop offset=".483" stop-color="#161616"/><stop offset=".530" stop-color="#181818"/><stop offset=".556" stop-color="#232323"/><stop offset=".586" stop-color="#3c3c3c"/><stop offset=".639" stop-color="#747474"/><stop offset=".666" stop-color="#868686"/><stop offset=".695" stop-color="#8e8e8e"/><stop offset=".834" stop-color="#878787"/><stop offset="1" stop-color="#878787"/></linearGradient><linearGradient id="g104"><stop offset=".000" stop-color="#878787"/><stop offset=".248" stop-color="#898989"/><stop offset=".305" stop-color="#8a8a8a"/><stop offset=".334" stop-color="#818181"/><stop offset=".364" stop-color="#6b6b6b"/><stop offset=".424" stop-color="#2f2f2f"/><stop offset=".454" stop-color="#1d1d1d"/><stop offset=".487" stop-color="#161616"/><stop offset=".533" stop-color="#181818"/><stop offset=".563" stop-color="#252525"/><stop offset=".596" stop-color="#424242"/><stop offset=".646" stop-color="#747474"/><stop offset=".672" stop-color="#848484"/><stop offset=".705" stop-color="#8b8b8b"/><stop offset=".894" stop-color="#878787"/><stop offset="1" stop-color="#878787"/></linearGradient><linearGradient id="g105"><stop offset=".000" stop-color="#878787"/><stop offset=".298" stop-color="#888888"/><stop offset=".331" stop-color="#7d7d7d"/><stop offset=".361" stop-color="#686868"/><stop offset=".424" stop-color="#2d2d2d"/><stop offset=".454" stop-color="#1c1c1c"/><stop offset=".487" stop-color="#151515"/><stop offset=".533" stop-color="#181818"/><stop offset=".563" stop-color="#242424"/><stop offset=".596" stop-color="#3e3e3e"/><stop offset=".649" stop-color="#707070"/><stop offset=".679" stop-color="#828282"/><stop offset=".715" stop-color="#898989"/><stop offset="1" stop-color="#878787"/></linearGradient><linearGradient id="g106"><stop offset=".000" stop-color="#878787"/><stop offset=".285" stop-color="#868686"/><stop offset=".321" stop-color="#7d7d7d"/><stop offset=".354" stop-color="#686868"/><stop offset=".424" stop-color="#2b2b2b"/><stop offset=".454" stop-color="#1b1b1b"/><stop offset=".490" stop-color="#151515"/><stop offset=".536" stop-color="#181818"/><stop offset=".566" stop-color="#242424"/><stop offset=".603" stop-color="#414141"/><stop offset=".652" stop-color="#6d6d6d"/><stop offset=".685" stop-color="#808080"/><stop offset=".725" stop-color="#878787"/><stop offset="1" stop-color="#878787"/></linearGradient><linearGradient id="g107"><stop offset=".000" stop-color="#878787"/><stop offset=".272" stop-color="#858585"/><stop offset=".311" stop-color="#7c7c7c"/><stop offset=".344" stop-color="#696969"/><stop offset=".421" stop-color="#2a2a2a"/><stop offset=".454" stop-color="#1a1a1a"/><stop offset=".493" stop-color="#141414"/><stop offset=".540" stop-color="#181818"/><stop offset=".573" stop-color="#262626"/><stop offset=".616" stop-color="#484848"/><stop offset=".662" stop-color="#6e6e6e"/><stop offset=".695" stop-color="#7e7e7e"/><stop offset=".738" stop-color="#868686"/><stop offset="1" stop-color="#878787"/></linearGradient><linearGradient id="g108"><stop offset=".000" stop-color="#878787"/><stop offset=".255" stop-color="#858585"/><stop offset=".301" stop-color="#7b7b7b"/><stop offset=".338" stop-color="#686868"/><stop offset=".421" stop-color="#282828"/><stop offset=".454" stop-color="#191919"/><stop offset=".493" stop-color="#131313"/><stop offset=".540" stop-color="#171717"/><stop offset=".573" stop-color="#242424"/><stop offset=".616" stop-color="#434343"/><stop offset=".669" stop-color="#6d6d6d"/><stop offset=".705" stop-color="#7d7d7d"/><stop offset=".755" stop-color="#858585"/><stop offset="1" stop-color="#878787"/></linearGradient><linearGradient id="g109"><stop offset=".000" stop-color="#868686"/><stop offset=".242" stop-color="#848484"/><stop offset=".291" stop-color="#7b7b7b"/><stop offset=".331" stop-color="#676767"/><stop offset=".417" stop-color="#282828"/><stop offset=".454" stop-color="#181818"/><stop offset=".497" stop-color="#131313"/><stop offset=".543" stop-color="#171717"/><stop offset=".579" stop-color="#262626"/><stop offset=".632" stop-color="#4d4d4d"/><stop offset=".679" stop-color="#6d6d6d"/><stop offset=".719" stop-color="#7e7e7e"/><stop offset=".775" stop-color="#858585"/><stop offset="1" stop-color="#868686"/></linearGradient><linearGradient id="g110"><stop offset=".000" stop-color="#868686"/><stop offset=".228" stop-color="#848484"/><stop offset=".281" stop-color="#7a7a7a"/><stop offset=".325" stop-color="#676767"/><stop offset=".417" stop-color="#262626"/><stop offset=".454" stop-color="#171717"/><stop offset=".500" stop-color="#131313"/><stop offset=".546" stop-color="#171717"/><stop offset=".583" stop-color="#262626"/><stop offset=".642" stop-color="#505050"/><stop offset=".689" stop-color="#6e6e6e"/><stop offset=".732" stop-color="#7e7e7e"/><stop offset=".795" stop-color="#858585"/><stop offset="1" stop-color="#868686"/></linearGradient><linearGradient id="g111"><stop offset=".000" stop-color="#868686"/><stop offset=".219" stop-color="#848484"/><stop offset=".272" stop-color="#7a7a7a"/><stop offset=".315" stop-color="#686868"/><stop offset=".417" stop-color="#242424"/><stop offset=".457" stop-color="#161616"/><stop offset=".510" stop-color="#121212"/><stop offset=".553" stop-color="#181818"/><stop offset=".593" stop-color="#2a2a2a"/><stop offset=".689" stop-color="#6a6a6a"/><stop offset=".732" stop-color="#7b7b7b"/><stop offset=".788" stop-color="#848484"/><stop offset="1" stop-color="#868686"/></linearGradient><linearGradient id="g112"><stop offset=".000" stop-color="#868686"/><stop offset=".209" stop-color="#838383"/><stop offset=".265" stop-color="#797979"/><stop offset=".311" stop-color="#656565"/><stop offset=".414" stop-color="#242424"/><stop offset=".454" stop-color="#161616"/><stop offset=".503" stop-color="#121212"/><stop offset=".550" stop-color="#171717"/><stop offset=".589" stop-color="#262626"/><stop offset=".695" stop-color="#696969"/><stop offset=".742" stop-color="#7b7b7b"/><stop offset=".801" stop-color="#848484"/><stop offset="1" stop-color="#868686"/></linearGradient><linearGradient id="g113"><stop offset=".000" stop-color="#868686"/><stop offset=".199" stop-color="#838383"/><stop offset=".258" stop-color="#787878"/><stop offset=".308" stop-color="#636363"/><stop offset=".411" stop-color="#242424"/><stop offset=".454" stop-color="#151515"/><stop offset=".507" stop-color="#111111"/><stop offset=".553" stop-color="#171717"/><stop offset=".596" stop-color="#282828"/><stop offset=".702" stop-color="#696969"/><stop offset=".752" stop-color="#7b7b7b"/><stop offset=".815" stop-color="#848484"/><stop offset="1" stop-color="#868686"/></linearGradient><linearGradient id="g114"><stop offset=".000" stop-color="#858585"/><stop offset=".189" stop-color="#828282"/><stop offset=".248" stop-color="#787878"/><stop offset=".298" stop-color="#656565"/><stop offset=".411" stop-color="#232323"/><stop offset=".454" stop-color="#141414"/><stop offset=".510" stop-color="#111111"/><stop offset=".556" stop-color="#171717"/><stop offset=".603" stop-color="#292929"/><stop offset=".709" stop-color="#686868"/><stop offset=".758" stop-color="#7a7a7a"/><stop offset=".825" stop-color="#838383"/><stop offset="1" stop-color="#858585"/></linearGradient><linearGradient id="g115"><stop offset=".000" stop-color="#858585"/><stop offset=".175" stop-color="#828282"/><stop offset=".238" stop-color="#787878"/><stop offset=".291" stop-color="#646464"/><stop offset=".407" stop-color="#232323"/><stop offset=".454" stop-color="#141414"/><stop offset=".510" stop-color="#101010"/><stop offset=".560" stop-color="#171717"/><stop offset=".606" stop-color="#292929"/><stop offset=".715" stop-color="#676767"/><stop offset=".768" stop-color="#7a7a7a"/><stop offset=".834" stop-color="#838383"/><stop offset="1" stop-color="#858585"/></linearGradient><linearGradient id="g116"><stop offset=".000" stop-color="#858585"/><stop offset=".162" stop-color="#818181"/><stop offset=".228" stop-color="#777777"/><stop offset=".285" stop-color="#626262"/><stop offset=".404" stop-color="#222222"/><stop offset=".454" stop-color="#131313"/><stop offset=".513" stop-color="#101010"/><stop offset=".563" stop-color="#171717"/><stop offset=".613" stop-color="#2a2a2a"/><stop offset=".725" stop-color="#666666"/><stop offset=".781" stop-color="#797979"/><stop offset=".854" stop-color="#838383"/><stop offset="1" stop-color="#858585"/></linearGradient><linearGradient id="g117"><stop offset=".000" stop-color="#848484"/><stop offset=".152" stop-color="#808080"/><stop offset=".222" stop-color="#747474"/><stop offset=".281" stop-color="#5e5e5e"/><stop offset=".401" stop-color="#222222"/><stop offset=".450" stop-color="#131313"/><stop offset=".510" stop-color="#0f0f0f"/><stop offset=".563" stop-color="#161616"/><stop offset=".616" stop-color="#292929"/><stop offset=".735" stop-color="#666666"/><stop offset=".795" stop-color="#787878"/><stop offset=".871" stop-color="#828282"/><stop offset="1" stop-color="#848484"/></linearGradient><linearGradient id="g118"><stop offset=".000" stop-color="#838383"/><stop offset=".142" stop-color="#7e7e7e"/><stop offset=".212" stop-color="#737373"/><stop offset=".275" stop-color="#5d5d5d"/><stop offset=".401" stop-color="#202020"/><stop offset=".454" stop-color="#121212"/><stop offset=".517" stop-color="#0f0f0f"/><stop offset=".570" stop-color="#171717"/><stop offset=".626" stop-color="#2b2b2b"/><stop offset=".742" stop-color="#646464"/><stop offset=".805" stop-color="#777777"/><stop offset=".884" stop-color="#808080"/><stop offset="1" stop-color="#838383"/></linearGradient><linearGradient id="g119"><stop offset=".000" stop-color="#828282"/><stop offset=".136" stop-color="#7d7d7d"/><stop offset=".209" stop-color="#707070"/><stop offset=".278" stop-color="#575757"/><stop offset=".397" stop-color="#202020"/><stop offset=".454" stop-color="#111111"/><stop offset=".520" stop-color="#0f0f0f"/><stop offset=".576" stop-color="#171717"/><stop offset=".639" stop-color="#2f2f2f"/><stop offset=".752" stop-color="#636363"/><stop offset=".818" stop-color="#767676"/><stop offset=".904" stop-color="#808080"/><stop offset="1" stop-color="#828282"/></linearGradient><linearGradient id="g120"><stop offset=".000" stop-color="#808080"/><stop offset=".129" stop-color="#7b7b7b"/><stop offset=".205" stop-color="#6c6c6c"/><stop offset=".278" stop-color="#525252"/><stop offset=".394" stop-color="#1f1f1f"/><stop offset=".454" stop-color="#111111"/><stop offset=".523" stop-color="#0f0f0f"/><stop offset=".579" stop-color="#171717"/><stop offset=".646" stop-color="#2f2f2f"/><stop offset=".762" stop-color="#626262"/><stop offset=".831" stop-color="#757575"/><stop offset=".921" stop-color="#7e7e7e"/><stop offset="1" stop-color="#808080"/></linearGradient><linearGradient id="g121"><stop offset=".000" stop-color="#7f7f7f"/><stop offset=".123" stop-color="#797979"/><stop offset=".199" stop-color="#6a6a6a"/><stop offset=".278" stop-color="#4e4e4e"/><stop offset=".391" stop-color="#1f1f1f"/><stop offset=".450" stop-color="#111111"/><stop offset=".520" stop-color="#0e0e0e"/><stop offset=".579" stop-color="#171717"/><stop offset=".649" stop-color="#2e2e2e"/><stop offset=".768" stop-color="#606060"/><stop offset=".841" stop-color="#737373"/><stop offset=".934" stop-color="#7d7d7d"/><stop offset="1" stop-color="#7f7f7f"/></linearGradient><linearGradient id="g122"><stop offset=".000" stop-color="#7e7e7e"/><stop offset=".116" stop-color="#777777"/><stop offset=".195" stop-color="#676767"/><stop offset=".281" stop-color="#494949"/><stop offset=".391" stop-color="#1e1e1e"/><stop offset=".454" stop-color="#101010"/><stop offset=".526" stop-color="#0e0e0e"/><stop offset=".589" stop-color="#181818"/><stop offset=".669" stop-color="#343434"/><stop offset=".781" stop-color="#606060"/><stop offset=".861" stop-color="#737373"/><stop offset=".964" stop-color="#7d7d7d"/><stop offset="1" stop-color="#7e7e7e"/></linearGradient><linearGradient id="g123"><stop offset=".000" stop-color="#7c7c7c"/><stop offset=".113" stop-color="#747474"/><stop offset=".195" stop-color="#636363"/><stop offset=".291" stop-color="#424242"/><stop offset=".394" stop-color="#1c1c1c"/><stop offset=".460" stop-color="#0f0f0f"/><stop offset=".533" stop-color="#0e0e0e"/><stop offset=".596" stop-color="#191919"/><stop offset=".682" stop-color="#373737"/><stop offset=".791" stop-color="#606060"/><stop offset=".874" stop-color="#727272"/><stop offset=".980" stop-color="#7c7c7c"/><stop offset="1" stop-color="#7c7c7c"/></linearGradient><linearGradient id="g124"><stop offset=".000" stop-color="#7b7b7b"/><stop offset=".113" stop-color="#717171"/><stop offset=".199" stop-color="#5f5f5f"/><stop offset=".318" stop-color="#353535"/><stop offset=".404" stop-color="#181818"/><stop offset=".470" stop-color="#0e0e0e"/><stop offset=".543" stop-color="#0f0f0f"/><stop offset=".609" stop-color="#1c1c1c"/><stop offset=".735" stop-color="#494949"/><stop offset=".828" stop-color="#666666"/><stop offset=".917" stop-color="#757575"/><stop offset="1" stop-color="#7b7b7b"/></linearGradient><linearGradient id="g125"><stop offset=".000" stop-color="#797979"/><stop offset=".113" stop-color="#6e6e6e"/><stop offset=".205" stop-color="#5a5a5a"/><stop offset=".394" stop-color="#1a1a1a"/><stop offset=".464" stop-color="#0e0e0e"/><stop offset=".536" stop-color="#0e0e0e"/><stop offset=".606" stop-color="#1a1a1a"/><stop offset=".722" stop-color="#414141"/><stop offset=".825" stop-color="#626262"/><stop offset=".921" stop-color="#737373"/><stop offset="1" stop-color="#797979"/></linearGradient><linearGradient id="g126"><stop offset=".000" stop-color="#777777"/><stop offset=".116" stop-color="#6b6b6b"/><stop offset=".212" stop-color="#555555"/><stop offset=".394" stop-color="#1a1a1a"/><stop offset=".464" stop-color="#0e0e0e"/><stop offset=".536" stop-color="#0e0e0e"/><stop offset=".609" stop-color="#1a1a1a"/><stop offset=".818" stop-color="#5d5d5d"/><stop offset=".917" stop-color="#707070"/><stop offset="1" stop-color="#777777"/></linearGradient><linearGradient id="g127"><stop offset=".000" stop-color="#767676"/><stop offset=".119" stop-color="#676767"/><stop offset=".222" stop-color="#4f4f4f"/><stop offset=".394" stop-color="#191919"/><stop offset=".467" stop-color="#0d0d0d"/><stop offset=".540" stop-color="#0e0e0e"/><stop offset=".616" stop-color="#1c1c1c"/><stop offset=".821" stop-color="#5a5a5a"/><stop offset=".927" stop-color="#6e6e6e"/><stop offset="1" stop-color="#767676"/></linearGradient><linearGradient id="g128"><stop offset=".000" stop-color="#747474"/><stop offset=".123" stop-color="#636363"/><stop offset=".235" stop-color="#484848"/><stop offset=".394" stop-color="#191919"/><stop offset=".470" stop-color="#0d0d0d"/><stop offset=".543" stop-color="#0e0e0e"/><stop offset=".623" stop-color="#1d1d1d"/><stop offset=".825" stop-color="#585858"/><stop offset=".940" stop-color="#6d6d6d"/><stop offset="1" stop-color="#747474"/></linearGradient><linearGradient id="g129"><stop offset=".000" stop-color="#727272"/><stop offset=".126" stop-color="#606060"/><stop offset=".245" stop-color="#434343"/><stop offset=".397" stop-color="#171717"/><stop offset=".474" stop-color="#0c0c0c"/><stop offset=".546" stop-color="#0e0e0e"/><stop offset=".629" stop-color="#1e1e1e"/><stop offset=".831" stop-color="#575757"/><stop offset=".957" stop-color="#6d6d6d"/><stop offset="1" stop-color="#727272"/></linearGradient><linearGradient id="g130"><stop offset=".000" stop-color="#717171"/><stop offset=".126" stop-color="#5e5e5e"/><stop offset=".255" stop-color="#3f3f3f"/><stop offset=".401" stop-color="#171717"/><stop offset=".477" stop-color="#0d0d0d"/><stop offset=".550" stop-color="#0f0f0f"/><stop offset=".636" stop-color="#1f1f1f"/><stop offset=".834" stop-color="#565656"/><stop offset=".967" stop-color="#6d6d6d"/><stop offset="1" stop-color="#717171"/></linearGradient><linearGradient id="g131"><stop offset=".000" stop-color="#707070"/><stop offset=".119" stop-color="#5e5e5e"/><stop offset=".255" stop-color="#3e3e3e"/><stop offset=".401" stop-color="#171717"/><stop offset=".480" stop-color="#0d0d0d"/><stop offset=".553" stop-color="#101010"/><stop offset=".642" stop-color="#212121"/><stop offset=".838" stop-color="#555555"/><stop offset=".974" stop-color="#6d6d6d"/><stop offset="1" stop-color="#707070"/></linearGradient><linearGradient id="g132"><stop offset=".000" stop-color="#6f6f6f"/><stop offset=".106" stop-color="#5f5f5f"/><stop offset=".255" stop-color="#3d3d3d"/><stop offset=".404" stop-color="#171717"/><stop offset=".483" stop-color="#0d0d0d"/><stop offset=".560" stop-color="#111111"/><stop offset=".652" stop-color="#242424"/><stop offset=".844" stop-color="#555555"/><stop offset=".974" stop-color="#6c6c6c"/><stop offset="1" stop-color="#6f6f6f"/></linearGradient><linearGradient id="g133"><stop offset=".000" stop-color="#6d6d6d"/><stop offset=".093" stop-color="#616161"/><stop offset=".258" stop-color="#3b3b3b"/><stop offset=".404" stop-color="#171717"/><stop offset=".483" stop-color="#0e0e0e"/><stop offset=".560" stop-color="#111111"/><stop offset=".656" stop-color="#242424"/><stop offset=".858" stop-color="#575757"/><stop offset=".974" stop-color="#6b6b6b"/><stop offset="1" stop-color="#6d6d6d"/></linearGradient><linearGradient id="g134"><stop offset=".000" stop-color="#6c6c6c"/><stop offset=".083" stop-color="#636363"/><stop offset=".268" stop-color="#383838"/><stop offset=".407" stop-color="#171717"/><stop offset=".487" stop-color="#0e0e0e"/><stop offset=".563" stop-color="#121212"/><stop offset=".662" stop-color="#262626"/><stop offset=".884" stop-color="#5c5c5c"/><stop offset=".977" stop-color="#6b6b6b"/><stop offset="1" stop-color="#6c6c6c"/></linearGradient><linearGradient id="g135"><stop offset=".000" stop-color="#6a6a6a"/><stop offset=".076" stop-color="#636363"/><stop offset=".272" stop-color="#363636"/><stop offset=".411" stop-color="#161616"/><stop offset=".493" stop-color="#0f0f0f"/><stop offset=".573" stop-color="#141414"/><stop offset=".682" stop-color="#2b2b2b"/><stop offset=".914" stop-color="#626262"/><stop offset=".990" stop-color="#6a6a6a"/><stop offset="1" stop-color="#6a6a6a"/></linearGradient><linearGradient id="g136"><stop offset=".000" stop-color="#696969"/><stop offset=".073" stop-color="#646464"/><stop offset=".215" stop-color="#444444"/><stop offset=".401" stop-color="#191919"/><stop offset=".483" stop-color="#101010"/><stop offset=".563" stop-color="#131313"/><stop offset=".666" stop-color="#262626"/><stop offset=".917" stop-color="#626262"/><stop offset=".990" stop-color="#696969"/><stop offset="1" stop-color="#696969"/></linearGradient><linearGradient id="g137"><stop offset=".000" stop-color="#666666"/><stop offset=".073" stop-color="#656565"/><stop offset=".152" stop-color="#565656"/><stop offset=".387" stop-color="#1c1c1c"/><stop offset=".474" stop-color="#111111"/><stop offset=".553" stop-color="#131313"/><stop offset=".652" stop-color="#242424"/><stop offset=".904" stop-color="#626262"/><stop offset=".970" stop-color="#676767"/><stop offset="1" stop-color="#666666"/></linearGradient><linearGradient id="g138"><stop offset=".000" stop-color="#626262"/><stop offset=".076" stop-color="#656565"/><stop offset=".139" stop-color="#5c5c5c"/><stop offset=".368" stop-color="#212121"/><stop offset=".460" stop-color="#121212"/><stop offset=".536" stop-color="#121212"/><stop offset=".626" stop-color="#1f1f1f"/><stop offset=".815" stop-color="#505050"/><stop offset=".897" stop-color="#636363"/><stop offset=".960" stop-color="#656565"/><stop offset="1" stop-color="#626262"/></linearGradient><linearGradient id="g139"><stop offset=".000" stop-color="#5e5e5e"/><stop offset=".086" stop-color="#656565"/><stop offset=".146" stop-color="#5d5d5d"/><stop offset=".354" stop-color="#242424"/><stop offset=".450" stop-color="#131313"/><stop offset=".526" stop-color="#121212"/><stop offset=".613" stop-color="#1d1d1d"/><stop offset=".762" stop-color="#434343"/><stop offset=".868" stop-color="#606060"/><stop offset=".924" stop-color="#656565"/><stop offset="1" stop-color="#5e5e5e"/></linearGradient><linearGradient id="g140"><stop offset=".000" stop-color="#5a5a5a"/><stop offset=".103" stop-color="#646464"/><stop offset=".159" stop-color="#5d5d5d"/><stop offset=".344" stop-color="#272727"/><stop offset=".444" stop-color="#151515"/><stop offset=".520" stop-color="#121212"/><stop offset=".603" stop-color="#1c1c1c"/><stop offset=".732" stop-color="#3c3c3c"/><stop offset=".851" stop-color="#5f5f5f"/><stop offset=".904" stop-color="#646464"/><stop offset="1" stop-color="#5a5a5a"/></linearGradient><linearGradient id="g141"><stop offset=".000" stop-color="#565656"/><stop offset=".119" stop-color="#636363"/><stop offset=".172" stop-color="#5d5d5d"/><stop offset=".344" stop-color="#282828"/><stop offset=".440" stop-color="#151515"/><stop offset=".517" stop-color="#121212"/><stop offset=".596" stop-color="#1b1b1b"/><stop offset=".709" stop-color="#373737"/><stop offset=".831" stop-color="#5d5d5d"/><stop offset=".884" stop-color="#636363"/><stop offset="1" stop-color="#565656"/></linearGradient><linearGradient id="g142"><stop offset=".000" stop-color="#535353"/><stop offset=".139" stop-color="#626262"/><stop offset=".189" stop-color="#5c5c5c"/><stop offset=".348" stop-color="#292929"/><stop offset=".440" stop-color="#161616"/><stop offset=".513" stop-color="#121212"/><stop offset=".593" stop-color="#1b1b1b"/><stop offset=".695" stop-color="#353535"/><stop offset=".815" stop-color="#5d5d5d"/><stop offset=".864" stop-color="#626262"/><stop offset="1" stop-color="#535353"/></linearGradient><linearGradient id="g143"><stop offset=".000" stop-color="#505050"/><stop offset=".086" stop-color="#595959"/><stop offset=".156" stop-color="#626262"/><stop offset=".202" stop-color="#5d5d5d"/><stop offset=".354" stop-color="#292929"/><stop offset=".444" stop-color="#161616"/><stop offset=".517" stop-color="#131313"/><stop offset=".593" stop-color="#1d1d1d"/><stop offset=".685" stop-color="#353535"/><stop offset=".798" stop-color="#5d5d5d"/><stop offset=".844" stop-color="#626262"/><stop offset=".924" stop-color="#585858"/><stop offset="1" stop-color="#505050"/></linearGradient><linearGradient id="g144"><stop offset=".000" stop-color="#4e4e4e"/><stop offset=".083" stop-color="#555555"/><stop offset=".169" stop-color="#626262"/><stop offset=".212" stop-color="#5e5e5e"/><stop offset=".275" stop-color="#484848"/><stop offset=".361" stop-color="#292929"/><stop offset=".444" stop-color="#171717"/><stop offset=".513" stop-color="#131313"/><stop offset=".586" stop-color="#1c1c1c"/><stop offset=".672" stop-color="#343434"/><stop offset=".781" stop-color="#5d5d5d"/><stop offset=".825" stop-color="#626262"/><stop offset=".887" stop-color="#5a5a5a"/><stop offset=".967" stop-color="#4f4f4f"/><stop offset="1" stop-color="#4e4e4e"/></linearGradient><linearGradient id="g145"><stop offset=".000" stop-color="#4c4c4c"/><stop offset=".089" stop-color="#515151"/><stop offset=".185" stop-color="#626262"/><stop offset=".225" stop-color="#5f5f5f"/><stop offset=".281" stop-color="#4b4b4b"/><stop offset=".364" stop-color="#2b2b2b"/><stop offset=".444" stop-color="#181818"/><stop offset=".510" stop-color="#141414"/><stop offset=".579" stop-color="#1c1c1c"/><stop offset=".659" stop-color="#323232"/><stop offset=".765" stop-color="#5d5d5d"/><stop offset=".805" stop-color="#636363"/><stop offset=".858" stop-color="#5c5c5c"/><stop offset=".937" stop-color="#4e4e4e"/><stop offset="1" stop-color="#4c4c4c"/></linearGradient><linearGradient id="g146"><stop offset=".000" stop-color="#4b4b4b"/><stop offset=".096" stop-color="#4f4f4f"/><stop offset=".199" stop-color="#636363"/><stop offset=".238" stop-color="#5f5f5f"/><stop offset=".291" stop-color="#4b4b4b"/><stop offset=".371" stop-color="#2b2b2b"/><stop offset=".444" stop-color="#191919"/><stop offset=".510" stop-color="#141414"/><stop offset=".576" stop-color="#1d1d1d"/><stop offset=".649" stop-color="#313131"/><stop offset=".755" stop-color="#5d5d5d"/><stop offset=".795" stop-color="#636363"/><stop offset=".848" stop-color="#5a5a5a"/><stop offset=".921" stop-color="#4d4d4d"/><stop offset="1" stop-color="#4b4b4b"/></linearGradient><linearGradient id="g147"><stop offset=".000" stop-color="#4a4a4a"/><stop offset=".099" stop-color="#4e4e4e"/><stop offset=".209" stop-color="#636363"/><stop offset=".245" stop-color="#606060"/><stop offset=".295" stop-color="#4d4d4d"/><stop offset=".374" stop-color="#2b2b2b"/><stop offset=".447" stop-color="#191919"/><stop offset=".510" stop-color="#151515"/><stop offset=".576" stop-color="#1d1d1d"/><stop offset=".646" stop-color="#323232"/><stop offset=".745" stop-color="#5d5d5d"/><stop offset=".781" stop-color="#636363"/><stop offset=".828" stop-color="#5d5d5d"/><stop offset=".904" stop-color="#4d4d4d"/><stop offset="1" stop-color="#4a4a4a"/></linearGradient><linearGradient id="g148"><stop offset=".000" stop-color="#494949"/><stop offset=".106" stop-color="#4d4d4d"/><stop offset=".182" stop-color="#5e5e5e"/><stop offset=".225" stop-color="#646464"/><stop offset=".262" stop-color="#5f5f5f"/><stop offset=".331" stop-color="#3f3f3f"/><stop offset=".397" stop-color="#252525"/><stop offset=".464" stop-color="#171717"/><stop offset=".523" stop-color="#161616"/><stop offset=".589" stop-color="#222222"/><stop offset=".656" stop-color="#393939"/><stop offset=".735" stop-color="#5e5e5e"/><stop offset=".772" stop-color="#646464"/><stop offset=".815" stop-color="#5f5f5f"/><stop offset=".891" stop-color="#4d4d4d"/><stop offset=".990" stop-color="#494949"/><stop offset="1" stop-color="#494949"/></linearGradient><linearGradient id="g149"><stop offset=".000" stop-color="#494949"/><stop offset=".113" stop-color="#4c4c4c"/><stop offset=".179" stop-color="#5b5b5b"/><stop offset=".228" stop-color="#656565"/><stop offset=".265" stop-color="#616161"/><stop offset=".315" stop-color="#4c4c4c"/><stop offset=".384" stop-color="#2c2c2c"/><stop offset=".450" stop-color="#1a1a1a"/><stop offset=".510" stop-color="#161616"/><stop offset=".573" stop-color="#1f1f1f"/><stop offset=".636" stop-color="#343434"/><stop offset=".728" stop-color="#5f5f5f"/><stop offset=".765" stop-color="#666666"/><stop offset=".808" stop-color="#5f5f5f"/><stop offset=".881" stop-color="#4d4d4d"/><stop offset=".974" stop-color="#494949"/><stop offset="1" stop-color="#494949"/></linearGradient><linearGradient id="g150"><stop offset=".000" stop-color="#484848"/><stop offset=".119" stop-color="#4b4b4b"/><stop offset=".179" stop-color="#585858"/><stop offset=".232" stop-color="#666666"/><stop offset=".265" stop-color="#656565"/><stop offset=".305" stop-color="#565656"/><stop offset=".384" stop-color="#2e2e2e"/><stop offset=".447" stop-color="#1c1c1c"/><stop offset=".503" stop-color="#161616"/><stop offset=".563" stop-color="#1e1e1e"/><stop offset=".623" stop-color="#313131"/><stop offset=".722" stop-color="#616161"/><stop offset=".755" stop-color="#676767"/><stop offset=".795" stop-color="#616161"/><stop offset=".868" stop-color="#4d4d4d"/><stop offset=".950" stop-color="#484848"/><stop offset="1" stop-color="#484848"/></linearGradient><linearGradient id="g151"><stop offset=".000" stop-color="#474747"/><stop offset=".126" stop-color="#4b4b4b"/><stop offset=".182" stop-color="#575757"/><stop offset=".242" stop-color="#676767"/><stop offset=".275" stop-color="#656565"/><stop offset=".315" stop-color="#555555"/><stop offset=".391" stop-color="#2e2e2e"/><stop offset=".450" stop-color="#1c1c1c"/><stop offset=".507" stop-color="#171717"/><stop offset=".563" stop-color="#1f1f1f"/><stop offset=".623" stop-color="#343434"/><stop offset=".712" stop-color="#616161"/><stop offset=".745" stop-color="#686868"/><stop offset=".785" stop-color="#616161"/><stop offset=".858" stop-color="#4d4d4d"/><stop offset=".937" stop-color="#484848"/><stop offset="1" stop-color="#474747"/></linearGradient><linearGradient id="g152"><stop offset=".000" stop-color="#474747"/><stop offset=".132" stop-color="#4a4a4a"/><stop offset=".185" stop-color="#555555"/><stop offset=".248" stop-color="#686868"/><stop offset=".281" stop-color="#676767"/><stop offset=".318" stop-color="#585858"/><stop offset=".394" stop-color="#2f2f2f"/><stop offset=".450" stop-color="#1d1d1d"/><stop offset=".503" stop-color="#181818"/><stop offset=".556" stop-color="#1e1e1e"/><stop offset=".613" stop-color="#323232"/><stop offset=".705" stop-color="#636363"/><stop offset=".738" stop-color="#696969"/><stop offset=".775" stop-color="#626262"/><stop offset=".844" stop-color="#4d4d4d"/><stop offset=".914" stop-color="#474747"/><stop offset="1" stop-color="#474747"/></linearGradient><linearGradient id="g153"><stop offset=".000" stop-color="#464646"/><stop offset=".139" stop-color="#494949"/><stop offset=".192" stop-color="#545454"/><stop offset=".255" stop-color="#696969"/><stop offset=".285" stop-color="#696969"/><stop offset=".318" stop-color="#5d5d5d"/><stop offset=".401" stop-color="#2f2f2f"/><stop offset=".454" stop-color="#1d1d1d"/><stop offset=".503" stop-color="#181818"/><stop offset=".553" stop-color="#1f1f1f"/><stop offset=".606" stop-color="#323232"/><stop offset=".695" stop-color="#636363"/><stop offset=".725" stop-color="#6a6a6a"/><stop offset=".758" stop-color="#656565"/><stop offset=".834" stop-color="#4d4d4d"/><stop offset=".901" stop-color="#474747"/><stop offset="1" stop-color="#464646"/></linearGradient><linearGradient id="g154"><stop offset=".000" stop-color="#464646"/><stop offset=".149" stop-color="#484848"/><stop offset=".199" stop-color="#535353"/><stop offset=".265" stop-color="#6a6a6a"/><stop offset=".295" stop-color="#6a6a6a"/><stop offset=".328" stop-color="#5d5d5d"/><stop offset=".404" stop-color="#303030"/><stop offset=".454" stop-color="#1e1e1e"/><stop offset=".503" stop-color="#191919"/><stop offset=".553" stop-color="#202020"/><stop offset=".603" stop-color="#333333"/><stop offset=".685" stop-color="#646464"/><stop offset=".715" stop-color="#6b6b6b"/><stop offset=".748" stop-color="#676767"/><stop offset=".825" stop-color="#4d4d4d"/><stop offset=".887" stop-color="#464646"/><stop offset="1" stop-color="#464646"/></linearGradient><linearGradient id="g155"><stop offset=".000" stop-color="#454545"/><stop offset=".159" stop-color="#484848"/><stop offset=".209" stop-color="#535353"/><stop offset=".272" stop-color="#6a6a6a"/><stop offset=".301" stop-color="#6b6b6b"/><stop offset=".331" stop-color="#606060"/><stop offset=".411" stop-color="#303030"/><stop offset=".457" stop-color="#1f1f1f"/><stop offset=".503" stop-color="#191919"/><stop offset=".550" stop-color="#202020"/><stop offset=".596" stop-color="#333333"/><stop offset=".679" stop-color="#656565"/><stop offset=".709" stop-color="#6c6c6c"/><stop offset=".742" stop-color="#676767"/><stop offset=".811" stop-color="#4d4d4d"/><stop offset=".871" stop-color="#464646"/><stop offset="1" stop-color="#454545"/></linearGradient><linearGradient id="g156"><stop offset=".000" stop-color="#454545"/><stop offset=".166" stop-color="#474747"/><stop offset=".212" stop-color="#515151"/><stop offset=".281" stop-color="#6c6c6c"/><stop offset=".308" stop-color="#6d6d6d"/><stop offset=".338" stop-color="#626262"/><stop offset=".417" stop-color="#303030"/><stop offset=".460" stop-color="#1f1f1f"/><stop offset=".503" stop-color="#1a1a1a"/><stop offset=".546" stop-color="#212121"/><stop offset=".593" stop-color="#353535"/><stop offset=".669" stop-color="#666666"/><stop offset=".699" stop-color="#6e6e6e"/><stop offset=".728" stop-color="#6a6a6a"/><stop offset=".801" stop-color="#4d4d4d"/><stop offset=".858" stop-color="#454545"/><stop offset="1" stop-color="#454545"/></linearGradient><linearGradient id="g157"><stop offset=".000" stop-color="#444444"/><stop offset=".172" stop-color="#474747"/><stop offset=".219" stop-color="#515151"/><stop offset=".288" stop-color="#6e6e6e"/><stop offset=".315" stop-color="#707070"/><stop offset=".344" stop-color="#656565"/><stop offset=".424" stop-color="#303030"/><stop offset=".467" stop-color="#202020"/><stop offset=".507" stop-color="#1c1c1c"/><stop offset=".550" stop-color="#252525"/><stop offset=".593" stop-color="#3a3a3a"/><stop offset=".662" stop-color="#686868"/><stop offset=".689" stop-color="#707070"/><stop offset=".715" stop-color="#6d6d6d"/><stop offset=".795" stop-color="#4d4d4d"/><stop offset=".848" stop-color="#454545"/><stop offset="1" stop-color="#444444"/></linearGradient><linearGradient id="g158"><stop offset=".000" stop-color="#434343"/><stop offset=".179" stop-color="#464646"/><stop offset=".222" stop-color="#4f4f4f"/><stop offset=".295" stop-color="#707070"/><stop offset=".321" stop-color="#727272"/><stop offset=".348" stop-color="#696969"/><stop offset=".427" stop-color="#323232"/><stop offset=".467" stop-color="#222222"/><stop offset=".507" stop-color="#1d1d1d"/><stop offset=".546" stop-color="#262626"/><stop offset=".586" stop-color="#3a3a3a"/><stop offset=".656" stop-color="#6a6a6a"/><stop offset=".682" stop-color="#737373"/><stop offset=".709" stop-color="#6f6f6f"/><stop offset=".785" stop-color="#4d4d4d"/><stop offset=".834" stop-color="#454545"/><stop offset="1" stop-color="#434343"/></linearGradient><linearGradient id="g159"><stop offset=".000" stop-color="#434343"/><stop offset=".185" stop-color="#454545"/><stop offset=".228" stop-color="#4f4f4f"/><stop offset=".301" stop-color="#727272"/><stop offset=".328" stop-color="#757575"/><stop offset=".354" stop-color="#6b6b6b"/><stop offset=".434" stop-color="#333333"/><stop offset=".470" stop-color="#232323"/><stop offset=".507" stop-color="#1f1f1f"/><stop offset=".543" stop-color="#272727"/><stop offset=".583" stop-color="#3d3d3d"/><stop offset=".646" stop-color="#6b6b6b"/><stop offset=".672" stop-color="#757575"/><stop offset=".699" stop-color="#727272"/><stop offset=".778" stop-color="#4d4d4d"/><stop offset=".825" stop-color="#444444"/><stop offset="1" stop-color="#434343"/></linearGradient><linearGradient id="g160"><stop offset=".000" stop-color="#424242"/><stop offset=".192" stop-color="#454545"/><stop offset=".235" stop-color="#4f4f4f"/><stop offset=".311" stop-color="#757575"/><stop offset=".334" stop-color="#777777"/><stop offset=".361" stop-color="#6d6d6d"/><stop offset=".440" stop-color="#333333"/><stop offset=".477" stop-color="#232323"/><stop offset=".510" stop-color="#212121"/><stop offset=".546" stop-color="#2c2c2c"/><stop offset=".586" stop-color="#454545"/><stop offset=".639" stop-color="#6d6d6d"/><stop offset=".666" stop-color="#777777"/><stop offset=".692" stop-color="#747474"/><stop offset=".768" stop-color="#4d4d4d"/><stop offset=".811" stop-color="#444444"/><stop offset="1" stop-color="#424242"/></linearGradient><linearGradient id="g161"><stop offset=".000" stop-color="#424242"/><stop offset=".199" stop-color="#444444"/><stop offset=".242" stop-color="#4e4e4e"/><stop offset=".291" stop-color="#6a6a6a"/><stop offset=".321" stop-color="#787878"/><stop offset=".344" stop-color="#797979"/><stop offset=".371" stop-color="#6e6e6e"/><stop offset=".444" stop-color="#353535"/><stop offset=".477" stop-color="#262626"/><stop offset=".507" stop-color="#222222"/><stop offset=".540" stop-color="#2c2c2c"/><stop offset=".576" stop-color="#434343"/><stop offset=".632" stop-color="#707070"/><stop offset=".656" stop-color="#797979"/><stop offset=".679" stop-color="#787878"/><stop offset=".712" stop-color="#686868"/><stop offset=".758" stop-color="#4e4e4e"/><stop offset=".801" stop-color="#444444"/><stop offset="1" stop-color="#424242"/></linearGradient><linearGradient id="g162"><stop offset=".000" stop-color="#414141"/><stop offset=".205" stop-color="#434343"/><stop offset=".245" stop-color="#4c4c4c"/><stop offset=".285" stop-color="#626262"/><stop offset=".325" stop-color="#797979"/><stop offset=".348" stop-color="#7c7c7c"/><stop offset=".371" stop-color="#747474"/><stop offset=".411" stop-color="#555555"/><stop offset=".454" stop-color="#333333"/><stop offset=".483" stop-color="#262626"/><stop offset=".507" stop-color="#242424"/><stop offset=".536" stop-color="#2e2e2e"/><stop offset=".573" stop-color="#474747"/><stop offset=".626" stop-color="#727272"/><stop offset=".649" stop-color="#7c7c7c"/><stop offset=".672" stop-color="#7a7a7a"/><stop offset=".705" stop-color="#686868"/><stop offset=".748" stop-color="#4f4f4f"/><stop offset=".788" stop-color="#444444"/><stop offset=".901" stop-color="#414141"/><stop offset="1" stop-color="#414141"/></linearGradient><linearGradient id="g163"><stop offset=".000" stop-color="#414141"/><stop offset=".212" stop-color="#434343"/><stop offset=".252" stop-color="#4c4c4c"/><stop offset=".288" stop-color="#606060"/><stop offset=".328" stop-color="#797979"/><stop offset=".351" stop-color="#7e7e7e"/><stop offset=".374" stop-color="#787878"/><stop offset=".407" stop-color="#5f5f5f"/><stop offset=".457" stop-color="#363636"/><stop offset=".487" stop-color="#282828"/><stop offset=".507" stop-color="#262626"/><stop offset=".536" stop-color="#323232"/><stop offset=".576" stop-color="#505050"/><stop offset=".619" stop-color="#747474"/><stop offset=".642" stop-color="#7e7e7e"/><stop offset=".666" stop-color="#7c7c7c"/><stop offset=".699" stop-color="#696969"/><stop offset=".742" stop-color="#4f4f4f"/><stop offset=".781" stop-color="#444444"/><stop offset=".897" stop-color="#414141"/><stop offset="1" stop-color="#414141"/></linearGradient><linearGradient id="g164"><stop offset=".000" stop-color="#404040"/><stop offset=".219" stop-color="#424242"/><stop offset=".258" stop-color="#4b4b4b"/><stop offset=".295" stop-color="#606060"/><stop offset=".334" stop-color="#7b7b7b"/><stop offset=".358" stop-color="#818181"/><stop offset=".381" stop-color="#7a7a7a"/><stop offset=".411" stop-color="#646464"/><stop offset=".464" stop-color="#363636"/><stop offset=".490" stop-color="#292929"/><stop offset=".507" stop-color="#282828"/><stop offset=".533" stop-color="#343434"/><stop offset=".573" stop-color="#555555"/><stop offset=".613" stop-color="#767676"/><stop offset=".636" stop-color="#808080"/><stop offset=".659" stop-color="#7d7d7d"/><stop offset=".692" stop-color="#696969"/><stop offset=".732" stop-color="#505050"/><stop offset=".768" stop-color="#444444"/><stop offset=".848" stop-color="#404040"/><stop offset="1" stop-color="#404040"/></linearGradient><linearGradient id="g165"><stop offset=".000" stop-color="#404040"/><stop offset=".225" stop-color="#424242"/><stop offset=".265" stop-color="#4b4b4b"/><stop offset=".301" stop-color="#616161"/><stop offset=".341" stop-color="#7d7d7d"/><stop offset=".364" stop-color="#838383"/><stop offset=".387" stop-color="#7c7c7c"/><stop offset=".421" stop-color="#626262"/><stop offset=".467" stop-color="#393939"/><stop offset=".493" stop-color="#2b2b2b"/><stop offset=".507" stop-color="#2b2b2b"/><stop offset=".533" stop-color="#393939"/><stop offset=".606" stop-color="#787878"/><stop offset=".629" stop-color="#828282"/><stop offset=".652" stop-color="#808080"/><stop offset=".682" stop-color="#6d6d6d"/><stop offset=".725" stop-color="#505050"/><stop offset=".762" stop-color="#444444"/><stop offset=".838" stop-color="#404040"/><stop offset="1" stop-color="#404040"/></linearGradient><linearGradient id="g166"><stop offset=".000" stop-color="#3f3f3f"/><stop offset=".228" stop-color="#414141"/><stop offset=".268" stop-color="#4a4a4a"/><stop offset=".301" stop-color="#5e5e5e"/><stop offset=".344" stop-color="#7e7e7e"/><stop offset=".368" stop-color="#858585"/><stop offset=".391" stop-color="#7f7f7f"/><stop offset=".421" stop-color="#696969"/><stop offset=".474" stop-color="#393939"/><stop offset=".497" stop-color="#2e2e2e"/><stop offset=".513" stop-color="#323232"/><stop offset=".540" stop-color="#444444"/><stop offset=".596" stop-color="#777777"/><stop offset=".619" stop-color="#838383"/><stop offset=".639" stop-color="#848484"/><stop offset=".662" stop-color="#7a7a7a"/><stop offset=".719" stop-color="#515151"/><stop offset=".752" stop-color="#444444"/><stop offset=".811" stop-color="#3f3f3f"/><stop offset="1" stop-color="#3f3f3f"/></linearGradient><linearGradient id="g167"><stop offset=".000" stop-color="#3e3e3e"/><stop offset=".232" stop-color="#404040"/><stop offset=".272" stop-color="#4a4a4a"/><stop offset=".305" stop-color="#5e5e5e"/><stop offset=".351" stop-color="#818181"/><stop offset=".374" stop-color="#878787"/><stop offset=".397" stop-color="#808080"/><stop offset=".430" stop-color="#676767"/><stop offset=".477" stop-color="#3c3c3c"/><stop offset=".500" stop-color="#313131"/><stop offset=".523" stop-color="#3c3c3c"/><stop offset=".589" stop-color="#787878"/><stop offset=".613" stop-color="#858585"/><stop offset=".632" stop-color="#878787"/><stop offset=".656" stop-color="#7d7d7d"/><stop offset=".715" stop-color="#505050"/><stop offset=".748" stop-color="#444444"/><stop offset=".808" stop-color="#3f3f3f"/><stop offset="1" stop-color="#3e3e3e"/></linearGradient><linearGradient id="g168"><stop offset=".000" stop-color="#3e3e3e"/><stop offset=".235" stop-color="#404040"/><stop offset=".275" stop-color="#494949"/><stop offset=".308" stop-color="#5d5d5d"/><stop offset=".354" stop-color="#828282"/><stop offset=".377" stop-color="#898989"/><stop offset=".401" stop-color="#848484"/><stop offset=".430" stop-color="#6f6f6f"/><stop offset=".480" stop-color="#404040"/><stop offset=".500" stop-color="#363636"/><stop offset=".523" stop-color="#424242"/><stop offset=".579" stop-color="#777777"/><stop offset=".606" stop-color="#868686"/><stop offset=".626" stop-color="#898989"/><stop offset=".649" stop-color="#808080"/><stop offset=".709" stop-color="#515151"/><stop offset=".742" stop-color="#444444"/><stop offset=".798" stop-color="#3e3e3e"/><stop offset="1" stop-color="#3e3e3e"/></linearGradient><linearGradient id="g169"><stop offset=".000" stop-color="#3d3d3d"/><stop offset=".238" stop-color="#3f3f3f"/><stop offset=".278" stop-color="#484848"/><stop offset=".308" stop-color="#5a5a5a"/><stop offset=".358" stop-color="#838383"/><stop offset=".381" stop-color="#8b8b8b"/><stop offset=".404" stop-color="#878787"/><stop offset=".434" stop-color="#747474"/><stop offset=".483" stop-color="#434343"/><stop offset=".500" stop-color="#3a3a3a"/><stop offset=".520" stop-color="#464646"/><stop offset=".573" stop-color="#797979"/><stop offset=".599" stop-color="#888888"/><stop offset=".623" stop-color="#8b8b8b"/><stop offset=".646" stop-color="#818181"/><stop offset=".705" stop-color="#515151"/><stop offset=".738" stop-color="#434343"/><stop offset=".795" stop-color="#3e3e3e"/><stop offset="1" stop-color="#3d3d3d"/></linearGradient><linearGradient id="g170"><stop offset=".000" stop-color="#3d3d3d"/><stop offset=".242" stop-color="#3f3f3f"/><stop offset=".281" stop-color="#484848"/><stop offset=".311" stop-color="#595959"/><stop offset=".364" stop-color="#868686"/><stop offset=".387" stop-color="#8e8e8e"/><stop offset=".411" stop-color="#8a8a8a"/><stop offset=".437" stop-color="#7a7a7a"/><stop offset=".487" stop-color="#474747"/><stop offset=".500" stop-color="#404040"/><stop offset=".520" stop-color="#4d4d4d"/><stop offset=".563" stop-color="#7a7a7a"/><stop offset=".589" stop-color="#8a8a8a"/><stop offset=".613" stop-color="#8e8e8e"/><stop offset=".636" stop-color="#868686"/><stop offset=".702" stop-color="#505050"/><stop offset=".735" stop-color="#424242"/><stop offset=".791" stop-color="#3d3d3d"/><stop offset="1" stop-color="#3d3d3d"/></linearGradient><linearGradient id="g171"><stop offset=".000" stop-color="#3c3c3c"/><stop offset=".248" stop-color="#3e3e3e"/><stop offset=".285" stop-color="#474747"/><stop offset=".315" stop-color="#595959"/><stop offset=".368" stop-color="#878787"/><stop offset=".391" stop-color="#919191"/><stop offset=".414" stop-color="#8f8f8f"/><stop offset=".437" stop-color="#848484"/><stop offset=".464" stop-color="#686868"/><stop offset=".490" stop-color="#4c4c4c"/><stop offset=".500" stop-color="#464646"/><stop offset=".520" stop-color="#555555"/><stop offset=".560" stop-color="#818181"/><stop offset=".583" stop-color="#8e8e8e"/><stop offset=".606" stop-color="#919191"/><stop offset=".629" stop-color="#898989"/><stop offset=".662" stop-color="#6d6d6d"/><stop offset=".695" stop-color="#515151"/><stop offset=".725" stop-color="#434343"/><stop offset=".772" stop-color="#3d3d3d"/><stop offset="1" stop-color="#3c3c3c"/></linearGradient><linearGradient id="g172"><stop offset=".000" stop-color="#3c3c3c"/><stop offset=".248" stop-color="#3e3e3e"/><stop offset=".285" stop-color="#464646"/><stop offset=".315" stop-color="#575757"/><stop offset=".371" stop-color="#888888"/><stop offset=".394" stop-color="#939393"/><stop offset=".421" stop-color="#939393"/><stop offset=".440" stop-color="#898989"/><stop offset=".467" stop-color="#6d6d6d"/><stop offset=".490" stop-color="#555555"/><stop offset=".500" stop-color="#4f4f4f"/><stop offset=".523" stop-color="#616161"/><stop offset=".556" stop-color="#868686"/><stop offset=".576" stop-color="#929292"/><stop offset=".603" stop-color="#939393"/><stop offset=".626" stop-color="#8b8b8b"/><stop offset=".659" stop-color="#6f6f6f"/><stop offset=".695" stop-color="#505050"/><stop offset=".725" stop-color="#434343"/><stop offset=".775" stop-color="#3c3c3c"/><stop offset="1" stop-color="#3c3c3c"/></linearGradient><linearGradient id="g173"><stop offset=".000" stop-color="#3b3b3b"/><stop offset=".248" stop-color="#3d3d3d"/><stop offset=".285" stop-color="#464646"/><stop offset=".315" stop-color="#575757"/><stop offset=".371" stop-color="#888888"/><stop offset=".397" stop-color="#949494"/><stop offset=".424" stop-color="#979797"/><stop offset=".440" stop-color="#919191"/><stop offset=".460" stop-color="#7d7d7d"/><stop offset=".483" stop-color="#646464"/><stop offset=".500" stop-color="#595959"/><stop offset=".526" stop-color="#6e6e6e"/><stop offset=".556" stop-color="#8e8e8e"/><stop offset=".573" stop-color="#969696"/><stop offset=".599" stop-color="#959595"/><stop offset=".626" stop-color="#8a8a8a"/><stop offset=".662" stop-color="#6b6b6b"/><stop offset=".695" stop-color="#505050"/><stop offset=".728" stop-color="#414141"/><stop offset=".781" stop-color="#3c3c3c"/><stop offset="1" stop-color="#3b3b3b"/></linearGradient><linearGradient id="g174"><stop offset=".000" stop-color="#3b3b3b"/><stop offset=".245" stop-color="#3d3d3d"/><stop offset=".285" stop-color="#464646"/><stop offset=".315" stop-color="#575757"/><stop offset=".374" stop-color="#8a8a8a"/><stop offset=".411" stop-color="#9a9a9a"/><stop offset=".430" stop-color="#9d9d9d"/><stop offset=".447" stop-color="#959595"/><stop offset=".480" stop-color="#717171"/><stop offset=".500" stop-color="#656565"/><stop offset=".526" stop-color="#777777"/><stop offset=".556" stop-color="#979797"/><stop offset=".573" stop-color="#9d9d9d"/><stop offset=".606" stop-color="#949494"/><stop offset=".636" stop-color="#828282"/><stop offset=".692" stop-color="#525252"/><stop offset=".722" stop-color="#434343"/><stop offset=".768" stop-color="#3c3c3c"/><stop offset="1" stop-color="#3b3b3b"/></linearGradient><linearGradient id="g175"><stop offset=".000" stop-color="#3b3b3b"/><stop offset=".245" stop-color="#3c3c3c"/><stop offset=".285" stop-color="#454545"/><stop offset=".315" stop-color="#565656"/><stop offset=".377" stop-color="#8b8b8b"/><stop offset=".427" stop-color="#a4a4a4"/><stop offset=".440" stop-color="#a3a3a3"/><stop offset=".454" stop-color="#999999"/><stop offset=".477" stop-color="#7f7f7f"/><stop offset=".500" stop-color="#737373"/><stop offset=".526" stop-color="#828282"/><stop offset=".553" stop-color="#9f9f9f"/><stop offset=".566" stop-color="#a5a5a5"/><stop offset=".586" stop-color="#9f9f9f"/><stop offset=".632" stop-color="#848484"/><stop offset=".692" stop-color="#525252"/><stop offset=".725" stop-color="#424242"/><stop offset=".775" stop-color="#3b3b3b"/><stop offset="1" stop-color="#3b3b3b"/></linearGradient><linearGradient id="g176"><stop offset=".000" stop-color="#3a3a3a"/><stop offset=".245" stop-color="#3c3c3c"/><stop offset=".285" stop-color="#454545"/><stop offset=".315" stop-color="#565656"/><stop offset=".381" stop-color="#8e8e8e"/><stop offset=".430" stop-color="#aeaeae"/><stop offset=".444" stop-color="#adadad"/><stop offset=".457" stop-color="#a2a2a2"/><stop offset=".477" stop-color="#8b8b8b"/><stop offset=".500" stop-color="#838383"/><stop offset=".523" stop-color="#8b8b8b"/><stop offset=".553" stop-color="#ababab"/><stop offset=".566" stop-color="#afafaf"/><stop offset=".586" stop-color="#a4a4a4"/><stop offset=".642" stop-color="#7c7c7c"/><stop offset=".692" stop-color="#515151"/><stop offset=".725" stop-color="#424242"/><stop offset=".775" stop-color="#3b3b3b"/><stop offset="1" stop-color="#3a3a3a"/></linearGradient><linearGradient id="g177"><stop offset=".000" stop-color="#3a3a3a"/><stop offset=".245" stop-color="#3c3c3c"/><stop offset=".285" stop-color="#454545"/><stop offset=".318" stop-color="#585858"/><stop offset=".384" stop-color="#909090"/><stop offset=".430" stop-color="#b7b7b7"/><stop offset=".444" stop-color="#b9b9b9"/><stop offset=".457" stop-color="#afafaf"/><stop offset=".477" stop-color="#979797"/><stop offset=".487" stop-color="#959595"/><stop offset=".497" stop-color="#979797"/><stop offset=".500" stop-color="#969696"/><stop offset=".510" stop-color="#969696"/><stop offset=".520" stop-color="#959595"/><stop offset=".533" stop-color="#a3a3a3"/><stop offset=".550" stop-color="#b6b6b6"/><stop offset=".563" stop-color="#bababa"/><stop offset=".579" stop-color="#afafaf"/><stop offset=".616" stop-color="#909090"/><stop offset=".692" stop-color="#515151"/><stop offset=".725" stop-color="#414141"/><stop offset=".775" stop-color="#3b3b3b"/><stop offset="1" stop-color="#3a3a3a"/></linearGradient><linearGradient id="g178"><stop offset=".000" stop-color="#393939"/><stop offset=".242" stop-color="#3b3b3b"/><stop offset=".281" stop-color="#434343"/><stop offset=".315" stop-color="#555555"/><stop offset=".404" stop-color="#a3a3a3"/><stop offset=".430" stop-color="#c0c0c0"/><stop offset=".444" stop-color="#c5c5c5"/><stop offset=".457" stop-color="#bebebe"/><stop offset=".480" stop-color="#a3a3a3"/><stop offset=".487" stop-color="#a3a3a3"/><stop offset=".497" stop-color="#ababab"/><stop offset=".507" stop-color="#a9a9a9"/><stop offset=".517" stop-color="#a2a2a2"/><stop offset=".526" stop-color="#a9a9a9"/><stop offset=".546" stop-color="#c1c1c1"/><stop offset=".556" stop-color="#c5c5c5"/><stop offset=".570" stop-color="#c0c0c0"/><stop offset=".609" stop-color="#969696"/><stop offset=".689" stop-color="#535353"/><stop offset=".722" stop-color="#424242"/><stop offset=".768" stop-color="#3b3b3b"/><stop offset="1" stop-color="#393939"/></linearGradient><linearGradient id="g179"><stop offset=".000" stop-color="#393939"/><stop offset=".242" stop-color="#3b3b3b"/><stop offset=".281" stop-color="#434343"/><stop offset=".315" stop-color="#555555"/><stop offset=".397" stop-color="#9d9d9d"/><stop offset=".434" stop-color="#cbcbcb"/><stop offset=".444" stop-color="#d0d0d0"/><stop offset=".454" stop-color="#cdcdcd"/><stop offset=".480" stop-color="#b0b0b0"/><stop offset=".487" stop-color="#b0b0b0"/><stop offset=".497" stop-color="#bdbdbd"/><stop offset=".503" stop-color="#bdbdbd"/><stop offset=".513" stop-color="#b0b0b0"/><stop offset=".520" stop-color="#b0b0b0"/><stop offset=".546" stop-color="#cdcdcd"/><stop offset=".556" stop-color="#d0d0d0"/><stop offset=".566" stop-color="#cbcbcb"/><stop offset=".606" stop-color="#9a9a9a"/><stop offset=".689" stop-color="#535353"/><stop offset=".722" stop-color="#424242"/><stop offset=".768" stop-color="#3a3a3a"/><stop offset="1" stop-color="#393939"/></linearGradient><linearGradient id="g180"><stop offset=".000" stop-color="#393939"/><stop offset=".245" stop-color="#3b3b3b"/><stop offset=".285" stop-color="#444444"/><stop offset=".318" stop-color="#575757"/><stop offset=".397" stop-color="#9e9e9e"/><stop offset=".434" stop-color="#d1d1d1"/><stop offset=".444" stop-color="#d8d8d8"/><stop offset=".454" stop-color="#d7d7d7"/><stop offset=".474" stop-color="#c4c4c4"/><stop offset=".483" stop-color="#bcbcbc"/><stop offset=".487" stop-color="#bdbdbd"/><stop offset=".497" stop-color="#cecece"/><stop offset=".503" stop-color="#cecece"/><stop offset=".513" stop-color="#bdbdbd"/><stop offset=".520" stop-color="#bebebe"/><stop offset=".543" stop-color="#d5d5d5"/><stop offset=".553" stop-color="#d9d9d9"/><stop offset=".563" stop-color="#d4d4d4"/><stop offset=".579" stop-color="#bfbfbf"/><stop offset=".603" stop-color="#9e9e9e"/><stop offset=".682" stop-color="#575757"/><stop offset=".715" stop-color="#444444"/><stop offset=".755" stop-color="#3b3b3b"/><stop offset="1" stop-color="#393939"/></linearGradient><linearGradient id="g181"><stop offset=".000" stop-color="#393939"/><stop offset=".245" stop-color="#3b3b3b"/><stop offset=".285" stop-color="#444444"/><stop offset=".318" stop-color="#565656"/><stop offset=".394" stop-color="#9b9b9b"/><stop offset=".414" stop-color="#b7b7b7"/><stop offset=".434" stop-color="#d6d6d6"/><stop offset=".444" stop-color="#dedede"/><stop offset=".454" stop-color="#dfdfdf"/><stop offset=".470" stop-color="#d2d2d2"/><stop offset=".483" stop-color="#c7c7c7"/><stop offset=".487" stop-color="#c8c8c8"/><stop offset=".490" stop-color="#cccccc"/><stop offset=".497" stop-color="#dddddd"/><stop offset=".500" stop-color="#dfdfdf"/><stop offset=".503" stop-color="#dddddd"/><stop offset=".510" stop-color="#cccccc"/><stop offset=".513" stop-color="#c8c8c8"/><stop offset=".520" stop-color="#c9c9c9"/><stop offset=".543" stop-color="#dddddd"/><stop offset=".553" stop-color="#dfdfdf"/><stop offset=".563" stop-color="#d9d9d9"/><stop offset=".579" stop-color="#c2c2c2"/><stop offset=".603" stop-color="#9f9f9f"/><stop offset=".656" stop-color="#6d6d6d"/><stop offset=".692" stop-color="#4f4f4f"/><stop offset=".725" stop-color="#404040"/><stop offset=".775" stop-color="#393939"/><stop offset="1" stop-color="#393939"/></linearGradient><linearGradient id="g182"><stop offset=".000" stop-color="#383838"/><stop offset=".245" stop-color="#3a3a3a"/><stop offset=".285" stop-color="#434343"/><stop offset=".318" stop-color="#565656"/><stop offset=".391" stop-color="#979797"/><stop offset=".411" stop-color="#b2b2b2"/><stop offset=".434" stop-color="#d8d8d8"/><stop offset=".444" stop-color="#e1e1e1"/><stop offset=".454" stop-color="#e3e3e3"/><stop offset=".470" stop-color="#dadada"/><stop offset=".483" stop-color="#cfcfcf"/><stop offset=".487" stop-color="#cfcfcf"/><stop offset=".490" stop-color="#d3d3d3"/><stop offset=".497" stop-color="#e9e9e9"/><stop offset=".500" stop-color="#ededed"/><stop offset=".503" stop-color="#e9e9e9"/><stop offset=".510" stop-color="#d3d3d3"/><stop offset=".513" stop-color="#cfcfcf"/><stop offset=".523" stop-color="#d4d4d4"/><stop offset=".543" stop-color="#e2e2e2"/><stop offset=".553" stop-color="#e3e3e3"/><stop offset=".563" stop-color="#dbdbdb"/><stop offset=".579" stop-color="#c3c3c3"/><stop offset=".603" stop-color="#9f9f9f"/><stop offset=".642" stop-color="#787878"/><stop offset=".689" stop-color="#515151"/><stop offset=".722" stop-color="#414141"/><stop offset=".768" stop-color="#393939"/><stop offset="1" stop-color="#383838"/></linearGradient><linearGradient id="g183"><stop offset=".000" stop-color="#383838"/><stop offset=".245" stop-color="#3a3a3a"/><stop offset=".285" stop-color="#434343"/><stop offset=".318" stop-color="#565656"/><stop offset=".391" stop-color="#979797"/><stop offset=".411" stop-color="#b1b1b1"/><stop offset=".434" stop-color="#d7d7d7"/><stop offset=".447" stop-color="#e3e3e3"/><stop offset=".460" stop-color="#e2e2e2"/><stop offset=".487" stop-color="#d1d1d1"/><stop offset=".490" stop-color="#d5d5d5"/><stop offset=".493" stop-color="#dfdfdf"/><stop offset=".497" stop-color="#ededed"/><stop offset=".500" stop-color="#f2f2f2"/><stop offset=".503" stop-color="#ededed"/><stop offset=".507" stop-color="#dfdfdf"/><stop offset=".510" stop-color="#d5d5d5"/><stop offset=".513" stop-color="#d1d1d1"/><stop offset=".543" stop-color="#e3e3e3"/><stop offset=".556" stop-color="#e1e1e1"/><stop offset=".570" stop-color="#d3d3d3"/><stop offset=".599" stop-color="#a3a3a3"/><stop offset=".626" stop-color="#878787"/><stop offset=".685" stop-color="#535353"/><stop offset=".719" stop-color="#424242"/><stop offset=".762" stop-color="#3a3a3a"/><stop offset="1" stop-color="#383838"/></linearGradient><linearGradient id="g184"><stop offset=".000" stop-color="#040404"/><stop offset=".332" stop-color="#090909"/><stop offset=".382" stop-color="#0f0f0f"/><stop offset=".447" stop-color="#232323"/><stop offset=".470" stop-color="#333333"/><stop offset=".493" stop-color="#474747"/><stop offset=".503" stop-color="#484848"/><stop offset=".520" stop-color="#3c3c3c"/><stop offset=".546" stop-color="#272727"/><stop offset=".586" stop-color="#181818"/><stop offset=".645" stop-color="#0a0a0a"/><stop offset=".901" stop-color="#040404"/><stop offset="1" stop-color="#040404"/></linearGradient><linearGradient id="g185"><stop offset=".000" stop-color="#040404"/><stop offset=".329" stop-color="#090909"/><stop offset=".378" stop-color="#101010"/><stop offset=".444" stop-color="#232323"/><stop offset=".467" stop-color="#323232"/><stop offset=".493" stop-color="#4b4b4b"/><stop offset=".503" stop-color="#4c4c4c"/><stop offset=".520" stop-color="#3f3f3f"/><stop offset=".546" stop-color="#282828"/><stop offset=".582" stop-color="#1a1a1a"/><stop offset=".651" stop-color="#0a0a0a"/><stop offset=".901" stop-color="#040404"/><stop offset="1" stop-color="#040404"/></linearGradient><linearGradient id="g186"><stop offset=".000" stop-color="#040404"/><stop offset=".322" stop-color="#090909"/><stop offset=".372" stop-color="#101010"/><stop offset=".441" stop-color="#232323"/><stop offset=".464" stop-color="#323232"/><stop offset=".493" stop-color="#4e4e4e"/><stop offset=".503" stop-color="#505050"/><stop offset=".516" stop-color="#464646"/><stop offset=".543" stop-color="#2c2c2c"/><stop offset=".572" stop-color="#1e1e1e"/><stop offset=".658" stop-color="#0a0a0a"/><stop offset=".901" stop-color="#040404"/><stop offset="1" stop-color="#040404"/></linearGradient><linearGradient id="g187"><stop offset=".000" stop-color="#040404"/><stop offset=".316" stop-color="#090909"/><stop offset=".368" stop-color="#101010"/><stop offset=".438" stop-color="#232323"/><stop offset=".461" stop-color="#313131"/><stop offset=".493" stop-color="#525252"/><stop offset=".503" stop-color="#545454"/><stop offset=".516" stop-color="#494949"/><stop offset=".543" stop-color="#2f2f2f"/><stop offset=".569" stop-color="#202020"/><stop offset=".664" stop-color="#0a0a0a"/><stop offset=".898" stop-color="#040404"/><stop offset="1" stop-color="#040404"/></linearGradient><linearGradient id="g188"><stop offset=".000" stop-color="#040404"/><stop offset=".309" stop-color="#090909"/><stop offset=".365" stop-color="#111111"/><stop offset=".434" stop-color="#232323"/><stop offset=".461" stop-color="#343434"/><stop offset=".493" stop-color="#565656"/><stop offset=".503" stop-color="#585858"/><stop offset=".516" stop-color="#4d4d4d"/><stop offset=".543" stop-color="#313131"/><stop offset=".569" stop-color="#222222"/><stop offset=".671" stop-color="#0a0a0a"/><stop offset=".901" stop-color="#040404"/><stop offset="1" stop-color="#040404"/></linearGradient><linearGradient id="g189"><stop offset=".000" stop-color="#040404"/><stop offset=".306" stop-color="#090909"/><stop offset=".362" stop-color="#111111"/><stop offset=".431" stop-color="#232323"/><stop offset=".457" stop-color="#333333"/><stop offset=".493" stop-color="#5a5a5a"/><stop offset=".503" stop-color="#5c5c5c"/><stop offset=".516" stop-color="#515151"/><stop offset=".543" stop-color="#333333"/><stop offset=".569" stop-color="#232323"/><stop offset=".661" stop-color="#0d0d0d"/><stop offset=".757" stop-color="#070707"/><stop offset="1" stop-color="#040404"/></linearGradient><linearGradient id="g190"><stop offset=".000" stop-color="#040404"/><stop offset=".299" stop-color="#090909"/><stop offset=".359" stop-color="#121212"/><stop offset=".428" stop-color="#232323"/><stop offset=".454" stop-color="#333333"/><stop offset=".477" stop-color="#4c4c4c"/><stop offset=".493" stop-color="#5f5f5f"/><stop offset=".503" stop-color="#606060"/><stop offset=".516" stop-color="#555555"/><stop offset=".543" stop-color="#353535"/><stop offset=".569" stop-color="#252525"/><stop offset=".638" stop-color="#131313"/><stop offset=".697" stop-color="#090909"/><stop offset=".997" stop-color="#040404"/><stop offset="1" stop-color="#040404"/></linearGradient><linearGradient id="g191"><stop offset=".000" stop-color="#040404"/><stop offset=".296" stop-color="#090909"/><stop offset=".359" stop-color="#131313"/><stop offset=".428" stop-color="#252525"/><stop offset=".454" stop-color="#353535"/><stop offset=".477" stop-color="#505050"/><stop offset=".493" stop-color="#636363"/><stop offset=".503" stop-color="#656565"/><stop offset=".516" stop-color="#595959"/><stop offset=".543" stop-color="#383838"/><stop offset=".566" stop-color="#282828"/><stop offset=".612" stop-color="#191919"/><stop offset=".694" stop-color="#0a0a0a"/><stop offset=".954" stop-color="#040404"/><stop offset="1" stop-color="#040404"/></linearGradient><linearGradient id="g192"><stop offset=".000" stop-color="#040404"/><stop offset=".289" stop-color="#090909"/><stop offset=".352" stop-color="#121212"/><stop offset=".424" stop-color="#252525"/><stop offset=".451" stop-color="#343434"/><stop offset=".470" stop-color="#4a4a4a"/><stop offset=".490" stop-color="#656565"/><stop offset=".500" stop-color="#6a6a6a"/><stop offset=".510" stop-color="#656565"/><stop offset=".543" stop-color="#3a3a3a"/><stop offset=".566" stop-color="#292929"/><stop offset=".609" stop-color="#1b1b1b"/><stop offset=".697" stop-color="#0a0a0a"/><stop offset=".944" stop-color="#040404"/><stop offset="1" stop-color="#040404"/></linearGradient><linearGradient id="g193"><stop offset=".000" stop-color="#040404"/><stop offset=".286" stop-color="#090909"/><stop offset=".352" stop-color="#131313"/><stop offset=".421" stop-color="#252525"/><stop offset=".447" stop-color="#343434"/><stop offset=".467" stop-color="#494949"/><stop offset=".490" stop-color="#696969"/><stop offset=".500" stop-color="#6f6f6f"/><stop offset=".510" stop-color="#696969"/><stop offset=".543" stop-color="#3d3d3d"/><stop offset=".566" stop-color="#2b2b2b"/><stop offset=".605" stop-color="#1d1d1d"/><stop offset=".701" stop-color="#0a0a0a"/><stop offset=".934" stop-color="#050505"/><stop offset="1" stop-color="#040404"/></linearGradient><linearGradient id="g194"><stop offset=".000" stop-color="#040404"/><stop offset=".283" stop-color="#090909"/><stop offset=".352" stop-color="#151515"/><stop offset=".418" stop-color="#252525"/><stop offset=".444" stop-color="#333333"/><stop offset=".464" stop-color="#484848"/><stop offset=".490" stop-color="#6e6e6e"/><stop offset=".500" stop-color="#737373"/><stop offset=".510" stop-color="#6e6e6e"/><stop offset=".543" stop-color="#404040"/><stop offset=".566" stop-color="#2d2d2d"/><stop offset=".602" stop-color="#1f1f1f"/><stop offset=".707" stop-color="#0a0a0a"/><stop offset=".944" stop-color="#050505"/><stop offset="1" stop-color="#040404"/></linearGradient><linearGradient id="g195"><stop offset=".000" stop-color="#040404"/><stop offset=".276" stop-color="#090909"/><stop offset=".345" stop-color="#141414"/><stop offset=".414" stop-color="#252525"/><stop offset=".441" stop-color="#333333"/><stop offset=".461" stop-color="#474747"/><stop offset=".490" stop-color="#737373"/><stop offset=".500" stop-color="#787878"/><stop offset=".510" stop-color="#737373"/><stop offset=".543" stop-color="#434343"/><stop offset=".562" stop-color="#313131"/><stop offset=".595" stop-color="#222222"/><stop offset=".707" stop-color="#0b0b0b"/><stop offset=".918" stop-color="#050505"/><stop offset="1" stop-color="#040404"/></linearGradient><linearGradient id="g196"><stop offset=".000" stop-color="#040404"/><stop offset=".273" stop-color="#0a0a0a"/><stop offset=".349" stop-color="#161616"/><stop offset=".414" stop-color="#262626"/><stop offset=".441" stop-color="#353535"/><stop offset=".461" stop-color="#4a4a4a"/><stop offset=".490" stop-color="#787878"/><stop offset=".500" stop-color="#7d7d7d"/><stop offset=".510" stop-color="#787878"/><stop offset=".543" stop-color="#464646"/><stop offset=".562" stop-color="#333333"/><stop offset=".592" stop-color="#242424"/><stop offset=".704" stop-color="#0c0c0c"/><stop offset=".859" stop-color="#060606"/><stop offset="1" stop-color="#040404"/></linearGradient><linearGradient id="g197"><stop offset=".000" stop-color="#040404"/><stop offset=".266" stop-color="#0a0a0a"/><stop offset=".339" stop-color="#151515"/><stop offset=".411" stop-color="#272727"/><stop offset=".438" stop-color="#353535"/><stop offset=".457" stop-color="#494949"/><stop offset=".490" stop-color="#7d7d7d"/><stop offset=".500" stop-color="#838383"/><stop offset=".510" stop-color="#7d7d7d"/><stop offset=".543" stop-color="#494949"/><stop offset=".562" stop-color="#353535"/><stop offset=".592" stop-color="#252525"/><stop offset=".691" stop-color="#0f0f0f"/><stop offset=".766" stop-color="#080808"/><stop offset="1" stop-color="#040404"/></linearGradient><linearGradient id="g198"><stop offset=".000" stop-color="#050505"/><stop offset=".263" stop-color="#0a0a0a"/><stop offset=".342" stop-color="#161616"/><stop offset=".408" stop-color="#272727"/><stop offset=".438" stop-color="#383838"/><stop offset=".457" stop-color="#4d4d4d"/><stop offset=".490" stop-color="#828282"/><stop offset=".500" stop-color="#888888"/><stop offset=".510" stop-color="#828282"/><stop offset=".543" stop-color="#4d4d4d"/><stop offset=".562" stop-color="#383838"/><stop offset=".592" stop-color="#272727"/><stop offset=".671" stop-color="#141414"/><stop offset=".743" stop-color="#090909"/><stop offset="1" stop-color="#050505"/></linearGradient><linearGradient id="g199"><stop offset=".000" stop-color="#050505"/><stop offset=".257" stop-color="#0a0a0a"/><stop offset=".336" stop-color="#161616"/><stop offset=".405" stop-color="#272727"/><stop offset=".434" stop-color="#373737"/><stop offset=".454" stop-color="#4c4c4c"/><stop offset=".474" stop-color="#6b6b6b"/><stop offset=".490" stop-color="#878787"/><stop offset=".500" stop-color="#8d8d8d"/><stop offset=".510" stop-color="#878787"/><stop offset=".530" stop-color="#656565"/><stop offset=".549" stop-color="#474747"/><stop offset=".572" stop-color="#333333"/><stop offset=".609" stop-color="#232323"/><stop offset=".727" stop-color="#0b0b0b"/><stop offset=".921" stop-color="#050505"/><stop offset="1" stop-color="#050505"/></linearGradient><linearGradient id="g200"><stop offset=".000" stop-color="#050505"/><stop offset=".253" stop-color="#0a0a0a"/><stop offset=".336" stop-color="#171717"/><stop offset=".405" stop-color="#292929"/><stop offset=".434" stop-color="#3a3a3a"/><stop offset=".454" stop-color="#4f4f4f"/><stop offset=".474" stop-color="#707070"/><stop offset=".490" stop-color="#8c8c8c"/><stop offset=".500" stop-color="#929292"/><stop offset=".510" stop-color="#8c8c8c"/><stop offset=".526" stop-color="#707070"/><stop offset=".546" stop-color="#4f4f4f"/><stop offset=".566" stop-color="#3a3a3a"/><stop offset=".595" stop-color="#292929"/><stop offset=".664" stop-color="#171717"/><stop offset=".747" stop-color="#0a0a0a"/><stop offset="1" stop-color="#050505"/></linearGradient><linearGradient id="g201"><stop offset=".000" stop-color="#050505"/><stop offset=".250" stop-color="#0a0a0a"/><stop offset=".336" stop-color="#181818"/><stop offset=".401" stop-color="#292929"/><stop offset=".431" stop-color="#3a3a3a"/><stop offset=".451" stop-color="#4e4e4e"/><stop offset=".470" stop-color="#6e6e6e"/><stop offset=".487" stop-color="#8d8d8d"/><stop offset=".497" stop-color="#979797"/><stop offset=".507" stop-color="#959595"/><stop offset=".516" stop-color="#878787"/><stop offset=".543" stop-color="#575757"/><stop offset=".562" stop-color="#3f3f3f"/><stop offset=".589" stop-color="#2d2d2d"/><stop offset=".638" stop-color="#1e1e1e"/><stop offset=".743" stop-color="#0b0b0b"/><stop offset=".967" stop-color="#050505"/><stop offset="1" stop-color="#050505"/></linearGradient><linearGradient id="g202"><stop offset=".000" stop-color="#050505"/><stop offset=".247" stop-color="#0a0a0a"/><stop offset=".336" stop-color="#191919"/><stop offset=".398" stop-color="#292929"/><stop offset=".428" stop-color="#393939"/><stop offset=".447" stop-color="#4d4d4d"/><stop offset=".464" stop-color="#666666"/><stop offset=".487" stop-color="#929292"/><stop offset=".497" stop-color="#9d9d9d"/><stop offset=".507" stop-color="#9a9a9a"/><stop offset=".516" stop-color="#8d8d8d"/><stop offset=".543" stop-color="#5b5b5b"/><stop offset=".562" stop-color="#424242"/><stop offset=".589" stop-color="#2f2f2f"/><stop offset=".635" stop-color="#1f1f1f"/><stop offset=".743" stop-color="#0b0b0b"/><stop offset=".947" stop-color="#050505"/><stop offset="1" stop-color="#050505"/></linearGradient><linearGradient id="g203"><stop offset=".000" stop-color="#050505"/><stop offset=".240" stop-color="#0a0a0a"/><stop offset=".326" stop-color="#181818"/><stop offset=".395" stop-color="#292929"/><stop offset=".424" stop-color="#393939"/><stop offset=".444" stop-color="#4c4c4c"/><stop offset=".461" stop-color="#646464"/><stop offset=".487" stop-color="#979797"/><stop offset=".497" stop-color="#a2a2a2"/><stop offset=".507" stop-color="#a0a0a0"/><stop offset=".516" stop-color="#929292"/><stop offset=".543" stop-color="#5f5f5f"/><stop offset=".562" stop-color="#454545"/><stop offset=".589" stop-color="#313131"/><stop offset=".632" stop-color="#212121"/><stop offset=".747" stop-color="#0b0b0b"/><stop offset=".944" stop-color="#050505"/><stop offset="1" stop-color="#050505"/></linearGradient><linearGradient id="g204"><stop offset=".000" stop-color="#050505"/><stop offset=".237" stop-color="#0a0a0a"/><stop offset=".322" stop-color="#181818"/><stop offset=".391" stop-color="#2a2a2a"/><stop offset=".424" stop-color="#3b3b3b"/><stop offset=".444" stop-color="#4f4f4f"/><stop offset=".461" stop-color="#696969"/><stop offset=".487" stop-color="#9d9d9d"/><stop offset=".497" stop-color="#a8a8a8"/><stop offset=".507" stop-color="#a5a5a5"/><stop offset=".516" stop-color="#979797"/><stop offset=".543" stop-color="#636363"/><stop offset=".559" stop-color="#4b4b4b"/><stop offset=".582" stop-color="#373737"/><stop offset=".618" stop-color="#262626"/><stop offset=".734" stop-color="#0e0e0e"/><stop offset=".845" stop-color="#070707"/><stop offset="1" stop-color="#050505"/></linearGradient><linearGradient id="g205"><stop offset=".000" stop-color="#050505"/><stop offset=".234" stop-color="#0a0a0a"/><stop offset=".322" stop-color="#191919"/><stop offset=".391" stop-color="#2b2b2b"/><stop offset=".421" stop-color="#3b3b3b"/><stop offset=".441" stop-color="#4e4e4e"/><stop offset=".457" stop-color="#676767"/><stop offset=".487" stop-color="#a2a2a2"/><stop offset=".497" stop-color="#adadad"/><stop offset=".507" stop-color="#ababab"/><stop offset=".516" stop-color="#9c9c9c"/><stop offset=".543" stop-color="#676767"/><stop offset=".559" stop-color="#4e4e4e"/><stop offset=".582" stop-color="#393939"/><stop offset=".618" stop-color="#272727"/><stop offset=".727" stop-color="#0f0f0f"/><stop offset=".812" stop-color="#080808"/><stop offset="1" stop-color="#050505"/></linearGradient><linearGradient id="g206"><stop offset=".000" stop-color="#050505"/><stop offset=".230" stop-color="#0b0b0b"/><stop offset=".322" stop-color="#1a1a1a"/><stop offset=".388" stop-color="#2b2b2b"/><stop offset=".421" stop-color="#3d3d3d"/><stop offset=".441" stop-color="#515151"/><stop offset=".457" stop-color="#6b6b6b"/><stop offset=".487" stop-color="#a7a7a7"/><stop offset=".497" stop-color="#b2b2b2"/><stop offset=".507" stop-color="#b0b0b0"/><stop offset=".516" stop-color="#a2a2a2"/><stop offset=".543" stop-color="#6b6b6b"/><stop offset=".559" stop-color="#515151"/><stop offset=".582" stop-color="#3b3b3b"/><stop offset=".615" stop-color="#2a2a2a"/><stop offset=".697" stop-color="#161616"/><stop offset=".776" stop-color="#0a0a0a"/><stop offset="1" stop-color="#050505"/></linearGradient><linearGradient id="g207"><stop offset=".000" stop-color="#050505"/><stop offset=".227" stop-color="#0b0b0b"/><stop offset=".319" stop-color="#1a1a1a"/><stop offset=".385" stop-color="#2b2b2b"/><stop offset=".418" stop-color="#3d3d3d"/><stop offset=".441" stop-color="#555555"/><stop offset=".457" stop-color="#6f6f6f"/><stop offset=".487" stop-color="#adadad"/><stop offset=".497" stop-color="#b8b8b8"/><stop offset=".507" stop-color="#b6b6b6"/><stop offset=".516" stop-color="#a7a7a7"/><stop offset=".546" stop-color="#696969"/><stop offset=".562" stop-color="#505050"/><stop offset=".586" stop-color="#3b3b3b"/><stop offset=".622" stop-color="#292929"/><stop offset=".720" stop-color="#121212"/><stop offset=".799" stop-color="#090909"/><stop offset="1" stop-color="#050505"/></linearGradient><linearGradient id="g208"><stop offset=".000" stop-color="#050505"/><stop offset=".224" stop-color="#0b0b0b"/><stop offset=".319" stop-color="#1b1b1b"/><stop offset=".385" stop-color="#2d2d2d"/><stop offset=".418" stop-color="#404040"/><stop offset=".438" stop-color="#545454"/><stop offset=".454" stop-color="#6d6d6d"/><stop offset=".487" stop-color="#b2b2b2"/><stop offset=".497" stop-color="#bdbdbd"/><stop offset=".507" stop-color="#bbbbbb"/><stop offset=".516" stop-color="#acacac"/><stop offset=".546" stop-color="#6d6d6d"/><stop offset=".562" stop-color="#545454"/><stop offset=".586" stop-color="#3d3d3d"/><stop offset=".618" stop-color="#2c2c2c"/><stop offset=".694" stop-color="#181818"/><stop offset=".780" stop-color="#0b0b0b"/><stop offset="1" stop-color="#050505"/></linearGradient><linearGradient id="g209"><stop offset=".000" stop-color="#050505"/><stop offset=".220" stop-color="#0b0b0b"/><stop offset=".316" stop-color="#1b1b1b"/><stop offset=".382" stop-color="#2d2d2d"/><stop offset=".414" stop-color="#404040"/><stop offset=".438" stop-color="#575757"/><stop offset=".454" stop-color="#717171"/><stop offset=".487" stop-color="#b8b8b8"/><stop offset=".497" stop-color="#c3c3c3"/><stop offset=".507" stop-color="#c0c0c0"/><stop offset=".516" stop-color="#b2b2b2"/><stop offset=".546" stop-color="#717171"/><stop offset=".562" stop-color="#575757"/><stop offset=".586" stop-color="#404040"/><stop offset=".618" stop-color="#2d2d2d"/><stop offset=".688" stop-color="#1b1b1b"/><stop offset=".780" stop-color="#0b0b0b"/><stop offset="1" stop-color="#050505"/></linearGradient><linearGradient id="g210"><stop offset=".000" stop-color="#050505"/><stop offset=".217" stop-color="#0b0b0b"/><stop offset=".316" stop-color="#1c1c1c"/><stop offset=".378" stop-color="#2e2e2e"/><stop offset=".411" stop-color="#404040"/><stop offset=".434" stop-color="#565656"/><stop offset=".451" stop-color="#6f6f6f"/><stop offset=".470" stop-color="#999999"/><stop offset=".487" stop-color="#bdbdbd"/><stop offset=".497" stop-color="#c8c8c8"/><stop offset=".507" stop-color="#c6c6c6"/><stop offset=".516" stop-color="#b7b7b7"/><stop offset=".546" stop-color="#767676"/><stop offset=".562" stop-color="#5b5b5b"/><stop offset=".586" stop-color="#424242"/><stop offset=".618" stop-color="#2f2f2f"/><stop offset=".681" stop-color="#1d1d1d"/><stop offset=".780" stop-color="#0c0c0c"/><stop offset=".980" stop-color="#060606"/><stop offset="1" stop-color="#050505"/></linearGradient><linearGradient id="g211"><stop offset=".000" stop-color="#060606"/><stop offset=".211" stop-color="#0b0b0b"/><stop offset=".303" stop-color="#1a1a1a"/><stop offset=".375" stop-color="#2e2e2e"/><stop offset=".408" stop-color="#404040"/><stop offset=".431" stop-color="#555555"/><stop offset=".447" stop-color="#6e6e6e"/><stop offset=".467" stop-color="#979797"/><stop offset=".484" stop-color="#bcbcbc"/><stop offset=".493" stop-color="#cbcbcb"/><stop offset=".503" stop-color="#cdcdcd"/><stop offset=".513" stop-color="#c2c2c2"/><stop offset=".530" stop-color="#9e9e9e"/><stop offset=".549" stop-color="#737373"/><stop offset=".566" stop-color="#5a5a5a"/><stop offset=".589" stop-color="#424242"/><stop offset=".622" stop-color="#2f2f2f"/><stop offset=".688" stop-color="#1d1d1d"/><stop offset=".786" stop-color="#0c0c0c"/><stop offset=".997" stop-color="#060606"/><stop offset="1" stop-color="#060606"/></linearGradient><linearGradient id="g212"><stop offset=".000" stop-color="#060606"/><stop offset=".207" stop-color="#0c0c0c"/><stop offset=".303" stop-color="#1b1b1b"/><stop offset=".372" stop-color="#2e2e2e"/><stop offset=".405" stop-color="#3f3f3f"/><stop offset=".428" stop-color="#555555"/><stop offset=".447" stop-color="#717171"/><stop offset=".467" stop-color="#9b9b9b"/><stop offset=".484" stop-color="#c1c1c1"/><stop offset=".493" stop-color="#d0d0d0"/><stop offset=".503" stop-color="#d2d2d2"/><stop offset=".513" stop-color="#c7c7c7"/><stop offset=".530" stop-color="#a3a3a3"/><stop offset=".549" stop-color="#787878"/><stop offset=".566" stop-color="#5d5d5d"/><stop offset=".589" stop-color="#444444"/><stop offset=".622" stop-color="#313131"/><stop offset=".684" stop-color="#1e1e1e"/><stop offset=".786" stop-color="#0c0c0c"/><stop offset=".980" stop-color="#060606"/><stop offset="1" stop-color="#060606"/></linearGradient><linearGradient id="g213"><stop offset=".000" stop-color="#060606"/><stop offset=".204" stop-color="#0c0c0c"/><stop offset=".299" stop-color="#1c1c1c"/><stop offset=".368" stop-color="#2e2e2e"/><stop offset=".405" stop-color="#424242"/><stop offset=".428" stop-color="#585858"/><stop offset=".447" stop-color="#757575"/><stop offset=".467" stop-color="#a0a0a0"/><stop offset=".484" stop-color="#c6c6c6"/><stop offset=".493" stop-color="#d5d5d5"/><stop offset=".503" stop-color="#d7d7d7"/><stop offset=".513" stop-color="#cccccc"/><stop offset=".530" stop-color="#a8a8a8"/><stop offset=".549" stop-color="#7c7c7c"/><stop offset=".566" stop-color="#606060"/><stop offset=".589" stop-color="#474747"/><stop offset=".618" stop-color="#343434"/><stop offset=".671" stop-color="#222222"/><stop offset=".783" stop-color="#0d0d0d"/><stop offset=".944" stop-color="#060606"/><stop offset="1" stop-color="#060606"/></linearGradient><linearGradient id="g214"><stop offset=".000" stop-color="#060606"/><stop offset=".201" stop-color="#0c0c0c"/><stop offset=".299" stop-color="#1c1c1c"/><stop offset=".368" stop-color="#303030"/><stop offset=".401" stop-color="#414141"/><stop offset=".424" stop-color="#575757"/><stop offset=".444" stop-color="#737373"/><stop offset=".464" stop-color="#9d9d9d"/><stop offset=".484" stop-color="#cbcbcb"/><stop offset=".493" stop-color="#dadada"/><stop offset=".503" stop-color="#dcdcdc"/><stop offset=".513" stop-color="#d1d1d1"/><stop offset=".526" stop-color="#b5b5b5"/><stop offset=".549" stop-color="#808080"/><stop offset=".566" stop-color="#636363"/><stop offset=".586" stop-color="#4c4c4c"/><stop offset=".615" stop-color="#373737"/><stop offset=".664" stop-color="#252525"/><stop offset=".780" stop-color="#0e0e0e"/><stop offset=".911" stop-color="#070707"/><stop offset="1" stop-color="#060606"/></linearGradient><linearGradient id="g215"><stop offset=".000" stop-color="#060606"/><stop offset=".197" stop-color="#0c0c0c"/><stop offset=".296" stop-color="#1d1d1d"/><stop offset=".365" stop-color="#303030"/><stop offset=".401" stop-color="#444444"/><stop offset=".424" stop-color="#5a5a5a"/><stop offset=".444" stop-color="#777777"/><stop offset=".464" stop-color="#a1a1a1"/><stop offset=".484" stop-color="#d0d0d0"/><stop offset=".493" stop-color="#dedede"/><stop offset=".503" stop-color="#e1e1e1"/><stop offset=".513" stop-color="#d6d6d6"/><stop offset=".526" stop-color="#bababa"/><stop offset=".549" stop-color="#848484"/><stop offset=".566" stop-color="#676767"/><stop offset=".586" stop-color="#4f4f4f"/><stop offset=".615" stop-color="#393939"/><stop offset=".661" stop-color="#272727"/><stop offset=".776" stop-color="#0f0f0f"/><stop offset=".888" stop-color="#080808"/><stop offset="1" stop-color="#060606"/></linearGradient><linearGradient id="g216"><stop offset=".000" stop-color="#060606"/><stop offset=".194" stop-color="#0c0c0c"/><stop offset=".293" stop-color="#1d1d1d"/><stop offset=".362" stop-color="#303030"/><stop offset=".398" stop-color="#434343"/><stop offset=".421" stop-color="#595959"/><stop offset=".441" stop-color="#757575"/><stop offset=".457" stop-color="#969696"/><stop offset=".484" stop-color="#d4d4d4"/><stop offset=".493" stop-color="#e3e3e3"/><stop offset=".503" stop-color="#e5e5e5"/><stop offset=".513" stop-color="#dadada"/><stop offset=".526" stop-color="#bebebe"/><stop offset=".549" stop-color="#888888"/><stop offset=".566" stop-color="#6a6a6a"/><stop offset=".586" stop-color="#515151"/><stop offset=".612" stop-color="#3d3d3d"/><stop offset=".655" stop-color="#2a2a2a"/><stop offset=".763" stop-color="#121212"/><stop offset=".852" stop-color="#090909"/><stop offset="1" stop-color="#060606"/></linearGradient><linearGradient id="g217"><stop offset=".000" stop-color="#060606"/><stop offset=".191" stop-color="#0c0c0c"/><stop offset=".293" stop-color="#1e1e1e"/><stop offset=".362" stop-color="#313131"/><stop offset=".398" stop-color="#454545"/><stop offset=".421" stop-color="#5b5b5b"/><stop offset=".441" stop-color="#787878"/><stop offset=".461" stop-color="#a2a2a2"/><stop offset=".484" stop-color="#d9d9d9"/><stop offset=".493" stop-color="#e7e7e7"/><stop offset=".503" stop-color="#e9e9e9"/><stop offset=".513" stop-color="#dfdfdf"/><stop offset=".526" stop-color="#c3c3c3"/><stop offset=".549" stop-color="#8c8c8c"/><stop offset=".566" stop-color="#6d6d6d"/><stop offset=".586" stop-color="#545454"/><stop offset=".612" stop-color="#3f3f3f"/><stop offset=".655" stop-color="#2b2b2b"/><stop offset=".757" stop-color="#141414"/><stop offset=".842" stop-color="#0a0a0a"/><stop offset="1" stop-color="#060606"/></linearGradient><linearGradient id="g218"><stop offset=".000" stop-color="#060606"/><stop offset=".191" stop-color="#0d0d0d"/><stop offset=".296" stop-color="#1f1f1f"/><stop offset=".362" stop-color="#333333"/><stop offset=".398" stop-color="#474747"/><stop offset=".421" stop-color="#5e5e5e"/><stop offset=".441" stop-color="#7c7c7c"/><stop offset=".461" stop-color="#a6a6a6"/><stop offset=".484" stop-color="#dddddd"/><stop offset=".493" stop-color="#ebebeb"/><stop offset=".503" stop-color="#eeeeee"/><stop offset=".513" stop-color="#e3e3e3"/><stop offset=".526" stop-color="#c7c7c7"/><stop offset=".549" stop-color="#8f8f8f"/><stop offset=".566" stop-color="#707070"/><stop offset=".586" stop-color="#565656"/><stop offset=".612" stop-color="#404040"/><stop offset=".651" stop-color="#2e2e2e"/><stop offset=".740" stop-color="#181818"/><stop offset=".826" stop-color="#0b0b0b"/><stop offset="1" stop-color="#060606"/></linearGradient><linearGradient id="g219"><stop offset=".000" stop-color="#060606"/><stop offset=".188" stop-color="#0d0d0d"/><stop offset=".286" stop-color="#1e1e1e"/><stop offset=".355" stop-color="#313131"/><stop offset=".391" stop-color="#444444"/><stop offset=".418" stop-color="#5d5d5d"/><stop offset=".438" stop-color="#797979"/><stop offset=".454" stop-color="#9a9a9a"/><stop offset=".484" stop-color="#e1e1e1"/><stop offset=".493" stop-color="#efefef"/><stop offset=".503" stop-color="#f1f1f1"/><stop offset=".513" stop-color="#e7e7e7"/><stop offset=".526" stop-color="#cbcbcb"/><stop offset=".553" stop-color="#8c8c8c"/><stop offset=".572" stop-color="#696969"/><stop offset=".595" stop-color="#4f4f4f"/><stop offset=".625" stop-color="#3a3a3a"/><stop offset=".674" stop-color="#272727"/><stop offset=".789" stop-color="#0f0f0f"/><stop offset=".905" stop-color="#080808"/><stop offset="1" stop-color="#060606"/></linearGradient><linearGradient id="g220"><stop offset=".000" stop-color="#070707"/><stop offset=".188" stop-color="#0d0d0d"/><stop offset=".286" stop-color="#1e1e1e"/><stop offset=".355" stop-color="#323232"/><stop offset=".391" stop-color="#464646"/><stop offset=".418" stop-color="#5f5f5f"/><stop offset=".438" stop-color="#7c7c7c"/><stop offset=".457" stop-color="#a6a6a6"/><stop offset=".480" stop-color="#dedede"/><stop offset=".490" stop-color="#efefef"/><stop offset=".500" stop-color="#f6f6f6"/><stop offset=".510" stop-color="#efefef"/><stop offset=".520" stop-color="#dedede"/><stop offset=".553" stop-color="#8f8f8f"/><stop offset=".572" stop-color="#6c6c6c"/><stop offset=".595" stop-color="#515151"/><stop offset=".625" stop-color="#3c3c3c"/><stop offset=".674" stop-color="#282828"/><stop offset=".786" stop-color="#101010"/><stop offset=".891" stop-color="#090909"/><stop offset="1" stop-color="#070707"/></linearGradient><linearGradient id="g221"><stop offset=".000" stop-color="#070707"/><stop offset=".184" stop-color="#0d0d0d"/><stop offset=".283" stop-color="#1e1e1e"/><stop offset=".352" stop-color="#323232"/><stop offset=".388" stop-color="#464646"/><stop offset=".414" stop-color="#5e5e5e"/><stop offset=".434" stop-color="#7a7a7a"/><stop offset=".454" stop-color="#a2a2a2"/><stop offset=".480" stop-color="#e2e2e2"/><stop offset=".490" stop-color="#f4f4f4"/><stop offset=".500" stop-color="#fafafa"/><stop offset=".510" stop-color="#f4f4f4"/><stop offset=".520" stop-color="#e2e2e2"/><stop offset=".553" stop-color="#939393"/><stop offset=".572" stop-color="#6f6f6f"/><stop offset=".595" stop-color="#535353"/><stop offset=".625" stop-color="#3d3d3d"/><stop offset=".671" stop-color="#2a2a2a"/><stop offset=".780" stop-color="#121212"/><stop offset=".872" stop-color="#0a0a0a"/><stop offset="1" stop-color="#070707"/></linearGradient><linearGradient id="g222"><stop offset=".000" stop-color="#070707"/><stop offset=".181" stop-color="#0d0d0d"/><stop offset=".276" stop-color="#1e1e1e"/><stop offset=".349" stop-color="#333333"/><stop offset=".385" stop-color="#464646"/><stop offset=".411" stop-color="#5d5d5d"/><stop offset=".431" stop-color="#787878"/><stop offset=".451" stop-color="#9f9f9f"/><stop offset=".480" stop-color="#e7e7e7"/><stop offset=".490" stop-color="#f8f8f8"/><stop offset=".500" stop-color="#fefefe"/><stop offset=".510" stop-color="#f8f8f8"/><stop offset=".520" stop-color="#e7e7e7"/><stop offset=".553" stop-color="#989898"/><stop offset=".572" stop-color="#737373"/><stop offset=".595" stop-color="#565656"/><stop offset=".625" stop-color="#404040"/><stop offset=".671" stop-color="#2c2c2c"/><stop offset=".776" stop-color="#131313"/><stop offset=".865" stop-color="#0a0a0a"/><stop offset="1" stop-color="#070707"/></linearGradient><linearGradient id="g223"><stop offset=".000" stop-color="#070707"/><stop offset=".181" stop-color="#0e0e0e"/><stop offset=".276" stop-color="#1f1f1f"/><stop offset=".345" stop-color="#333333"/><stop offset=".385" stop-color="#484848"/><stop offset=".411" stop-color="#606060"/><stop offset=".431" stop-color="#7c7c7c"/><stop offset=".451" stop-color="#a4a4a4"/><stop offset=".480" stop-color="#ececec"/><stop offset=".490" stop-color="#fcfcfc"/><stop offset=".500" stop-color="#ffffff"/><stop offset=".510" stop-color="#fcfcfc"/><stop offset=".520" stop-color="#ececec"/><stop offset=".556" stop-color="#959595"/><stop offset=".576" stop-color="#727272"/><stop offset=".599" stop-color="#565656"/><stop offset=".628" stop-color="#404040"/><stop offset=".674" stop-color="#2c2c2c"/><stop offset=".776" stop-color="#141414"/><stop offset=".865" stop-color="#0b0b0b"/><stop offset="1" stop-color="#070707"/></linearGradient><linearGradient id="g224"><stop offset=".000" stop-color="#070707"/><stop offset=".178" stop-color="#0e0e0e"/><stop offset=".270" stop-color="#1e1e1e"/><stop offset=".342" stop-color="#333333"/><stop offset=".382" stop-color="#484848"/><stop offset=".408" stop-color="#606060"/><stop offset=".428" stop-color="#7b7b7b"/><stop offset=".447" stop-color="#a1a1a1"/><stop offset=".480" stop-color="#f0f0f0"/><stop offset=".487" stop-color="#fcfcfc"/><stop offset=".493" stop-color="#ffffff"/><stop offset=".510" stop-color="#ffffff"/><stop offset=".516" stop-color="#f6f6f6"/><stop offset=".533" stop-color="#d1d1d1"/><stop offset=".556" stop-color="#999999"/><stop offset=".576" stop-color="#757575"/><stop offset=".599" stop-color="#595959"/><stop offset=".628" stop-color="#424242"/><stop offset=".674" stop-color="#2d2d2d"/><stop offset=".773" stop-color="#151515"/><stop offset=".859" stop-color="#0b0b0b"/><stop offset="1" stop-color="#070707"/></linearGradient><linearGradient id="g225"><stop offset=".000" stop-color="#070707"/><stop offset=".178" stop-color="#0e0e0e"/><stop offset=".273" stop-color="#202020"/><stop offset=".342" stop-color="#343434"/><stop offset=".382" stop-color="#494949"/><stop offset=".408" stop-color="#626262"/><stop offset=".428" stop-color="#7d7d7d"/><stop offset=".447" stop-color="#a3a3a3"/><stop offset=".480" stop-color="#f3f3f3"/><stop offset=".487" stop-color="#ffffff"/><stop offset=".513" stop-color="#ffffff"/><stop offset=".523" stop-color="#ececec"/><stop offset=".556" stop-color="#9c9c9c"/><stop offset=".576" stop-color="#787878"/><stop offset=".599" stop-color="#5a5a5a"/><stop offset=".628" stop-color="#434343"/><stop offset=".674" stop-color="#2e2e2e"/><stop offset=".773" stop-color="#161616"/><stop offset=".859" stop-color="#0c0c0c"/><stop offset="1" stop-color="#070707"/></linearGradient><linearGradient id="g226"><stop offset=".000" stop-color="#070707"/><stop offset=".178" stop-color="#0e0e0e"/><stop offset=".273" stop-color="#202020"/><stop offset=".342" stop-color="#343434"/><stop offset=".382" stop-color="#4a4a4a"/><stop offset=".408" stop-color="#626262"/><stop offset=".428" stop-color="#7e7e7e"/><stop offset=".447" stop-color="#a4a4a4"/><stop offset=".480" stop-color="#f5f5f5"/><stop offset=".487" stop-color="#ffffff"/><stop offset=".513" stop-color="#ffffff"/><stop offset=".520" stop-color="#f5f5f5"/><stop offset=".556" stop-color="#9d9d9d"/><stop offset=".576" stop-color="#787878"/><stop offset=".599" stop-color="#5b5b5b"/><stop offset=".628" stop-color="#434343"/><stop offset=".674" stop-color="#2e2e2e"/><stop offset=".770" stop-color="#161616"/><stop offset=".855" stop-color="#0c0c0c"/><stop offset="1" stop-color="#070707"/></linearGradient><linearGradient id="g227"><stop offset=".000" stop-color="#070707"/><stop offset=".178" stop-color="#0e0e0e"/><stop offset=".270" stop-color="#1f1f1f"/><stop offset=".342" stop-color="#343434"/><stop offset=".382" stop-color="#4a4a4a"/><stop offset=".408" stop-color="#626262"/><stop offset=".428" stop-color="#7e7e7e"/><stop offset=".447" stop-color="#a5a5a5"/><stop offset=".480" stop-color="#f6f6f6"/><stop offset=".484" stop-color="#fcfcfc"/><stop offset=".490" stop-color="#ffffff"/><stop offset=".513" stop-color="#ffffff"/><stop offset=".516" stop-color="#fcfcfc"/><stop offset=".533" stop-color="#d6d6d6"/><stop offset=".556" stop-color="#9e9e9e"/><stop offset=".576" stop-color="#797979"/><stop offset=".599" stop-color="#5b5b5b"/><stop offset=".628" stop-color="#434343"/><stop offset=".674" stop-color="#2e2e2e"/><stop offset=".770" stop-color="#161616"/><stop offset=".855" stop-color="#0c0c0c"/><stop offset="1" stop-color="#070707"/></linearGradient><linearGradient id="g228"><stop offset=".000" stop-color="#070707"/><stop offset=".178" stop-color="#0e0e0e"/><stop offset=".266" stop-color="#1e1e1e"/><stop offset=".342" stop-color="#343434"/><stop offset=".382" stop-color="#4a4a4a"/><stop offset=".408" stop-color="#626262"/><stop offset=".428" stop-color="#7e7e7e"/><stop offset=".447" stop-color="#a4a4a4"/><stop offset=".480" stop-color="#f5f5f5"/><stop offset=".487" stop-color="#ffffff"/><stop offset=".513" stop-color="#ffffff"/><stop offset=".520" stop-color="#f5f5f5"/><stop offset=".556" stop-color="#9d9d9d"/><stop offset=".576" stop-color="#787878"/><stop offset=".599" stop-color="#5b5b5b"/><stop offset=".628" stop-color="#434343"/><stop offset=".674" stop-color="#2e2e2e"/><stop offset=".770" stop-color="#161616"/><stop offset=".852" stop-color="#0c0c0c"/><stop offset="1" stop-color="#070707"/></linearGradient><linearGradient id="g229"><stop offset=".000" stop-color="#070707"/><stop offset=".181" stop-color="#0e0e0e"/><stop offset=".270" stop-color="#1e1e1e"/><stop offset=".342" stop-color="#343434"/><stop offset=".382" stop-color="#494949"/><stop offset=".408" stop-color="#616161"/><stop offset=".428" stop-color="#7c7c7c"/><stop offset=".447" stop-color="#a2a2a2"/><stop offset=".480" stop-color="#f1f1f1"/><stop offset=".487" stop-color="#fdfdfd"/><stop offset=".513" stop-color="#fdfdfd"/><stop offset=".526" stop-color="#e3e3e3"/><stop offset=".556" stop-color="#9b9b9b"/><stop offset=".576" stop-color="#777777"/><stop offset=".599" stop-color="#5a5a5a"/><stop offset=".628" stop-color="#424242"/><stop offset=".674" stop-color="#2e2e2e"/><stop offset=".773" stop-color="#151515"/><stop offset=".859" stop-color="#0b0b0b"/><stop offset="1" stop-color="#070707"/></linearGradient><linearGradient id="g230"><stop offset=".000" stop-color="#070707"/><stop offset=".181" stop-color="#0e0e0e"/><stop offset=".270" stop-color="#1e1e1e"/><stop offset=".342" stop-color="#333333"/><stop offset=".382" stop-color="#484848"/><stop offset=".408" stop-color="#5f5f5f"/><stop offset=".428" stop-color="#7a7a7a"/><stop offset=".447" stop-color="#9f9f9f"/><stop offset=".480" stop-color="#ededed"/><stop offset=".490" stop-color="#fdfdfd"/><stop offset=".507" stop-color="#ffffff"/><stop offset=".513" stop-color="#f9f9f9"/><stop offset=".526" stop-color="#dedede"/><stop offset=".556" stop-color="#989898"/><stop offset=".576" stop-color="#757575"/><stop offset=".599" stop-color="#585858"/><stop offset=".628" stop-color="#414141"/><stop offset=".674" stop-color="#2d2d2d"/><stop offset=".773" stop-color="#151515"/><stop offset=".859" stop-color="#0b0b0b"/><stop offset="1" stop-color="#070707"/></linearGradient><linearGradient id="g231"><stop offset=".000" stop-color="#070707"/><stop offset=".184" stop-color="#0e0e0e"/><stop offset=".273" stop-color="#1e1e1e"/><stop offset=".345" stop-color="#333333"/><stop offset=".385" stop-color="#484848"/><stop offset=".411" stop-color="#616161"/><stop offset=".431" stop-color="#7c7c7c"/><stop offset=".451" stop-color="#a3a3a3"/><stop offset=".480" stop-color="#e9e9e9"/><stop offset=".490" stop-color="#f9f9f9"/><stop offset=".500" stop-color="#fefefe"/><stop offset=".510" stop-color="#f9f9f9"/><stop offset=".520" stop-color="#e9e9e9"/><stop offset=".556" stop-color="#959595"/><stop offset=".576" stop-color="#727272"/><stop offset=".599" stop-color="#565656"/><stop offset=".628" stop-color="#404040"/><stop offset=".674" stop-color="#2c2c2c"/><stop offset=".776" stop-color="#131313"/><stop offset=".865" stop-color="#0b0b0b"/><stop offset="1" stop-color="#070707"/></linearGradient><linearGradient id="g232"><stop offset=".000" stop-color="#070707"/><stop offset=".184" stop-color="#0e0e0e"/><stop offset=".273" stop-color="#1d1d1d"/><stop offset=".345" stop-color="#323232"/><stop offset=".385" stop-color="#474747"/><stop offset=".411" stop-color="#5f5f5f"/><stop offset=".431" stop-color="#797979"/><stop offset=".451" stop-color="#9f9f9f"/><stop offset=".480" stop-color="#e5e5e5"/><stop offset=".490" stop-color="#f5f5f5"/><stop offset=".500" stop-color="#fafafa"/><stop offset=".510" stop-color="#f5f5f5"/><stop offset=".520" stop-color="#e5e5e5"/><stop offset=".556" stop-color="#929292"/><stop offset=".576" stop-color="#6f6f6f"/><stop offset=".599" stop-color="#545454"/><stop offset=".628" stop-color="#3f3f3f"/><stop offset=".678" stop-color="#2a2a2a"/><stop offset=".783" stop-color="#121212"/><stop offset=".882" stop-color="#0a0a0a"/><stop offset="1" stop-color="#070707"/></linearGradient><linearGradient id="g233"><stop offset=".000" stop-color="#070707"/><stop offset=".188" stop-color="#0e0e0e"/><stop offset=".273" stop-color="#1c1c1c"/><stop offset=".349" stop-color="#323232"/><stop offset=".388" stop-color="#484848"/><stop offset=".414" stop-color="#606060"/><stop offset=".434" stop-color="#7c7c7c"/><stop offset=".454" stop-color="#a3a3a3"/><stop offset=".480" stop-color="#e0e0e0"/><stop offset=".490" stop-color="#f0f0f0"/><stop offset=".500" stop-color="#f6f6f6"/><stop offset=".510" stop-color="#f0f0f0"/><stop offset=".520" stop-color="#e0e0e0"/><stop offset=".556" stop-color="#8e8e8e"/><stop offset=".576" stop-color="#6d6d6d"/><stop offset=".599" stop-color="#525252"/><stop offset=".632" stop-color="#3b3b3b"/><stop offset=".684" stop-color="#272727"/><stop offset=".786" stop-color="#111111"/><stop offset=".898" stop-color="#090909"/><stop offset="1" stop-color="#070707"/></linearGradient><linearGradient id="g234"><stop offset=".000" stop-color="#070707"/><stop offset=".191" stop-color="#0d0d0d"/><stop offset=".276" stop-color="#1c1c1c"/><stop offset=".352" stop-color="#323232"/><stop offset=".388" stop-color="#464646"/><stop offset=".414" stop-color="#5d5d5d"/><stop offset=".434" stop-color="#797979"/><stop offset=".454" stop-color="#9f9f9f"/><stop offset=".480" stop-color="#dbdbdb"/><stop offset=".490" stop-color="#ebebeb"/><stop offset=".500" stop-color="#f1f1f1"/><stop offset=".510" stop-color="#ebebeb"/><stop offset=".520" stop-color="#dbdbdb"/><stop offset=".556" stop-color="#8a8a8a"/><stop offset=".576" stop-color="#6a6a6a"/><stop offset=".599" stop-color="#505050"/><stop offset=".632" stop-color="#3a3a3a"/><stop offset=".684" stop-color="#262626"/><stop offset=".786" stop-color="#101010"/><stop offset=".911" stop-color="#080808"/><stop offset="1" stop-color="#070707"/></linearGradient><linearGradient id="g235"><stop offset=".000" stop-color="#070707"/><stop offset=".194" stop-color="#0d0d0d"/><stop offset=".276" stop-color="#1b1b1b"/><stop offset=".352" stop-color="#313131"/><stop offset=".391" stop-color="#464646"/><stop offset=".418" stop-color="#5f5f5f"/><stop offset=".438" stop-color="#7b7b7b"/><stop offset=".457" stop-color="#a2a2a2"/><stop offset=".480" stop-color="#d6d6d6"/><stop offset=".490" stop-color="#e5e5e5"/><stop offset=".500" stop-color="#ebebeb"/><stop offset=".510" stop-color="#e5e5e5"/><stop offset=".520" stop-color="#d6d6d6"/><stop offset=".556" stop-color="#878787"/><stop offset=".576" stop-color="#676767"/><stop offset=".599" stop-color="#4e4e4e"/><stop offset=".632" stop-color="#383838"/><stop offset=".688" stop-color="#242424"/><stop offset=".786" stop-color="#0f0f0f"/><stop offset=".924" stop-color="#080808"/><stop offset="1" stop-color="#070707"/></linearGradient><linearGradient id="g236"><stop offset=".000" stop-color="#070707"/><stop offset=".197" stop-color="#0d0d0d"/><stop offset=".276" stop-color="#1a1a1a"/><stop offset=".355" stop-color="#313131"/><stop offset=".391" stop-color="#444444"/><stop offset=".418" stop-color="#5c5c5c"/><stop offset=".438" stop-color="#777777"/><stop offset=".457" stop-color="#9d9d9d"/><stop offset=".480" stop-color="#d0d0d0"/><stop offset=".490" stop-color="#dfdfdf"/><stop offset=".500" stop-color="#e5e5e5"/><stop offset=".510" stop-color="#dfdfdf"/><stop offset=".523" stop-color="#cacaca"/><stop offset=".553" stop-color="#898989"/><stop offset=".572" stop-color="#686868"/><stop offset=".595" stop-color="#4e4e4e"/><stop offset=".628" stop-color="#383838"/><stop offset=".684" stop-color="#242424"/><stop offset=".780" stop-color="#101010"/><stop offset=".911" stop-color="#080808"/><stop offset="1" stop-color="#070707"/></linearGradient><linearGradient id="g237"><stop offset=".000" stop-color="#060606"/><stop offset=".204" stop-color="#0d0d0d"/><stop offset=".283" stop-color="#1b1b1b"/><stop offset=".359" stop-color="#313131"/><stop offset=".395" stop-color="#444444"/><stop offset=".421" stop-color="#5c5c5c"/><stop offset=".441" stop-color="#797979"/><stop offset=".461" stop-color="#a0a0a0"/><stop offset=".484" stop-color="#d0d0d0"/><stop offset=".493" stop-color="#dcdcdc"/><stop offset=".503" stop-color="#dedede"/><stop offset=".513" stop-color="#d5d5d5"/><stop offset=".526" stop-color="#bdbdbd"/><stop offset=".553" stop-color="#848484"/><stop offset=".572" stop-color="#656565"/><stop offset=".595" stop-color="#4c4c4c"/><stop offset=".628" stop-color="#373737"/><stop offset=".688" stop-color="#222222"/><stop offset=".780" stop-color="#0f0f0f"/><stop offset=".928" stop-color="#080808"/><stop offset="1" stop-color="#060606"/></linearGradient><linearGradient id="g238"><stop offset=".000" stop-color="#060606"/><stop offset=".207" stop-color="#0d0d0d"/><stop offset=".286" stop-color="#1a1a1a"/><stop offset=".362" stop-color="#313131"/><stop offset=".398" stop-color="#444444"/><stop offset=".424" stop-color="#5d5d5d"/><stop offset=".444" stop-color="#7a7a7a"/><stop offset=".470" stop-color="#b0b0b0"/><stop offset=".484" stop-color="#cacaca"/><stop offset=".493" stop-color="#d6d6d6"/><stop offset=".503" stop-color="#d8d8d8"/><stop offset=".513" stop-color="#cfcfcf"/><stop offset=".526" stop-color="#b7b7b7"/><stop offset=".553" stop-color="#808080"/><stop offset=".572" stop-color="#616161"/><stop offset=".595" stop-color="#494949"/><stop offset=".628" stop-color="#353535"/><stop offset=".691" stop-color="#202020"/><stop offset=".780" stop-color="#0e0e0e"/><stop offset=".944" stop-color="#070707"/><stop offset="1" stop-color="#060606"/></linearGradient><linearGradient id="g239"><stop offset=".000" stop-color="#060606"/><stop offset=".211" stop-color="#0d0d0d"/><stop offset=".286" stop-color="#191919"/><stop offset=".365" stop-color="#303030"/><stop offset=".401" stop-color="#444444"/><stop offset=".424" stop-color="#5a5a5a"/><stop offset=".444" stop-color="#767676"/><stop offset=".470" stop-color="#aaaaaa"/><stop offset=".487" stop-color="#c8c8c8"/><stop offset=".497" stop-color="#d1d1d1"/><stop offset=".507" stop-color="#cfcfcf"/><stop offset=".516" stop-color="#c3c3c3"/><stop offset=".556" stop-color="#767676"/><stop offset=".576" stop-color="#5a5a5a"/><stop offset=".602" stop-color="#424242"/><stop offset=".641" stop-color="#2e2e2e"/><stop offset=".730" stop-color="#161616"/><stop offset=".806" stop-color="#0c0c0c"/><stop offset="1" stop-color="#060606"/></linearGradient><linearGradient id="g240"><stop offset=".000" stop-color="#060606"/><stop offset=".214" stop-color="#0d0d0d"/><stop offset=".289" stop-color="#191919"/><stop offset=".365" stop-color="#2f2f2f"/><stop offset=".401" stop-color="#424242"/><stop offset=".428" stop-color="#5b5b5b"/><stop offset=".447" stop-color="#787878"/><stop offset=".484" stop-color="#bebebe"/><stop offset=".493" stop-color="#cacaca"/><stop offset=".503" stop-color="#cccccc"/><stop offset=".513" stop-color="#c3c3c3"/><stop offset=".530" stop-color="#a5a5a5"/><stop offset=".556" stop-color="#727272"/><stop offset=".576" stop-color="#575757"/><stop offset=".602" stop-color="#404040"/><stop offset=".641" stop-color="#2d2d2d"/><stop offset=".737" stop-color="#141414"/><stop offset=".816" stop-color="#0b0b0b"/><stop offset="1" stop-color="#060606"/></linearGradient><linearGradient id="g241"><stop offset=".000" stop-color="#060606"/><stop offset=".214" stop-color="#0c0c0c"/><stop offset=".289" stop-color="#191919"/><stop offset=".368" stop-color="#303030"/><stop offset=".405" stop-color="#444444"/><stop offset=".428" stop-color="#595959"/><stop offset=".447" stop-color="#767676"/><stop offset=".484" stop-color="#bbbbbb"/><stop offset=".493" stop-color="#c6c6c6"/><stop offset=".503" stop-color="#c8c8c8"/><stop offset=".513" stop-color="#c0c0c0"/><stop offset=".530" stop-color="#a2a2a2"/><stop offset=".556" stop-color="#707070"/><stop offset=".576" stop-color="#565656"/><stop offset=".602" stop-color="#3f3f3f"/><stop offset=".641" stop-color="#2c2c2c"/><stop offset=".737" stop-color="#131313"/><stop offset=".819" stop-color="#0a0a0a"/><stop offset="1" stop-color="#060606"/></linearGradient><linearGradient id="g242"><stop offset=".000" stop-color="#060606"/><stop offset=".217" stop-color="#0c0c0c"/><stop offset=".289" stop-color="#181818"/><stop offset=".368" stop-color="#2f2f2f"/><stop offset=".405" stop-color="#424242"/><stop offset=".428" stop-color="#585858"/><stop offset=".447" stop-color="#737373"/><stop offset=".484" stop-color="#b7b7b7"/><stop offset=".493" stop-color="#c3c3c3"/><stop offset=".503" stop-color="#c4c4c4"/><stop offset=".513" stop-color="#bcbcbc"/><stop offset=".530" stop-color="#9f9f9f"/><stop offset=".556" stop-color="#6e6e6e"/><stop offset=".576" stop-color="#545454"/><stop offset=".602" stop-color="#3e3e3e"/><stop offset=".641" stop-color="#2b2b2b"/><stop offset=".740" stop-color="#121212"/><stop offset=".829" stop-color="#0a0a0a"/><stop offset="1" stop-color="#060606"/></linearGradient><linearGradient id="g243"><stop offset=".000" stop-color="#060606"/><stop offset=".217" stop-color="#0c0c0c"/><stop offset=".289" stop-color="#181818"/><stop offset=".368" stop-color="#2e2e2e"/><stop offset=".405" stop-color="#414141"/><stop offset=".428" stop-color="#565656"/><stop offset=".447" stop-color="#717171"/><stop offset=".484" stop-color="#b4b4b4"/><stop offset=".493" stop-color="#bfbfbf"/><stop offset=".503" stop-color="#c1c1c1"/><stop offset=".513" stop-color="#b8b8b8"/><stop offset=".530" stop-color="#9c9c9c"/><stop offset=".556" stop-color="#6c6c6c"/><stop offset=".579" stop-color="#4f4f4f"/><stop offset=".609" stop-color="#393939"/><stop offset=".655" stop-color="#262626"/><stop offset=".750" stop-color="#101010"/><stop offset=".868" stop-color="#080808"/><stop offset="1" stop-color="#060606"/></linearGradient><linearGradient id="g244"><stop offset=".000" stop-color="#060606"/><stop offset=".220" stop-color="#0c0c0c"/><stop offset=".293" stop-color="#181818"/><stop offset=".372" stop-color="#2e2e2e"/><stop offset=".408" stop-color="#424242"/><stop offset=".431" stop-color="#585858"/><stop offset=".451" stop-color="#747474"/><stop offset=".484" stop-color="#b0b0b0"/><stop offset=".493" stop-color="#bbbbbb"/><stop offset=".503" stop-color="#bdbdbd"/><stop offset=".513" stop-color="#b5b5b5"/><stop offset=".530" stop-color="#999999"/><stop offset=".556" stop-color="#696969"/><stop offset=".579" stop-color="#4d4d4d"/><stop offset=".609" stop-color="#373737"/><stop offset=".658" stop-color="#242424"/><stop offset=".753" stop-color="#0f0f0f"/><stop offset=".891" stop-color="#070707"/><stop offset="1" stop-color="#060606"/></linearGradient><linearGradient id="g245"><stop offset=".000" stop-color="#060606"/><stop offset=".220" stop-color="#0c0c0c"/><stop offset=".293" stop-color="#171717"/><stop offset=".372" stop-color="#2d2d2d"/><stop offset=".408" stop-color="#414141"/><stop offset=".431" stop-color="#565656"/><stop offset=".451" stop-color="#717171"/><stop offset=".484" stop-color="#adadad"/><stop offset=".493" stop-color="#b8b8b8"/><stop offset=".503" stop-color="#b9b9b9"/><stop offset=".513" stop-color="#b1b1b1"/><stop offset=".530" stop-color="#969696"/><stop offset=".556" stop-color="#676767"/><stop offset=".579" stop-color="#4c4c4c"/><stop offset=".609" stop-color="#363636"/><stop offset=".658" stop-color="#242424"/><stop offset=".750" stop-color="#0f0f0f"/><stop offset=".885" stop-color="#070707"/><stop offset="1" stop-color="#060606"/></linearGradient><linearGradient id="g246"><stop offset=".000" stop-color="#060606"/><stop offset=".224" stop-color="#0c0c0c"/><stop offset=".296" stop-color="#171717"/><stop offset=".375" stop-color="#2e2e2e"/><stop offset=".411" stop-color="#424242"/><stop offset=".434" stop-color="#585858"/><stop offset=".454" stop-color="#747474"/><stop offset=".484" stop-color="#a9a9a9"/><stop offset=".493" stop-color="#b4b4b4"/><stop offset=".503" stop-color="#b6b6b6"/><stop offset=".513" stop-color="#aeaeae"/><stop offset=".533" stop-color="#8c8c8c"/><stop offset=".556" stop-color="#656565"/><stop offset=".579" stop-color="#4a4a4a"/><stop offset=".609" stop-color="#353535"/><stop offset=".661" stop-color="#222222"/><stop offset=".750" stop-color="#0f0f0f"/><stop offset=".895" stop-color="#070707"/><stop offset="1" stop-color="#060606"/></linearGradient><linearGradient id="g247"><stop offset=".000" stop-color="#060606"/><stop offset=".227" stop-color="#0c0c0c"/><stop offset=".296" stop-color="#171717"/><stop offset=".375" stop-color="#2d2d2d"/><stop offset=".411" stop-color="#404040"/><stop offset=".434" stop-color="#565656"/><stop offset=".454" stop-color="#727272"/><stop offset=".484" stop-color="#a6a6a6"/><stop offset=".493" stop-color="#b0b0b0"/><stop offset=".503" stop-color="#b2b2b2"/><stop offset=".513" stop-color="#aaaaaa"/><stop offset=".533" stop-color="#898989"/><stop offset=".556" stop-color="#636363"/><stop offset=".579" stop-color="#484848"/><stop offset=".609" stop-color="#343434"/><stop offset=".661" stop-color="#212121"/><stop offset=".750" stop-color="#0e0e0e"/><stop offset=".905" stop-color="#070707"/><stop offset="1" stop-color="#060606"/></linearGradient><linearGradient id="g248"><stop offset=".000" stop-color="#060606"/><stop offset=".227" stop-color="#0c0c0c"/><stop offset=".296" stop-color="#161616"/><stop offset=".378" stop-color="#2d2d2d"/><stop offset=".411" stop-color="#3f3f3f"/><stop offset=".434" stop-color="#545454"/><stop offset=".457" stop-color="#757575"/><stop offset=".484" stop-color="#a2a2a2"/><stop offset=".493" stop-color="#adadad"/><stop offset=".503" stop-color="#aeaeae"/><stop offset=".513" stop-color="#a6a6a6"/><stop offset=".533" stop-color="#868686"/><stop offset=".556" stop-color="#606060"/><stop offset=".579" stop-color="#474747"/><stop offset=".609" stop-color="#333333"/><stop offset=".664" stop-color="#202020"/><stop offset=".750" stop-color="#0e0e0e"/><stop offset=".914" stop-color="#070707"/><stop offset="1" stop-color="#060606"/></linearGradient><linearGradient id="g249"><stop offset=".000" stop-color="#050505"/><stop offset=".230" stop-color="#0c0c0c"/><stop offset=".299" stop-color="#161616"/><stop offset=".378" stop-color="#2c2c2c"/><stop offset=".414" stop-color="#404040"/><stop offset=".438" stop-color="#565656"/><stop offset=".461" stop-color="#787878"/><stop offset=".484" stop-color="#9f9f9f"/><stop offset=".493" stop-color="#a9a9a9"/><stop offset=".503" stop-color="#aaaaaa"/><stop offset=".513" stop-color="#a3a3a3"/><stop offset=".533" stop-color="#838383"/><stop offset=".556" stop-color="#5e5e5e"/><stop offset=".579" stop-color="#454545"/><stop offset=".609" stop-color="#323232"/><stop offset=".664" stop-color="#1f1f1f"/><stop offset=".747" stop-color="#0e0e0e"/><stop offset=".911" stop-color="#070707"/><stop offset="1" stop-color="#050505"/></linearGradient><linearGradient id="g250"><stop offset=".000" stop-color="#050505"/><stop offset=".234" stop-color="#0c0c0c"/><stop offset=".303" stop-color="#161616"/><stop offset=".382" stop-color="#2d2d2d"/><stop offset=".414" stop-color="#3e3e3e"/><stop offset=".438" stop-color="#545454"/><stop offset=".461" stop-color="#757575"/><stop offset=".484" stop-color="#9b9b9b"/><stop offset=".493" stop-color="#a5a5a5"/><stop offset=".503" stop-color="#a7a7a7"/><stop offset=".513" stop-color="#9f9f9f"/><stop offset=".533" stop-color="#808080"/><stop offset=".556" stop-color="#5c5c5c"/><stop offset=".579" stop-color="#444444"/><stop offset=".612" stop-color="#2f2f2f"/><stop offset=".678" stop-color="#1b1b1b"/><stop offset=".753" stop-color="#0d0d0d"/><stop offset=".947" stop-color="#060606"/><stop offset="1" stop-color="#050505"/></linearGradient><linearGradient id="g251"><stop offset=".000" stop-color="#050505"/><stop offset=".234" stop-color="#0b0b0b"/><stop offset=".303" stop-color="#161616"/><stop offset=".382" stop-color="#2c2c2c"/><stop offset=".414" stop-color="#3d3d3d"/><stop offset=".438" stop-color="#525252"/><stop offset=".461" stop-color="#727272"/><stop offset=".484" stop-color="#979797"/><stop offset=".493" stop-color="#a1a1a1"/><stop offset=".503" stop-color="#a3a3a3"/><stop offset=".513" stop-color="#9c9c9c"/><stop offset=".536" stop-color="#777777"/><stop offset=".559" stop-color="#565656"/><stop offset=".582" stop-color="#3f3f3f"/><stop offset=".615" stop-color="#2d2d2d"/><stop offset=".694" stop-color="#161616"/><stop offset=".763" stop-color="#0c0c0c"/><stop offset=".997" stop-color="#050505"/><stop offset="1" stop-color="#050505"/></linearGradient><linearGradient id="g252"><stop offset=".000" stop-color="#050505"/><stop offset=".237" stop-color="#0b0b0b"/><stop offset=".306" stop-color="#161616"/><stop offset=".385" stop-color="#2c2c2c"/><stop offset=".418" stop-color="#3e3e3e"/><stop offset=".441" stop-color="#545454"/><stop offset=".464" stop-color="#757575"/><stop offset=".487" stop-color="#989898"/><stop offset=".497" stop-color="#9f9f9f"/><stop offset=".507" stop-color="#9e9e9e"/><stop offset=".520" stop-color="#8f8f8f"/><stop offset=".553" stop-color="#5c5c5c"/><stop offset=".576" stop-color="#434343"/><stop offset=".605" stop-color="#303030"/><stop offset=".664" stop-color="#1d1d1d"/><stop offset=".743" stop-color="#0d0d0d"/><stop offset=".924" stop-color="#060606"/><stop offset="1" stop-color="#050505"/></linearGradient><linearGradient id="g253"><stop offset=".000" stop-color="#050505"/><stop offset=".240" stop-color="#0b0b0b"/><stop offset=".309" stop-color="#161616"/><stop offset=".388" stop-color="#2c2c2c"/><stop offset=".421" stop-color="#3f3f3f"/><stop offset=".444" stop-color="#555555"/><stop offset=".470" stop-color="#7c7c7c"/><stop offset=".487" stop-color="#949494"/><stop offset=".497" stop-color="#9b9b9b"/><stop offset=".507" stop-color="#9a9a9a"/><stop offset=".520" stop-color="#8c8c8c"/><stop offset=".553" stop-color="#5a5a5a"/><stop offset=".576" stop-color="#414141"/><stop offset=".609" stop-color="#2e2e2e"/><stop offset=".681" stop-color="#181818"/><stop offset=".750" stop-color="#0c0c0c"/><stop offset=".961" stop-color="#060606"/><stop offset="1" stop-color="#050505"/></linearGradient><linearGradient id="g254"><stop offset=".000" stop-color="#050505"/><stop offset=".240" stop-color="#0b0b0b"/><stop offset=".306" stop-color="#151515"/><stop offset=".388" stop-color="#2b2b2b"/><stop offset=".421" stop-color="#3d3d3d"/><stop offset=".444" stop-color="#535353"/><stop offset=".470" stop-color="#797979"/><stop offset=".487" stop-color="#919191"/><stop offset=".497" stop-color="#989898"/><stop offset=".507" stop-color="#969696"/><stop offset=".520" stop-color="#888888"/><stop offset=".553" stop-color="#575757"/><stop offset=".576" stop-color="#404040"/><stop offset=".609" stop-color="#2d2d2d"/><stop offset=".684" stop-color="#171717"/><stop offset=".753" stop-color="#0c0c0c"/><stop offset=".984" stop-color="#050505"/><stop offset="1" stop-color="#050505"/></linearGradient><linearGradient id="g255"><stop offset=".000" stop-color="#050505"/><stop offset=".243" stop-color="#0b0b0b"/><stop offset=".309" stop-color="#151515"/><stop offset=".391" stop-color="#2c2c2c"/><stop offset=".424" stop-color="#3e3e3e"/><stop offset=".447" stop-color="#555555"/><stop offset=".487" stop-color="#8d8d8d"/><stop offset=".497" stop-color="#949494"/><stop offset=".507" stop-color="#939393"/><stop offset=".520" stop-color="#858585"/><stop offset=".553" stop-color="#555555"/><stop offset=".576" stop-color="#3e3e3e"/><stop offset=".609" stop-color="#2c2c2c"/><stop offset=".691" stop-color="#151515"/><stop offset=".757" stop-color="#0b0b0b"/><stop offset="1" stop-color="#050505"/></linearGradient><linearGradient id="g256"><stop offset=".000" stop-color="#050505"/><stop offset=".247" stop-color="#0b0b0b"/><stop offset=".312" stop-color="#151515"/><stop offset=".391" stop-color="#2b2b2b"/><stop offset=".424" stop-color="#3d3d3d"/><stop offset=".447" stop-color="#535353"/><stop offset=".487" stop-color="#8a8a8a"/><stop offset=".497" stop-color="#909090"/><stop offset=".507" stop-color="#8f8f8f"/><stop offset=".520" stop-color="#828282"/><stop offset=".553" stop-color="#535353"/><stop offset=".576" stop-color="#3d3d3d"/><stop offset=".609" stop-color="#2b2b2b"/><stop offset=".697" stop-color="#131313"/><stop offset=".766" stop-color="#0a0a0a"/><stop offset="1" stop-color="#050505"/></linearGradient><linearGradient id="g257"><stop offset=".000" stop-color="#050505"/><stop offset=".247" stop-color="#0b0b0b"/><stop offset=".312" stop-color="#141414"/><stop offset=".395" stop-color="#2b2b2b"/><stop offset=".428" stop-color="#3e3e3e"/><stop offset=".451" stop-color="#555555"/><stop offset=".487" stop-color="#868686"/><stop offset=".497" stop-color="#8d8d8d"/><stop offset=".507" stop-color="#8b8b8b"/><stop offset=".520" stop-color="#7e7e7e"/><stop offset=".553" stop-color="#515151"/><stop offset=".576" stop-color="#3b3b3b"/><stop offset=".609" stop-color="#2a2a2a"/><stop offset=".701" stop-color="#111111"/><stop offset=".776" stop-color="#0a0a0a"/><stop offset="1" stop-color="#050505"/></linearGradient><linearGradient id="g258"><stop offset=".000" stop-color="#050505"/><stop offset=".250" stop-color="#0b0b0b"/><stop offset=".316" stop-color="#141414"/><stop offset=".395" stop-color="#2a2a2a"/><stop offset=".428" stop-color="#3c3c3c"/><stop offset=".451" stop-color="#525252"/><stop offset=".487" stop-color="#838383"/><stop offset=".497" stop-color="#898989"/><stop offset=".507" stop-color="#888888"/><stop offset=".520" stop-color="#7b7b7b"/><stop offset=".553" stop-color="#4e4e4e"/><stop offset=".579" stop-color="#373737"/><stop offset=".615" stop-color="#262626"/><stop offset=".714" stop-color="#0e0e0e"/><stop offset=".839" stop-color="#070707"/><stop offset="1" stop-color="#050505"/></linearGradient><linearGradient id="g259"><stop offset=".000" stop-color="#050505"/><stop offset=".253" stop-color="#0b0b0b"/><stop offset=".319" stop-color="#141414"/><stop offset=".398" stop-color="#2a2a2a"/><stop offset=".431" stop-color="#3d3d3d"/><stop offset=".454" stop-color="#545454"/><stop offset=".487" stop-color="#7f7f7f"/><stop offset=".497" stop-color="#858585"/><stop offset=".507" stop-color="#848484"/><stop offset=".520" stop-color="#787878"/><stop offset=".553" stop-color="#4c4c4c"/><stop offset=".579" stop-color="#363636"/><stop offset=".618" stop-color="#242424"/><stop offset=".714" stop-color="#0e0e0e"/><stop offset=".855" stop-color="#070707"/><stop offset="1" stop-color="#050505"/></linearGradient><linearGradient id="g260"><stop offset=".000" stop-color="#050505"/><stop offset=".257" stop-color="#0b0b0b"/><stop offset=".319" stop-color="#131313"/><stop offset=".401" stop-color="#2b2b2b"/><stop offset=".431" stop-color="#3b3b3b"/><stop offset=".454" stop-color="#525252"/><stop offset=".487" stop-color="#7c7c7c"/><stop offset=".500" stop-color="#828282"/><stop offset=".513" stop-color="#7c7c7c"/><stop offset=".556" stop-color="#474747"/><stop offset=".582" stop-color="#333333"/><stop offset=".625" stop-color="#222222"/><stop offset=".714" stop-color="#0d0d0d"/><stop offset=".872" stop-color="#060606"/><stop offset="1" stop-color="#050505"/></linearGradient><linearGradient id="g261"><stop offset=".000" stop-color="#050505"/><stop offset=".260" stop-color="#0a0a0a"/><stop offset=".322" stop-color="#131313"/><stop offset=".401" stop-color="#292929"/><stop offset=".434" stop-color="#3b3b3b"/><stop offset=".457" stop-color="#525252"/><stop offset=".487" stop-color="#777777"/><stop offset=".500" stop-color="#7d7d7d"/><stop offset=".513" stop-color="#777777"/><stop offset=".556" stop-color="#444444"/><stop offset=".582" stop-color="#313131"/><stop offset=".628" stop-color="#1f1f1f"/><stop offset=".711" stop-color="#0d0d0d"/><stop offset=".882" stop-color="#060606"/><stop offset="1" stop-color="#050505"/></linearGradient><linearGradient id="g262"><stop offset=".000" stop-color="#050505"/><stop offset=".266" stop-color="#0a0a0a"/><stop offset=".329" stop-color="#131313"/><stop offset=".408" stop-color="#2a2a2a"/><stop offset=".438" stop-color="#3b3b3b"/><stop offset=".464" stop-color="#555555"/><stop offset=".487" stop-color="#707070"/><stop offset=".500" stop-color="#767676"/><stop offset=".513" stop-color="#707070"/><stop offset=".556" stop-color="#404040"/><stop offset=".586" stop-color="#2d2d2d"/><stop offset=".645" stop-color="#191919"/><stop offset=".711" stop-color="#0c0c0c"/><stop offset=".911" stop-color="#050505"/><stop offset="1" stop-color="#050505"/></linearGradient><linearGradient id="g263"><stop offset=".000" stop-color="#050505"/><stop offset=".270" stop-color="#0a0a0a"/><stop offset=".332" stop-color="#121212"/><stop offset=".411" stop-color="#292929"/><stop offset=".441" stop-color="#3a3a3a"/><stop offset=".467" stop-color="#545454"/><stop offset=".490" stop-color="#6c6c6c"/><stop offset=".503" stop-color="#6f6f6f"/><stop offset=".516" stop-color="#676767"/><stop offset=".556" stop-color="#3d3d3d"/><stop offset=".586" stop-color="#2a2a2a"/><stop offset=".661" stop-color="#131313"/><stop offset=".720" stop-color="#0b0b0b"/><stop offset=".974" stop-color="#050505"/><stop offset="1" stop-color="#050505"/></linearGradient><linearGradient id="g264"><stop offset=".000" stop-color="#050505"/><stop offset=".276" stop-color="#0a0a0a"/><stop offset=".336" stop-color="#111111"/><stop offset=".414" stop-color="#282828"/><stop offset=".444" stop-color="#393939"/><stop offset=".490" stop-color="#666666"/><stop offset=".503" stop-color="#686868"/><stop offset=".516" stop-color="#616161"/><stop offset=".556" stop-color="#393939"/><stop offset=".589" stop-color="#272727"/><stop offset=".678" stop-color="#0e0e0e"/><stop offset=".789" stop-color="#070707"/><stop offset="1" stop-color="#050505"/></linearGradient><linearGradient id="g265"><stop offset=".000" stop-color="#050505"/><stop offset=".283" stop-color="#0a0a0a"/><stop offset=".342" stop-color="#111111"/><stop offset=".421" stop-color="#292929"/><stop offset=".451" stop-color="#3b3b3b"/><stop offset=".490" stop-color="#606060"/><stop offset=".503" stop-color="#626262"/><stop offset=".520" stop-color="#585858"/><stop offset=".556" stop-color="#363636"/><stop offset=".589" stop-color="#252525"/><stop offset=".674" stop-color="#0e0e0e"/><stop offset=".812" stop-color="#060606"/><stop offset="1" stop-color="#050505"/></linearGradient><linearGradient id="g266"><stop offset=".000" stop-color="#040404"/><stop offset=".289" stop-color="#0a0a0a"/><stop offset=".349" stop-color="#111111"/><stop offset=".424" stop-color="#282828"/><stop offset=".454" stop-color="#3a3a3a"/><stop offset=".490" stop-color="#5a5a5a"/><stop offset=".503" stop-color="#5c5c5c"/><stop offset=".520" stop-color="#525252"/><stop offset=".556" stop-color="#333333"/><stop offset=".592" stop-color="#222222"/><stop offset=".671" stop-color="#0d0d0d"/><stop offset=".836" stop-color="#060606"/><stop offset="1" stop-color="#040404"/></linearGradient><linearGradient id="g267"><stop offset=".000" stop-color="#040404"/><stop offset=".296" stop-color="#090909"/><stop offset=".355" stop-color="#101010"/><stop offset=".431" stop-color="#282828"/><stop offset=".461" stop-color="#3c3c3c"/><stop offset=".490" stop-color="#545454"/><stop offset=".503" stop-color="#565656"/><stop offset=".520" stop-color="#4d4d4d"/><stop offset=".556" stop-color="#303030"/><stop offset=".595" stop-color="#1f1f1f"/><stop offset=".664" stop-color="#0d0d0d"/><stop offset=".832" stop-color="#060606"/><stop offset="1" stop-color="#040404"/></linearGradient><linearGradient id="g268"><stop offset=".000" stop-color="#040404"/><stop offset=".303" stop-color="#090909"/><stop offset=".359" stop-color="#0f0f0f"/><stop offset=".434" stop-color="#282828"/><stop offset=".464" stop-color="#3a3a3a"/><stop offset=".490" stop-color="#4f4f4f"/><stop offset=".503" stop-color="#515151"/><stop offset=".520" stop-color="#484848"/><stop offset=".556" stop-color="#2d2d2d"/><stop offset=".602" stop-color="#1b1b1b"/><stop offset=".661" stop-color="#0c0c0c"/><stop offset=".852" stop-color="#050505"/><stop offset="1" stop-color="#040404"/></linearGradient><linearGradient id="g269"><stop offset=".000" stop-color="#040404"/><stop offset=".309" stop-color="#090909"/><stop offset=".365" stop-color="#0f0f0f"/><stop offset=".441" stop-color="#282828"/><stop offset=".477" stop-color="#414141"/><stop offset=".497" stop-color="#4c4c4c"/><stop offset=".513" stop-color="#484848"/><stop offset=".559" stop-color="#282828"/><stop offset=".635" stop-color="#0f0f0f"/><stop offset=".701" stop-color="#090909"/><stop offset="1" stop-color="#040404"/></linearGradient><linearGradient id="g270"><stop offset=".000" stop-color="#040404"/><stop offset=".316" stop-color="#090909"/><stop offset=".372" stop-color="#0f0f0f"/><stop offset=".444" stop-color="#282828"/><stop offset=".493" stop-color="#464646"/><stop offset=".510" stop-color="#454545"/><stop offset=".559" stop-color="#262626"/><stop offset=".638" stop-color="#0d0d0d"/><stop offset=".780" stop-color="#060606"/><stop offset="1" stop-color="#040404"/></linearGradient><linearGradient id="g271"><stop offset=".000" stop-color="#040404"/><stop offset=".322" stop-color="#090909"/><stop offset=".378" stop-color="#0f0f0f"/><stop offset=".451" stop-color="#282828"/><stop offset=".493" stop-color="#414141"/><stop offset=".510" stop-color="#404040"/><stop offset=".559" stop-color="#242424"/><stop offset=".632" stop-color="#0c0c0c"/><stop offset=".776" stop-color="#060606"/><stop offset="1" stop-color="#040404"/></linearGradient><linearGradient id="g272"><stop offset=".000" stop-color="#040404"/><stop offset=".329" stop-color="#090909"/><stop offset=".385" stop-color="#0f0f0f"/><stop offset=".454" stop-color="#272727"/><stop offset=".493" stop-color="#3d3d3d"/><stop offset=".510" stop-color="#3c3c3c"/><stop offset=".562" stop-color="#202020"/><stop offset=".628" stop-color="#0c0c0c"/><stop offset=".793" stop-color="#050505"/><stop offset="1" stop-color="#040404"/></linearGradient><linearGradient id="g273"><stop offset=".000" stop-color="#040404"/><stop offset=".336" stop-color="#080808"/><stop offset=".388" stop-color="#0e0e0e"/><stop offset=".461" stop-color="#282828"/><stop offset=".493" stop-color="#393939"/><stop offset=".510" stop-color="#383838"/><stop offset=".562" stop-color="#1e1e1e"/><stop offset=".625" stop-color="#0b0b0b"/><stop offset=".806" stop-color="#050505"/><stop offset="1" stop-color="#040404"/></linearGradient><linearGradient id="g274"><stop offset=".000" stop-color="#040404"/><stop offset=".345" stop-color="#080808"/><stop offset=".395" stop-color="#0e0e0e"/><stop offset=".467" stop-color="#292929"/><stop offset=".497" stop-color="#363636"/><stop offset=".516" stop-color="#313131"/><stop offset=".566" stop-color="#1b1b1b"/><stop offset=".622" stop-color="#0b0b0b"/><stop offset=".822" stop-color="#050505"/><stop offset="1" stop-color="#040404"/></linearGradient><linearGradient id="g275"><stop offset=".000" stop-color="#040404"/><stop offset=".352" stop-color="#080808"/><stop offset=".398" stop-color="#0d0d0d"/><stop offset=".474" stop-color="#292929"/><stop offset=".497" stop-color="#313131"/><stop offset=".516" stop-color="#2d2d2d"/><stop offset=".576" stop-color="#161616"/><stop offset=".615" stop-color="#0a0a0a"/><stop offset=".819" stop-color="#050505"/><stop offset="1" stop-color="#040404"/></linearGradient><linearGradient id="g276"><stop offset=".000" stop-color="#040404"/><stop offset=".362" stop-color="#080808"/><stop offset=".405" stop-color="#0d0d0d"/><stop offset=".497" stop-color="#2e2e2e"/><stop offset=".520" stop-color="#292929"/><stop offset=".605" stop-color="#0b0b0b"/><stop offset=".770" stop-color="#050505"/><stop offset="1" stop-color="#040404"/></linearGradient><linearGradient id="g277" x1="0" y1="0" x2="0" y2="1"><stop offset="0.000" stop-color="#800000"/><stop offset="0.062" stop-color="#bf0000"/><stop offset="0.125" stop-color="#ff0000"/><stop offset="0.188" stop-color="#ff4000"/><stop offset="0.250" stop-color="#ff8000"/><stop offset="0.312" stop-color="#ffbf00"/><stop offset="0.375" stop-color="#ffff00"/><stop offset="0.438" stop-color="#bfff40"/><stop offset="0.500" stop-color="#80ff80"/><stop offset="0.562" stop-color="#40ffbf"/><stop offset="0.625" stop-color="#00ffff"/><stop offset="0.688" stop-color="#00bfff"/><stop offset="0.750" stop-color="#0080ff"/><stop offset="0.812" stop-color="#0040ff"/><stop offset="0.875" stop-color="#0000ff"/><stop offset="0.938" stop-color="#0000bf"/><stop offset="1.000" stop-color="#000080"/></linearGradient><linearGradient id="g278" x1="0" y1="0" x2="0" y2="1"><stop offset="0.000" stop-color="#800000"/><stop offset="0.062" stop-color="#bf0000"/><stop offset="0.125" stop-color="#ff0000"/><stop offset="0.188" stop-color="#ff4000"/><stop offset="0.250" stop-color="#ff8000"/><stop offset="0.312" stop-color="#ffbf00"/><stop offset="0.375" stop-color="#ffff00"/><stop offset="0.438" stop-color="#bfff40"/><stop offset="0.500" stop-color="#80ff80"/><stop offset="0.562" stop-color="#40ffbf"/><stop offset="0.625" stop-color="#00ffff"/><stop offset="0.688" stop-color="#00bfff"/><stop offset="0.750" stop-color="#0080ff"/><stop offset="0.812" stop-color="#0040ff"/><stop offset="0.875" stop-color="#0000ff"/><stop offset="0.938" stop-color="#0000bf"/><stop offset="1.000" stop-color="#000080"/></linearGradient><linearGradient id="g279" x1="0" y1="0" x2="0" y2="1"><stop offset="0.000" stop-color="#800000"/><stop offset="0.062" stop-color="#bf0000"/><stop offset="0.125" stop-color="#ff0000"/><stop offset="0.188" stop-color="#ff4000"/><stop offset="0.250" stop-color="#ff8000"/><stop offset="0.312" stop-color="#ffbf00"/><stop offset="0.375" stop-color="#ffff00"/><stop offset="0.438" stop-color="#bfff40"/><stop offset="0.500" stop-color="#80ff80"/><stop offset="0.562" stop-color="#40ffbf"/><stop offset="0.625" stop-color="#00ffff"/><stop offset="0.688" stop-color="#00bfff"/><stop offset="0.750" stop-color="#0080ff"/><stop offset="0.812" stop-color="#0040ff"/><stop offset="0.875" stop-color="#0000ff"/><stop offset="0.938" stop-color="#0000bf"/><stop offset="1.000" stop-color="#000080"/></linearGradient></defs>
<g shape-rendering="crispEdges"><g filter="url(#jet)"><rect x="33.0" y="16.5" width="150.5" height="2.4" fill="url(#g1)"/><rect x="33.0" y="18.5" width="150.5" height="2.4" fill="url(#g2)"/><rect x="33.0" y="20.5" width="150.5" height="2.4" fill="url(#g3)"/><rect x="33.0" y="22.5" width="150.5" height="2.4" fill="url(#g4)"/><rect x="33.0" y="24.5" width="150.5" height="2.4" fill="url(#g5)"/><rect x="33.0" y="26.5" width="150.5" height="2.4" fill="url(#g6)"/><rect x="33.0" y="28.5" width="150.5" height="2.4" fill="url(#g7)"/><rect x="33.0" y="30.5" width="150.5" height="2.4" fill="url(#g8)"/><rect x="33.0" y="32.5" width="150.5" height="2.4" fill="url(#g9)"/><rect x="33.0" y="34.5" width="150.5" height="2.4" fill="url(#g10)"/><rect x="33.0" y="36.5" width="150.5" height="2.4" fill="url(#g11)"/><rect x="33.0" y="38.5" width="150.5" height="2.4" fill="url(#g12)"/><rect x="33.0" y="40.5" width="150.5" height="2.4" fill="url(#g13)"/><rect x="33.0" y="42.5" width="150.5" height="2.4" fill="url(#g14)"/><rect x="33.0" y="44.5" width="150.5" height="2.4" fill="url(#g15)"/><rect x="33.0" y="46.5" width="150.5" height="2.4" fill="url(#g16)"/><rect x="33.0" y="48.5" width="150.5" height="2.4" fill="url(#g17)"/><rect x="33.0" y="50.5" width="150.5" height="2.4" fill="url(#g18)"/><rect x="33.0" y="52.5" width="150.5" height="2.4" fill="url(#g19)"/><rect x="33.0" y="54.5" width="150.5" height="2.4" fill="url(#g20)"/><rect x="33.0" y="56.5" width="150.5" height="2.4" fill="url(#g21)"/><rect x="33.0" y="58.5" width="150.5" height="2.4" fill="url(#g22)"/><rect x="33.0" y="60.5" width="150.5" height="2.4" fill="url(#g23)"/><rect x="33.0" y="62.5" width="150.5" height="2.4" fill="url(#g24)"/><rect x="33.0" y="64.5" width="150.5" height="2.4" fill="url(#g25)"/><rect x="33.0" y="66.5" width="150.5" height="2.4" fill="url(#g26)"/><rect x="33.0" y="68.5" width="150.5" height="2.4" fill="url(#g27)"/><rect x="33.0" y="70.5" width="150.5" height="2.4" fill="url(#g28)"/><rect x="33.0" y="72.5" width="150.5" height="2.4" fill="url(#g29)"/><rect x="33.0" y="74.5" width="150.5" height="2.4" fill="url(#g30)"/><rect x="33.0" y="76.5" width="150.5" height="2.4" fill="url(#g31)"/><rect x="33.0" y="78.5" width="150.5" height="2.4" fill="url(#g32)"/><rect x="33.0" y="80.5" width="150.5" height="2.4" fill="url(#g33)"/><rect x="33.0" y="82.5" width="150.5" height="2.4" fill="url(#g34)"/><rect x="33.0" y="84.5" width="150.5" height="2.4" fill="url(#g35)"/><rect x="33.0" y="86.5" width="150.5" height="2.4" fill="url(#g36)"/><rect x="33.0" y="88.5" width="150.5" height="3.4" fill="url(#g37)"/><rect x="33.0" y="91.5" width="150.5" height="3.4" fill="url(#g38)"/><rect x="33.0" y="94.5" width="150.5" height="3.4" fill="url(#g39)"/><rect x="33.0" y="97.5" width="150.5" height="3.4" fill="url(#g40)"/><rect x="33.0" y="100.5" width="150.5" height="4.4" fill="url(#g41)"/><rect x="33.0" y="104.5" width="150.5" height="4.4" fill="url(#g42)"/><rect x="33.0" y="108.5" width="150.5" height="4.4" fill="url(#g43)"/><rect x="33.0" y="112.5" width="150.5" height="4.4" fill="url(#g44)"/><rect x="33.0" y="116.5" width="150.5" height="4.4" fill="url(#g45)"/><rect x="33.0" y="120.5" width="150.5" height="3.4" fill="url(#g46)"/><rect x="33.0" y="123.5" width="150.5" height="3.4" fill="url(#g47)"/><rect x="33.0" y="126.5" width="150.5" height="2.4" fill="url(#g48)"/><rect x="33.0" y="128.5" width="150.5" height="2.4" fill="url(#g49)"/><rect x="33.0" y="130.5" width="150.5" height="2.4" fill="url(#g50)"/><rect x="33.0" y="132.5" width="150.5" height="2.4" fill="url(#g51)"/><rect x="33.0" y="134.5" width="150.5" height="2.4" fill="url(#g52)"/><rect x="33.0" y="136.5" width="150.5" height="2.4" fill="url(#g53)"/><rect x="33.0" y="138.5" width="150.5" height="2.4" fill="url(#g54)"/><rect x="33.0" y="140.5" width="150.5" height="2.4" fill="url(#g55)"/><rect x="33.0" y="142.5" width="150.5" height="2.4" fill="url(#g56)"/><rect x="33.0" y="144.5" width="150.5" height="1.4" fill="url(#g57)"/><rect x="33.0" y="145.5" width="150.5" height="1.4" fill="url(#g58)"/><rect x="33.0" y="146.5" width="150.5" height="1.4" fill="url(#g59)"/><rect x="33.0" y="147.5" width="150.5" height="1.4" fill="url(#g60)"/><rect x="33.0" y="148.5" width="150.5" height="1.4" fill="url(#g61)"/><rect x="33.0" y="149.5" width="150.5" height="1.4" fill="url(#g62)"/><rect x="33.0" y="150.5" width="150.5" height="1.4" fill="url(#g63)"/><rect x="33.0" y="151.5" width="150.5" height="1.4" fill="url(#g64)"/><rect x="33.0" y="152.5" width="150.5" height="1.4" fill="url(#g65)"/><rect x="33.0" y="153.5" width="150.5" height="1.4" fill="url(#g66)"/><rect x="33.0" y="154.5" width="150.5" height="1.4" fill="url(#g67)"/><rect x="33.0" y="155.5" width="150.5" height="1.4" fill="url(#g68)"/><rect x="33.0" y="156.5" width="150.5" height="1.4" fill="url(#g69)"/><rect x="33.0" y="157.5" width="150.5" height="1.4" fill="url(#g70)"/><rect x="33.0" y="158.5" width="150.5" height="1.4" fill="url(#g71)"/><rect x="33.0" y="159.5" width="150.5" height="1.4" fill="url(#g72)"/><rect x="33.0" y="160.5" width="150.5" height="1.4" fill="url(#g73)"/><rect x="33.0" y="161.5" width="150.5" height="1.4" fill="url(#g74)"/><rect x="33.0" y="162.5" width="150.5" height="1.4" fill="url(#g75)"/><rect x="33.0" y="163.5" width="150.5" height="1.4" fill="url(#g76)"/><rect x="33.0" y="164.5" width="150.5" height="1.4" fill="url(#g77)"/><rect x="33.0" y="165.5" width="150.5" height="1.4" fill="url(#g78)"/><rect x="33.0" y="166.5" width="150.5" height="2.4" fill="url(#g79)"/><rect x="33.0" y="168.5" width="150.5" height="2.4" fill="url(#g80)"/><rect x="33.0" y="170.5" width="150.5" height="2.4" fill="url(#g81)"/><rect x="33.0" y="172.5" width="150.5" height="2.4" fill="url(#g82)"/><rect x="33.0" y="174.5" width="150.5" height="2.4" fill="url(#g83)"/><rect x="33.0" y="176.5" width="150.5" height="2.4" fill="url(#g84)"/><rect x="33.0" y="178.5" width="150.5" height="2.4" fill="url(#g85)"/><rect x="33.0" y="180.5" width="150.5" height="2.4" fill="url(#g86)"/><rect x="33.0" y="182.5" width="150.5" height="2.4" fill="url(#g87)"/><rect x="33.0" y="184.5" width="150.5" height="2.4" fill="url(#g88)"/><rect x="33.0" y="186.5" width="150.5" height="2.4" fill="url(#g89)"/><rect x="33.0" y="188.5" width="150.5" height="2.4" fill="url(#g90)"/><rect x="33.0" y="190.5" width="150.5" height="2.4" fill="url(#g91)"/><rect x="33.0" y="192.5" width="150.5" height="2.4" fill="url(#g92)"/><rect x="33.0" y="194.5" width="150.5" height="3.4" fill="url(#g93)"/><rect x="33.0" y="197.5" width="150.5" height="1.2" fill="url(#g94)"/></g><g filter="url(#jet)"><rect x="261.2" y="17.3" width="150.7" height="2.4" fill="url(#g95)"/><rect x="261.2" y="19.3" width="150.7" height="2.4" fill="url(#g96)"/><rect x="261.2" y="21.3" width="150.7" height="2.4" fill="url(#g97)"/><rect x="261.2" y="23.3" width="150.7" height="2.4" fill="url(#g98)"/><rect x="261.2" y="25.3" width="150.7" height="2.4" fill="url(#g99)"/><rect x="261.2" y="27.3" width="150.7" height="2.4" fill="url(#g100)"/><rect x="261.2" y="29.3" width="150.7" height="2.4" fill="url(#g101)"/><rect x="261.2" y="31.3" width="150.7" height="2.4" fill="url(#g102)"/><rect x="261.2" y="33.3" width="150.7" height="2.4" fill="url(#g103)"/><rect x="261.2" y="35.3" width="150.7" height="2.4" fill="url(#g104)"/><rect x="261.2" y="37.3" width="150.7" height="2.4" fill="url(#g105)"/><rect x="261.2" y="39.3" width="150.7" height="2.4" fill="url(#g106)"/><rect x="261.2" y="41.3" width="150.7" height="2.4" fill="url(#g107)"/><rect x="261.2" y="43.3" width="150.7" height="2.4" fill="url(#g108)"/><rect x="261.2" y="45.3" width="150.7" height="2.4" fill="url(#g109)"/><rect x="261.2" y="47.3" width="150.7" height="2.4" fill="url(#g110)"/><rect x="261.2" y="49.3" width="150.7" height="2.4" fill="url(#g111)"/><rect x="261.2" y="51.3" width="150.7" height="2.4" fill="url(#g112)"/><rect x="261.2" y="53.3" width="150.7" height="2.4" fill="url(#g113)"/><rect x="261.2" y="55.3" width="150.7" height="2.4" fill="url(#g114)"/><rect x="261.2" y="57.3" width="150.7" height="3.4" fill="url(#g115)"/><rect x="261.2" y="60.3" width="150.7" height="3.4" fill="url(#g116)"/><rect x="261.2" y="63.3" width="150.7" height="3.4" fill="url(#g117)"/><rect x="261.2" y="66.3" width="150.7" height="3.4" fill="url(#g118)"/><rect x="261.2" y="69.3" width="150.7" height="3.4" fill="url(#g119)"/><rect x="261.2" y="72.3" width="150.7" height="3.4" fill="url(#g120)"/><rect x="261.2" y="75.3" width="150.7" height="3.4" fill="url(#g121)"/><rect x="261.2" y="78.3" width="150.7" height="3.4" fill="url(#g122)"/><rect x="261.2" y="81.3" width="150.7" height="3.4" fill="url(#g123)"/><rect x="261.2" y="84.3" width="150.7" height="4.4" fill="url(#g124)"/><rect x="261.2" y="88.3" width="150.7" height="4.4" fill="url(#g125)"/><rect x="261.2" y="92.3" width="150.7" height="4.4" fill="url(#g126)"/><rect x="261.2" y="96.3" width="150.7" height="4.4" fill="url(#g127)"/><rect x="261.2" y="100.3" width="150.7" height="4.4" fill="url(#g128)"/><rect x="261.2" y="104.3" width="150.7" height="4.4" fill="url(#g129)"/><rect x="261.2" y="108.3" width="150.7" height="4.4" fill="url(#g130)"/><rect x="261.2" y="112.3" width="150.7" height="4.4" fill="url(#g131)"/><rect x="261.2" y="116.3" width="150.7" height="4.4" fill="url(#g132)"/><rect x="261.2" y="120.3" width="150.7" height="4.4" fill="url(#g133)"/><rect x="261.2" y="124.3" width="150.7" height="4.4" fill="url(#g134)"/><rect x="261.2" y="128.3" width="150.7" height="4.4" fill="url(#g135)"/><rect x="261.2" y="132.3" width="150.7" height="4.4" fill="url(#g136)"/><rect x="261.2" y="136.3" width="150.7" height="4.4" fill="url(#g137)"/><rect x="261.2" y="140.3" width="150.7" height="3.4" fill="url(#g138)"/><rect x="261.2" y="143.3" width="150.7" height="3.4" fill="url(#g139)"/><rect x="261.2" y="146.3" width="150.7" height="3.4" fill="url(#g140)"/><rect x="261.2" y="149.3" width="150.7" height="3.4" fill="url(#g141)"/><rect x="261.2" y="152.3" width="150.7" height="2.4" fill="url(#g142)"/><rect x="261.2" y="154.3" width="150.7" height="2.4" fill="url(#g143)"/><rect x="261.2" y="156.3" width="150.7" height="2.4" fill="url(#g144)"/><rect x="261.2" y="158.3" width="150.7" height="2.4" fill="url(#g145)"/><rect x="261.2" y="160.3" width="150.7" height="1.4" fill="url(#g146)"/><rect x="261.2" y="161.3" width="150.7" height="1.4" fill="url(#g147)"/><rect x="261.2" y="162.3" width="150.7" height="1.4" fill="url(#g148)"/><rect x="261.2" y="163.3" width="150.7" height="1.4" fill="url(#g149)"/><rect x="261.2" y="164.3" width="150.7" height="1.4" fill="url(#g150)"/><rect x="261.2" y="165.3" width="150.7" height="1.4" fill="url(#g151)"/><rect x="261.2" y="166.3" width="150.7" height="1.4" fill="url(#g152)"/><rect x="261.2" y="167.3" width="150.7" height="1.4" fill="url(#g153)"/><rect x="261.2" y="168.3" width="150.7" height="1.4" fill="url(#g154)"/><rect x="261.2" y="169.3" width="150.7" height="1.4" fill="url(#g155)"/><rect x="261.2" y="170.3" width="150.7" height="1.4" fill="url(#g156)"/><rect x="261.2" y="171.3" width="150.7" height="1.4" fill="url(#g157)"/><rect x="261.2" y="172.3" width="150.7" height="1.4" fill="url(#g158)"/><rect x="261.2" y="173.3" width="150.7" height="1.4" fill="url(#g159)"/><rect x="261.2" y="174.3" width="150.7" height="1.4" fill="url(#g160)"/><rect x="261.2" y="175.3" width="150.7" height="1.4" fill="url(#g161)"/><rect x="261.2" y="176.3" width="150.7" height="1.4" fill="url(#g162)"/><rect x="261.2" y="177.3" width="150.7" height="1.4" fill="url(#g163)"/><rect x="261.2" y="178.3" width="150.7" height="1.4" fill="url(#g164)"/><rect x="261.2" y="179.3" width="150.7" height="1.4" fill="url(#g165)"/><rect x="261.2" y="180.3" width="150.7" height="1.4" fill="url(#g166)"/><rect x="261.2" y="181.3" width="150.7" height="1.4" fill="url(#g167)"/><rect x="261.2" y="182.3" width="150.7" height="1.4" fill="url(#g168)"/><rect x="261.2" y="183.3" width="150.7" height="1.4" fill="url(#g169)"/><rect x="261.2" y="184.3" width="150.7" height="1.4" fill="url(#g170)"/><rect x="261.2" y="185.3" width="150.7" height="1.4" fill="url(#g171)"/><rect x="261.2" y="186.3" width="150.7" height="1.4" fill="url(#g172)"/><rect x="261.2" y="187.3" width="150.7" height="1.4" fill="url(#g173)"/><rect x="261.2" y="188.3" width="150.7" height="1.4" fill="url(#g174)"/><rect x="261.2" y="189.3" width="150.7" height="1.4" fill="url(#g175)"/><rect x="261.2" y="190.3" width="150.7" height="1.4" fill="url(#g176)"/><rect x="261.2" y="191.3" width="150.7" height="1.4" fill="url(#g177)"/><rect x="261.2" y="192.3" width="150.7" height="1.4" fill="url(#g178)"/><rect x="261.2" y="193.3" width="150.7" height="1.4" fill="url(#g179)"/><rect x="261.2" y="194.3" width="150.7" height="1.4" fill="url(#g180)"/><rect x="261.2" y="195.3" width="150.7" height="1.4" fill="url(#g181)"/><rect x="261.2" y="196.3" width="150.7" height="1.4" fill="url(#g182)"/><rect x="261.2" y="197.3" width="150.7" height="0.1" fill="url(#g183)"/></g><g filter="url(#jet)"><rect x="490.6" y="15.8" width="152.2" height="2.4" fill="url(#g184)"/><rect x="490.6" y="17.8" width="152.2" height="2.4" fill="url(#g185)"/><rect x="490.6" y="19.8" width="152.2" height="2.4" fill="url(#g186)"/><rect x="490.6" y="21.8" width="152.2" height="2.4" fill="url(#g187)"/><rect x="490.6" y="23.8" width="152.2" height="2.4" fill="url(#g188)"/><rect x="490.6" y="25.8" width="152.2" height="2.4" fill="url(#g189)"/><rect x="490.6" y="27.8" width="152.2" height="2.4" fill="url(#g190)"/><rect x="490.6" y="29.8" width="152.2" height="2.4" fill="url(#g191)"/><rect x="490.6" y="31.8" width="152.2" height="2.4" fill="url(#g192)"/><rect x="490.6" y="33.8" width="152.2" height="2.4" fill="url(#g193)"/><rect x="490.6" y="35.8" width="152.2" height="2.4" fill="url(#g194)"/><rect x="490.6" y="37.8" width="152.2" height="2.4" fill="url(#g195)"/><rect x="490.6" y="39.8" width="152.2" height="2.4" fill="url(#g196)"/><rect x="490.6" y="41.8" width="152.2" height="2.4" fill="url(#g197)"/><rect x="490.6" y="43.8" width="152.2" height="2.4" fill="url(#g198)"/><rect x="490.6" y="45.8" width="152.2" height="2.4" fill="url(#g199)"/><rect x="490.6" y="47.8" width="152.2" height="2.4" fill="url(#g200)"/><rect x="490.6" y="49.8" width="152.2" height="2.4" fill="url(#g201)"/><rect x="490.6" y="51.8" width="152.2" height="2.4" fill="url(#g202)"/><rect x="490.6" y="53.8" width="152.2" height="2.4" fill="url(#g203)"/><rect x="490.6" y="55.8" width="152.2" height="2.4" fill="url(#g204)"/><rect x="490.6" y="57.8" width="152.2" height="2.4" fill="url(#g205)"/><rect x="490.6" y="59.8" width="152.2" height="2.4" fill="url(#g206)"/><rect x="490.6" y="61.8" width="152.2" height="2.4" fill="url(#g207)"/><rect x="490.6" y="63.8" width="152.2" height="2.4" fill="url(#g208)"/><rect x="490.6" y="65.8" width="152.2" height="2.4" fill="url(#g209)"/><rect x="490.6" y="67.8" width="152.2" height="2.4" fill="url(#g210)"/><rect x="490.6" y="69.8" width="152.2" height="2.4" fill="url(#g211)"/><rect x="490.6" y="71.8" width="152.2" height="2.4" fill="url(#g212)"/><rect x="490.6" y="73.8" width="152.2" height="2.4" fill="url(#g213)"/><rect x="490.6" y="75.8" width="152.2" height="2.4" fill="url(#g214)"/><rect x="490.6" y="77.8" width="152.2" height="2.4" fill="url(#g215)"/><rect x="490.6" y="79.8" width="152.2" height="2.4" fill="url(#g216)"/><rect x="490.6" y="81.8" width="152.2" height="2.4" fill="url(#g217)"/><rect x="490.6" y="83.8" width="152.2" height="2.4" fill="url(#g218)"/><rect x="490.6" y="85.8" width="152.2" height="2.4" fill="url(#g219)"/><rect x="490.6" y="87.8" width="152.2" height="2.4" fill="url(#g220)"/><rect x="490.6" y="89.8" width="152.2" height="3.4" fill="url(#g221)"/><rect x="490.6" y="92.8" width="152.2" height="3.4" fill="url(#g222)"/><rect x="490.6" y="95.8" width="152.2" height="3.4" fill="url(#g223)"/><rect x="490.6" y="98.8" width="152.2" height="4.4" fill="url(#g224)"/><rect x="490.6" y="102.8" width="152.2" height="4.4" fill="url(#g225)"/><rect x="490.6" y="106.8" width="152.2" height="4.4" fill="url(#g226)"/><rect x="490.6" y="110.8" width="152.2" height="4.4" fill="url(#g227)"/><rect x="490.6" y="114.8" width="152.2" height="4.4" fill="url(#g228)"/><rect x="490.6" y="118.8" width="152.2" height="4.4" fill="url(#g229)"/><rect x="490.6" y="122.8" width="152.2" height="3.4" fill="url(#g230)"/><rect x="490.6" y="125.8" width="152.2" height="2.4" fill="url(#g231)"/><rect x="490.6" y="127.8" width="152.2" height="2.4" fill="url(#g232)"/><rect x="490.6" y="129.8" width="152.2" height="2.4" fill="url(#g233)"/><rect x="490.6" y="131.8" width="152.2" height="2.4" fill="url(#g234)"/><rect x="490.6" y="133.8" width="152.2" height="2.4" fill="url(#g235)"/><rect x="490.6" y="135.8" width="152.2" height="2.4" fill="url(#g236)"/><rect x="490.6" y="137.8" width="152.2" height="2.4" fill="url(#g237)"/><rect x="490.6" y="139.8" width="152.2" height="2.4" fill="url(#g238)"/><rect x="490.6" y="141.8" width="152.2" height="2.4" fill="url(#g239)"/><rect x="490.6" y="143.8" width="152.2" height="1.4" fill="url(#g240)"/><rect x="490.6" y="144.8" width="152.2" height="1.4" fill="url(#g241)"/><rect x="490.6" y="145.8" width="152.2" height="1.4" fill="url(#g242)"/><rect x="490.6" y="146.8" width="152.2" height="1.4" fill="url(#g243)"/><rect x="490.6" y="147.8" width="152.2" height="1.4" fill="url(#g244)"/><rect x="490.6" y="148.8" width="152.2" height="1.4" fill="url(#g245)"/><rect x="490.6" y="149.8" width="152.2" height="1.4" fill="url(#g246)"/><rect x="490.6" y="150.8" width="152.2" height="1.4" fill="url(#g247)"/><rect x="490.6" y="151.8" width="152.2" height="1.4" fill="url(#g248)"/><rect x="490.6" y="152.8" width="152.2" height="1.4" fill="url(#g249)"/><rect x="490.6" y="153.8" width="152.2" height="1.4" fill="url(#g250)"/><rect x="490.6" y="154.8" width="152.2" height="1.4" fill="url(#g251)"/><rect x="490.6" y="155.8" width="152.2" height="1.4" fill="url(#g252)"/><rect x="490.6" y="156.8" width="152.2" height="1.4" fill="url(#g253)"/><rect x="490.6" y="157.8" width="152.2" height="1.4" fill="url(#g254)"/><rect x="490.6" y="158.8" width="152.2" height="1.4" fill="url(#g255)"/><rect x="490.6" y="159.8" width="152.2" height="1.4" fill="url(#g256)"/><rect x="490.6" y="160.8" width="152.2" height="1.4" fill="url(#g257)"/><rect x="490.6" y="161.8" width="152.2" height="1.4" fill="url(#g258)"/><rect x="490.6" y="162.8" width="152.2" height="1.4" fill="url(#g259)"/><rect x="490.6" y="163.8" width="152.2" height="1.4" fill="url(#g260)"/><rect x="490.6" y="164.8" width="152.2" height="2.4" fill="url(#g261)"/><rect x="490.6" y="166.8" width="152.2" height="2.4" fill="url(#g262)"/><rect x="490.6" y="168.8" width="152.2" height="2.4" fill="url(#g263)"/><rect x="490.6" y="170.8" width="152.2" height="2.4" fill="url(#g264)"/><rect x="490.6" y="172.8" width="152.2" height="2.4" fill="url(#g265)"/><rect x="490.6" y="174.8" width="152.2" height="2.4" fill="url(#g266)"/><rect x="490.6" y="176.8" width="152.2" height="2.4" fill="url(#g267)"/><rect x="490.6" y="178.8" width="152.2" height="2.4" fill="url(#g268)"/><rect x="490.6" y="180.8" width="152.2" height="2.4" fill="url(#g269)"/><rect x="490.6" y="182.8" width="152.2" height="2.4" fill="url(#g270)"/><rect x="490.6" y="184.8" width="152.2" height="2.4" fill="url(#g271)"/><rect x="490.6" y="186.8" width="152.2" height="2.4" fill="url(#g272)"/><rect x="490.6" y="188.8" width="152.2" height="2.4" fill="url(#g273)"/><rect x="490.6" y="190.8" width="152.2" height="2.4" fill="url(#g274)"/><rect x="490.6" y="192.8" width="152.2" height="3.4" fill="url(#g275)"/><rect x="490.6" y="195.8" width="152.2" height="1.0" fill="url(#g276)"/></g><rect x="194.70" y="15.00" width="11.40" height="183.00" fill="url(#g277)"/><rect x="423.40" y="15.80" width="11.40" height="181.60" fill="url(#g278)"/><rect x="653.20" y="15.60" width="11.00" height="181.30" fill="url(#g279)"/></g>
<text x="28.80" y="203.40" font-size="11.20" text-anchor="end" font-weight="normal" fill="#262626"  style="">260</text><line x1="182.20" y1="198.70" x2="183.50" y2="198.70" stroke="#262626" stroke-width="0.6"/><line x1="33.00" y1="198.70" x2="34.30" y2="198.70" stroke="#262626" stroke-width="0.6"/><text x="28.80" y="157.85" font-size="11.20" text-anchor="end" font-weight="normal" fill="#262626"  style="">280</text><line x1="182.20" y1="153.15" x2="183.50" y2="153.15" stroke="#262626" stroke-width="0.6"/><line x1="33.00" y1="153.15" x2="34.30" y2="153.15" stroke="#262626" stroke-width="0.6"/><text x="28.80" y="112.30" font-size="11.20" text-anchor="end" font-weight="normal" fill="#262626"  style="">300</text><line x1="182.20" y1="107.60" x2="183.50" y2="107.60" stroke="#262626" stroke-width="0.6"/><line x1="33.00" y1="107.60" x2="34.30" y2="107.60" stroke="#262626" stroke-width="0.6"/><text x="28.80" y="66.75" font-size="11.20" text-anchor="end" font-weight="normal" fill="#262626"  style="">320</text><line x1="182.20" y1="62.05" x2="183.50" y2="62.05" stroke="#262626" stroke-width="0.6"/><line x1="33.00" y1="62.05" x2="34.30" y2="62.05" stroke="#262626" stroke-width="0.6"/><text x="28.80" y="21.20" font-size="11.20" text-anchor="end" font-weight="normal" fill="#262626"  style="">340</text><line x1="182.20" y1="16.50" x2="183.50" y2="16.50" stroke="#262626" stroke-width="0.6"/><line x1="33.00" y1="16.50" x2="34.30" y2="16.50" stroke="#262626" stroke-width="0.6"/><text x="33.00" y="212.10" font-size="11.20" text-anchor="middle" font-weight="normal" fill="#262626"  style="">-40</text><text x="70.62" y="212.10" font-size="11.20" text-anchor="middle" font-weight="normal" fill="#262626"  style="">-20</text><text x="108.25" y="212.10" font-size="11.20" text-anchor="middle" font-weight="normal" fill="#262626"  style="">0</text><text x="145.88" y="212.10" font-size="11.20" text-anchor="middle" font-weight="normal" fill="#262626"  style="">20</text><text x="183.50" y="212.10" font-size="11.20" text-anchor="middle" font-weight="normal" fill="#262626"  style="">40</text><text x="106.65" y="223.90" font-size="11.20" text-anchor="middle" font-weight="normal" fill="#262626"  style="">x (km)</text><text x="8.60" y="109.60" font-size="12.20" text-anchor="middle" font-weight="normal" fill="#262626" transform="rotate(-90 8.60 109.60)" style="">z (km)</text><line x1="173.10" y1="169.20" x2="173.10" y2="185.60" stroke="#fff" stroke-width="1.2"/><path d="M173.10 164.20 L171.10 169.80 L175.10 169.80 Z" fill="#fff"/><text x="161.30" y="181.90" font-size="11.80" text-anchor="start" font-weight="normal" fill="#fff"  style="font-style:italic">B</text><text x="258.20" y="202.10" font-size="11.20" text-anchor="end" font-weight="normal" fill="#262626"  style="">260</text><line x1="410.60" y1="197.40" x2="411.90" y2="197.40" stroke="#262626" stroke-width="0.6"/><line x1="261.20" y1="197.40" x2="262.50" y2="197.40" stroke="#262626" stroke-width="0.6"/><text x="258.20" y="157.07" font-size="11.20" text-anchor="end" font-weight="normal" fill="#262626"  style="">280</text><line x1="410.60" y1="152.38" x2="411.90" y2="152.38" stroke="#262626" stroke-width="0.6"/><line x1="261.20" y1="152.38" x2="262.50" y2="152.38" stroke="#262626" stroke-width="0.6"/><text x="258.20" y="112.05" font-size="11.20" text-anchor="end" font-weight="normal" fill="#262626"  style="">300</text><line x1="410.60" y1="107.35" x2="411.90" y2="107.35" stroke="#262626" stroke-width="0.6"/><line x1="261.20" y1="107.35" x2="262.50" y2="107.35" stroke="#262626" stroke-width="0.6"/><text x="258.20" y="67.03" font-size="11.20" text-anchor="end" font-weight="normal" fill="#262626"  style="">320</text><line x1="410.60" y1="62.33" x2="411.90" y2="62.33" stroke="#262626" stroke-width="0.6"/><line x1="261.20" y1="62.33" x2="262.50" y2="62.33" stroke="#262626" stroke-width="0.6"/><text x="258.20" y="22.00" font-size="11.20" text-anchor="end" font-weight="normal" fill="#262626"  style="">340</text><line x1="410.60" y1="17.30" x2="411.90" y2="17.30" stroke="#262626" stroke-width="0.6"/><line x1="261.20" y1="17.30" x2="262.50" y2="17.30" stroke="#262626" stroke-width="0.6"/><text x="261.20" y="212.10" font-size="11.20" text-anchor="middle" font-weight="normal" fill="#262626"  style="">-40</text><text x="298.88" y="212.10" font-size="11.20" text-anchor="middle" font-weight="normal" fill="#262626"  style="">-20</text><text x="336.55" y="212.10" font-size="11.20" text-anchor="middle" font-weight="normal" fill="#262626"  style="">0</text><text x="374.22" y="212.10" font-size="11.20" text-anchor="middle" font-weight="normal" fill="#262626"  style="">20</text><text x="411.90" y="212.10" font-size="11.20" text-anchor="middle" font-weight="normal" fill="#262626"  style="">40</text><text x="334.95" y="223.90" font-size="11.20" text-anchor="middle" font-weight="normal" fill="#262626"  style="">x (km)</text><text x="237.00" y="109.35" font-size="12.20" text-anchor="middle" font-weight="normal" fill="#262626" transform="rotate(-90 237.00 109.35)" style="">z(km)</text><line x1="401.00" y1="168.00" x2="401.00" y2="184.40" stroke="#fff" stroke-width="1.2"/><path d="M401.00 163.00 L399.00 168.60 L403.00 168.60 Z" fill="#fff"/><text x="389.20" y="180.60" font-size="11.80" text-anchor="start" font-weight="normal" fill="#fff"  style="font-style:italic">B</text><text x="486.90" y="201.50" font-size="11.20" text-anchor="end" font-weight="normal" fill="#262626"  style="">260</text><line x1="641.50" y1="196.80" x2="642.80" y2="196.80" stroke="#262626" stroke-width="0.6"/><line x1="490.60" y1="196.80" x2="491.90" y2="196.80" stroke="#262626" stroke-width="0.6"/><text x="486.90" y="156.25" font-size="11.20" text-anchor="end" font-weight="normal" fill="#262626"  style="">280</text><line x1="641.50" y1="151.55" x2="642.80" y2="151.55" stroke="#262626" stroke-width="0.6"/><line x1="490.60" y1="151.55" x2="491.90" y2="151.55" stroke="#262626" stroke-width="0.6"/><text x="486.90" y="111.00" font-size="11.20" text-anchor="end" font-weight="normal" fill="#262626"  style="">300</text><line x1="641.50" y1="106.30" x2="642.80" y2="106.30" stroke="#262626" stroke-width="0.6"/><line x1="490.60" y1="106.30" x2="491.90" y2="106.30" stroke="#262626" stroke-width="0.6"/><text x="486.90" y="65.75" font-size="11.20" text-anchor="end" font-weight="normal" fill="#262626"  style="">320</text><line x1="641.50" y1="61.05" x2="642.80" y2="61.05" stroke="#262626" stroke-width="0.6"/><line x1="490.60" y1="61.05" x2="491.90" y2="61.05" stroke="#262626" stroke-width="0.6"/><text x="486.90" y="20.50" font-size="11.20" text-anchor="end" font-weight="normal" fill="#262626"  style="">340</text><line x1="641.50" y1="15.80" x2="642.80" y2="15.80" stroke="#262626" stroke-width="0.6"/><line x1="490.60" y1="15.80" x2="491.90" y2="15.80" stroke="#262626" stroke-width="0.6"/><text x="490.60" y="212.10" font-size="11.20" text-anchor="middle" font-weight="normal" fill="#262626"  style="">-40</text><text x="528.65" y="212.10" font-size="11.20" text-anchor="middle" font-weight="normal" fill="#262626"  style="">-20</text><text x="566.70" y="212.10" font-size="11.20" text-anchor="middle" font-weight="normal" fill="#262626"  style="">0</text><text x="604.75" y="212.10" font-size="11.20" text-anchor="middle" font-weight="normal" fill="#262626"  style="">20</text><text x="642.80" y="212.10" font-size="11.20" text-anchor="middle" font-weight="normal" fill="#262626"  style="">40</text><text x="565.10" y="223.90" font-size="11.20" text-anchor="middle" font-weight="normal" fill="#262626"  style="">x (km)</text><text x="466.60" y="108.30" font-size="12.20" text-anchor="middle" font-weight="normal" fill="#262626" transform="rotate(-90 466.60 108.30)" style="">z (km)</text><line x1="630.80" y1="167.50" x2="630.80" y2="184.20" stroke="#fff" stroke-width="1.2"/><path d="M630.80 162.50 L628.80 168.10 L632.80 168.10 Z" fill="#fff"/><text x="619.30" y="180.00" font-size="11.80" text-anchor="start" font-weight="normal" fill="#fff"  style="font-style:italic">B</text><rect x="34.80" y="20.00" width="13.80" height="15.60" fill="#fff"/><text x="41.40" y="31.20" font-size="10.80" text-anchor="middle" font-weight="bold" fill="#000"  style="">a</text><rect x="264.00" y="20.60" width="13.70" height="15.10" fill="#fff"/><text x="270.55" y="31.30" font-size="10.80" text-anchor="middle" font-weight="bold" fill="#000"  style="">b</text><rect x="493.00" y="19.20" width="13.90" height="15.50" fill="#fff"/><text x="499.65" y="30.30" font-size="10.80" text-anchor="middle" font-weight="bold" fill="#000"  style="">c</text><text x="107.00" y="12.00" font-size="10.80" text-anchor="middle" font-weight="bold" fill="#000"  style="white-space:pre">Ba<tspan font-size="7.50" dy="-4.50">+</tspan><tspan dy="4.5">  density (cm</tspan><tspan font-size="7.50" dy="-4.50">-3</tspan><tspan dy="4.5">)</tspan></text><text x="337.10" y="13.70" font-size="10.80" text-anchor="middle" font-weight="bold" fill="#000"  style="white-space:pre">O<tspan font-size="7.50" dy="-4.50">+</tspan><tspan dy="4.5"> density (cm</tspan><tspan font-size="7.50" dy="-4.50">-3</tspan><tspan dy="4.5">)</tspan></text><text x="562.90" y="11.20" font-size="10.80" text-anchor="middle" font-weight="bold" fill="#000"  style="">Electron density (cm<tspan font-size="7.50" dy="-4.50">-3</tspan><tspan dy="4.5">)</tspan></text><text x="209.30" y="167.60" font-size="11.20" text-anchor="start" font-weight="normal" fill="#262626"  style="">0.5</text><line x1="204.60" y1="164.00" x2="206.10" y2="164.00" stroke="#262626" stroke-width="0.6"/><text x="209.30" y="133.10" font-size="11.20" text-anchor="start" font-weight="normal" fill="#262626"  style="">1</text><line x1="204.60" y1="129.50" x2="206.10" y2="129.50" stroke="#262626" stroke-width="0.6"/><text x="209.30" y="98.60" font-size="11.20" text-anchor="start" font-weight="normal" fill="#262626"  style="">1.5</text><line x1="204.60" y1="95.00" x2="206.10" y2="95.00" stroke="#262626" stroke-width="0.6"/><text x="209.30" y="64.10" font-size="11.20" text-anchor="start" font-weight="normal" fill="#262626"  style="">2</text><line x1="204.60" y1="60.50" x2="206.10" y2="60.50" stroke="#262626" stroke-width="0.6"/><text x="209.30" y="29.60" font-size="11.20" text-anchor="start" font-weight="normal" fill="#262626"  style="">2.5</text><line x1="204.60" y1="26.00" x2="206.10" y2="26.00" stroke="#262626" stroke-width="0.6"/><text x="207.60" y="11.50" font-size="11.20" text-anchor="start" font-weight="normal" fill="#262626"  style="">×10<tspan font-size="7.50" dy="-4.50">6</tspan></text><text x="438.00" y="177.50" font-size="11.20" text-anchor="start" font-weight="normal" fill="#262626"  style="">2</text><line x1="433.30" y1="173.90" x2="434.80" y2="173.90" stroke="#262626" stroke-width="0.6"/><text x="438.00" y="145.30" font-size="11.20" text-anchor="start" font-weight="normal" fill="#262626"  style="">4</text><line x1="433.30" y1="141.70" x2="434.80" y2="141.70" stroke="#262626" stroke-width="0.6"/><text x="438.00" y="113.10" font-size="11.20" text-anchor="start" font-weight="normal" fill="#262626"  style="">6</text><line x1="433.30" y1="109.50" x2="434.80" y2="109.50" stroke="#262626" stroke-width="0.6"/><text x="438.00" y="80.90" font-size="11.20" text-anchor="start" font-weight="normal" fill="#262626"  style="">8</text><line x1="433.30" y1="77.30" x2="434.80" y2="77.30" stroke="#262626" stroke-width="0.6"/><text x="438.00" y="48.70" font-size="11.20" text-anchor="start" font-weight="normal" fill="#262626"  style="">10</text><line x1="433.30" y1="45.10" x2="434.80" y2="45.10" stroke="#262626" stroke-width="0.6"/><text x="435.40" y="11.50" font-size="11.20" text-anchor="start" font-weight="normal" fill="#262626"  style="">×10<tspan font-size="7.50" dy="-4.50">4</tspan></text><text x="667.40" y="168.00" font-size="11.20" text-anchor="start" font-weight="normal" fill="#262626"  style="">0.5</text><line x1="662.70" y1="164.40" x2="664.20" y2="164.40" stroke="#262626" stroke-width="0.6"/><text x="667.40" y="133.40" font-size="11.20" text-anchor="start" font-weight="normal" fill="#262626"  style="">1</text><line x1="662.70" y1="129.80" x2="664.20" y2="129.80" stroke="#262626" stroke-width="0.6"/><text x="667.40" y="98.80" font-size="11.20" text-anchor="start" font-weight="normal" fill="#262626"  style="">1.5</text><line x1="662.70" y1="95.20" x2="664.20" y2="95.20" stroke="#262626" stroke-width="0.6"/><text x="667.40" y="64.20" font-size="11.20" text-anchor="start" font-weight="normal" fill="#262626"  style="">2</text><line x1="662.70" y1="60.60" x2="664.20" y2="60.60" stroke="#262626" stroke-width="0.6"/><text x="667.40" y="29.60" font-size="11.20" text-anchor="start" font-weight="normal" fill="#262626"  style="">2.5</text><line x1="662.70" y1="26.00" x2="664.20" y2="26.00" stroke="#262626" stroke-width="0.6"/><text x="666.20" y="11.50" font-size="11.20" text-anchor="start" font-weight="normal" fill="#262626"  style="">×10<tspan font-size="7.50" dy="-4.50">6</tspan></text>
<line x1="78.60" y1="440.74" x2="303.50" y2="440.74" stroke="#ededed" stroke-width="1"/><line x1="78.60" y1="413.27" x2="303.50" y2="413.27" stroke="#ededed" stroke-width="1"/><line x1="78.60" y1="385.81" x2="303.50" y2="385.81" stroke="#ededed" stroke-width="1"/><line x1="78.60" y1="358.35" x2="303.50" y2="358.35" stroke="#ededed" stroke-width="1"/><line x1="78.60" y1="330.89" x2="303.50" y2="330.89" stroke="#ededed" stroke-width="1"/><line x1="78.60" y1="303.43" x2="303.50" y2="303.43" stroke="#ededed" stroke-width="1"/><line x1="78.60" y1="275.96" x2="303.50" y2="275.96" stroke="#ededed" stroke-width="1"/><line x1="223.90" y1="248.50" x2="223.90" y2="468.20" stroke="#ededed" stroke-width="1"/><rect x="78.60" y="248.50" width="224.90" height="219.70" fill="none" stroke="#858585" stroke-width="1"/><line x1="78.60" y1="468.20" x2="80.60" y2="468.20" stroke="#555" stroke-width="0.7"/><line x1="301.50" y1="468.20" x2="303.50" y2="468.20" stroke="#555" stroke-width="0.7"/><text x="73.80" y="472.80" font-size="13.00" text-anchor="end" font-weight="normal" fill="#262626"  style="">260</text><line x1="78.60" y1="440.74" x2="80.60" y2="440.74" stroke="#555" stroke-width="0.7"/><line x1="301.50" y1="440.74" x2="303.50" y2="440.74" stroke="#555" stroke-width="0.7"/><text x="73.80" y="445.34" font-size="13.00" text-anchor="end" font-weight="normal" fill="#262626"  style="">270</text><line x1="78.60" y1="413.27" x2="80.60" y2="413.27" stroke="#555" stroke-width="0.7"/><line x1="301.50" y1="413.27" x2="303.50" y2="413.27" stroke="#555" stroke-width="0.7"/><text x="73.80" y="417.88" font-size="13.00" text-anchor="end" font-weight="normal" fill="#262626"  style="">280</text><line x1="78.60" y1="385.81" x2="80.60" y2="385.81" stroke="#555" stroke-width="0.7"/><line x1="301.50" y1="385.81" x2="303.50" y2="385.81" stroke="#555" stroke-width="0.7"/><text x="73.80" y="390.41" font-size="13.00" text-anchor="end" font-weight="normal" fill="#262626"  style="">290</text><line x1="78.60" y1="358.35" x2="80.60" y2="358.35" stroke="#555" stroke-width="0.7"/><line x1="301.50" y1="358.35" x2="303.50" y2="358.35" stroke="#555" stroke-width="0.7"/><text x="73.80" y="362.95" font-size="13.00" text-anchor="end" font-weight="normal" fill="#262626"  style="">300</text><line x1="78.60" y1="330.89" x2="80.60" y2="330.89" stroke="#555" stroke-width="0.7"/><line x1="301.50" y1="330.89" x2="303.50" y2="330.89" stroke="#555" stroke-width="0.7"/><text x="73.80" y="335.49" font-size="13.00" text-anchor="end" font-weight="normal" fill="#262626"  style="">310</text><line x1="78.60" y1="303.43" x2="80.60" y2="303.43" stroke="#555" stroke-width="0.7"/><line x1="301.50" y1="303.43" x2="303.50" y2="303.43" stroke="#555" stroke-width="0.7"/><text x="73.80" y="308.03" font-size="13.00" text-anchor="end" font-weight="normal" fill="#262626"  style="">320</text><line x1="78.60" y1="275.96" x2="80.60" y2="275.96" stroke="#555" stroke-width="0.7"/><line x1="301.50" y1="275.96" x2="303.50" y2="275.96" stroke="#555" stroke-width="0.7"/><text x="73.80" y="280.56" font-size="13.00" text-anchor="end" font-weight="normal" fill="#262626"  style="">330</text><line x1="78.60" y1="248.50" x2="80.60" y2="248.50" stroke="#555" stroke-width="0.7"/><line x1="301.50" y1="248.50" x2="303.50" y2="248.50" stroke="#555" stroke-width="0.7"/><text x="73.80" y="253.10" font-size="13.00" text-anchor="end" font-weight="normal" fill="#262626"  style="">340</text><text x="77.40" y="487.70" font-size="13.00" text-anchor="middle" font-weight="normal" fill="#262626"  style="">10<tspan font-size="9.50" dy="-6.00">4</tspan></text><text x="222.20" y="487.70" font-size="13.00" text-anchor="middle" font-weight="normal" fill="#262626"  style="">10<tspan font-size="9.50" dy="-6.00">6</tspan></text><g clip-path="url(#clipd)"><path d="M212.40 248.50 C213.35 251.32 216.30 259.52 218.10 265.40 C219.90 271.28 221.67 277.50 223.20 283.80 C224.73 290.10 226.10 297.40 227.30 303.20 C228.50 309.00 229.53 314.97 230.40 318.60 C231.27 322.23 231.80 321.60 232.50 325.00 C233.20 328.40 234.02 334.35 234.60 339.00 C235.18 343.65 235.62 348.25 236.00 352.90 C236.38 357.55 236.67 362.23 236.90 366.90 C237.13 371.57 237.35 376.35 237.40 380.90 C237.45 385.45 237.52 389.13 237.20 394.20 C236.88 399.27 236.30 405.03 235.50 411.30 C234.70 417.57 233.58 424.98 232.40 431.80 C231.22 438.62 229.58 446.13 228.40 452.20 C227.22 458.27 225.82 465.53 225.30 468.20" fill="none" stroke="#008000" stroke-width="1.70" stroke-dasharray="5.2 4.5" stroke-linecap="butt" stroke-linejoin="round"/><path d="M225.90 248.50 C226.65 251.32 228.80 257.82 230.40 265.40 C232.00 272.98 233.87 285.13 235.50 294.00 C237.13 302.87 239.08 313.20 240.20 318.60 C241.32 324.00 241.52 323.00 242.20 326.40 C242.88 329.80 243.67 333.65 244.30 339.00 C244.93 344.35 245.72 353.15 246.00 358.50 C246.28 363.85 246.13 366.52 246.00 371.10 C245.87 375.68 245.62 381.33 245.20 386.00 C244.78 390.67 244.60 394.20 243.50 399.10 C242.40 404.00 240.45 409.62 238.60 415.40 C236.75 421.18 235.13 428.35 232.40 433.80 C229.67 439.25 226.22 442.37 222.20 448.10 C218.18 453.83 210.62 464.85 208.30 468.20" fill="none" stroke="#7e2f8e" stroke-width="1.70" stroke-dasharray="5.5 4.5" stroke-linecap="butt" stroke-linejoin="round"/><path d="M187.90 248.50 C190.90 251.67 199.83 260.93 205.90 267.50 C211.97 274.07 218.85 281.95 224.30 287.90 C229.75 293.85 234.57 298.52 238.60 303.20 C242.63 307.88 245.80 312.37 248.50 316.00 C251.20 319.63 252.70 321.63 254.80 325.00 C256.90 328.37 259.35 332.70 261.10 336.20 C262.85 339.70 264.25 342.28 265.30 346.00 C266.35 349.72 267.17 354.32 267.40 358.50 C267.63 362.68 267.40 367.13 266.70 371.10 C266.00 375.07 265.18 378.45 263.20 382.30 C261.22 386.15 257.18 391.13 254.80 394.20 C252.42 397.27 251.60 398.35 248.90 400.70 C246.20 403.05 242.37 406.02 238.60 408.30 C234.83 410.58 231.75 411.85 226.30 414.40 C220.85 416.95 212.72 420.53 205.90 423.60 C199.08 426.67 192.22 429.73 185.40 432.80 C178.58 435.87 171.57 439.38 165.00 442.00 C158.43 444.62 151.00 446.85 146.00 448.50 C141.00 450.15 138.52 450.63 135.00 451.90 C131.48 453.17 128.17 454.62 124.90 456.10 C121.63 457.58 118.08 458.78 115.40 460.80 C112.72 462.82 109.90 466.97 108.80 468.20" fill="none" stroke="#ff0000" stroke-width="1.50" stroke-dasharray="1.2 1.4" stroke-linecap="butt" stroke-linejoin="round"/><path d="M143.23 248.50 C143.20 250.17 143.15 255.17 143.07 258.50 C142.99 261.83 142.88 265.17 142.74 268.50 C142.61 271.83 142.45 275.17 142.26 278.50 C142.07 281.83 141.85 285.17 141.61 288.50 C141.37 291.83 141.10 295.17 140.80 298.50 C140.50 301.83 140.18 305.17 139.83 308.50 C139.48 311.83 139.10 315.17 138.70 318.50 C138.30 321.83 137.87 325.17 137.41 328.50 C136.95 331.83 136.47 335.17 135.96 338.50 C135.45 341.83 134.91 345.18 134.35 348.50 C133.78 351.82 133.19 355.08 132.57 358.40 C131.95 361.72 131.31 365.07 130.64 368.40 C129.97 371.73 129.28 375.07 128.55 378.40 C127.83 381.73 127.07 385.07 126.29 388.40 C125.51 391.73 124.70 395.07 123.87 398.40 C123.04 401.73 122.18 405.07 121.29 408.40 C120.41 411.73 119.50 415.07 118.56 418.40 C117.62 421.73 116.65 425.07 115.66 428.40 C114.67 431.73 113.65 435.07 112.60 438.40 C111.55 441.73 110.47 445.07 109.37 448.40 C108.27 451.73 107.14 455.07 105.99 458.40 C104.84 461.73 103.04 466.73 102.45 468.40" fill="none" stroke="#000000" stroke-width="1.40" stroke-linecap="butt" stroke-linejoin="round"/><path d="M142.40 248.80 C142.32 253.30 141.97 269.47 141.90 275.80 C141.83 282.13 141.92 284.07 142.00 286.80 C142.08 289.53 142.15 290.20 142.40 292.20 C142.65 294.20 143.03 296.60 143.50 298.80 C143.97 301.00 144.42 303.52 145.20 305.40 C145.98 307.28 146.90 308.62 148.20 310.10 C149.50 311.58 151.20 313.00 153.00 314.30 C154.80 315.60 156.02 316.50 159.00 317.90 C161.98 319.30 166.92 321.30 170.90 322.70 C174.88 324.10 178.90 325.20 182.90 326.30 C186.90 327.40 190.90 328.33 194.90 329.30 C198.90 330.27 203.55 331.30 206.90 332.10 C210.25 332.90 211.32 333.30 215.00 334.10 C218.68 334.90 224.33 336.02 229.00 336.90 C233.67 337.78 238.35 338.55 243.00 339.40 C247.65 340.25 252.25 340.95 256.90 342.00 C261.55 343.05 266.23 344.33 270.90 345.70 C275.57 347.07 281.17 348.77 284.90 350.20 C288.63 351.63 291.33 352.92 293.30 354.30 C295.27 355.68 296.70 356.98 296.70 358.50 C296.70 360.02 295.27 361.88 293.30 363.40 C291.33 364.92 288.63 366.32 284.90 367.60 C281.17 368.88 275.57 370.10 270.90 371.10 C266.23 372.10 261.55 372.78 256.90 373.60 C252.25 374.42 247.65 375.18 243.00 376.00 C238.35 376.82 233.67 377.60 229.00 378.50 C224.33 379.40 218.67 380.65 215.00 381.40 C211.33 382.15 210.90 382.27 207.00 383.00 C203.10 383.73 196.72 384.90 191.60 385.80 C186.48 386.70 181.40 387.50 176.30 388.40 C171.20 389.30 166.10 390.18 161.00 391.20 C155.90 392.22 150.05 393.38 145.70 394.50 C141.35 395.62 137.97 396.48 134.90 397.90 C131.83 399.32 129.33 401.27 127.30 403.00 C125.27 404.73 123.83 406.57 122.70 408.30 C121.57 410.03 122.33 408.03 120.50 413.40 C118.67 418.77 114.65 431.37 111.70 440.50 C108.75 449.63 104.28 463.58 102.80 468.20" fill="none" stroke="#0000ff" stroke-width="1.60" stroke-linecap="butt" stroke-linejoin="round"/></g><clipPath id="clipd"><rect x="78.60" y="247.50" width="224.90" height="221.70"/></clipPath><text x="88.00" y="265.80" font-size="13.00" text-anchor="middle" font-weight="bold" fill="#000"  style="">d</text><text x="191.00" y="242.90" font-size="13.80" text-anchor="middle" font-weight="bold" fill="#000"  style="">Density distribution of electron</text><text x="189.10" y="498.80" font-size="13.80" text-anchor="middle" font-weight="normal" fill="#262626"  style="">Electron density (cm<tspan font-size="9.50" dy="-5.50">-3</tspan><tspan dy="5.5">)</tspan></text><text x="50.60" y="358.30" font-size="13.50" text-anchor="middle" font-weight="normal" fill="#262626" transform="rotate(-90 50.6 358.3)" style="">Altitude (km)</text><rect x="250.50" y="402.50" width="53.00" height="65.70" fill="#fff" stroke="#858585" stroke-width="1"/><line x1="252.2" y1="410.30" x2="267.6" y2="410.30" stroke="#000000" stroke-width="1.40"/><text x="269.50" y="414.40" font-size="11.80" text-anchor="start" font-weight="normal" fill="#262626"  style="">t=0s</text><line x1="252.2" y1="423.02" x2="267.6" y2="423.02" stroke="#0000ff" stroke-width="1.60"/><text x="269.50" y="427.12" font-size="11.80" text-anchor="start" font-weight="normal" fill="#262626"  style="">t=5s</text><line x1="252.2" y1="435.74" x2="267.6" y2="435.74" stroke="#ff0000" stroke-width="1.50" stroke-dasharray="1.2 1.4"/><text x="269.50" y="439.84" font-size="11.80" text-anchor="start" font-weight="normal" fill="#262626"  style="">t=30s</text><line x1="252.2" y1="448.46" x2="267.6" y2="448.46" stroke="#7e2f8e" stroke-width="1.70" stroke-dasharray="5.5 4.5"/><text x="269.50" y="452.56" font-size="11.80" text-anchor="start" font-weight="normal" fill="#262626"  style="">t=90s</text><line x1="252.2" y1="461.18" x2="267.6" y2="461.18" stroke="#008000" stroke-width="1.70" stroke-dasharray="5 4.6"/><text x="269.50" y="465.28" font-size="11.80" text-anchor="start" font-weight="normal" fill="#262626"  style="">t=150s</text><line x1="398.70" y1="439.49" x2="621.40" y2="439.49" stroke="#ededed" stroke-width="1"/><line x1="398.70" y1="412.27" x2="621.40" y2="412.27" stroke="#ededed" stroke-width="1"/><line x1="398.70" y1="385.06" x2="621.40" y2="385.06" stroke="#ededed" stroke-width="1"/><line x1="398.70" y1="357.85" x2="621.40" y2="357.85" stroke="#ededed" stroke-width="1"/><line x1="398.70" y1="330.64" x2="621.40" y2="330.64" stroke="#ededed" stroke-width="1"/><line x1="398.70" y1="303.43" x2="621.40" y2="303.43" stroke="#ededed" stroke-width="1"/><line x1="398.70" y1="276.21" x2="621.40" y2="276.21" stroke="#ededed" stroke-width="1"/><line x1="454.38" y1="249.00" x2="454.38" y2="466.70" stroke="#ededed" stroke-width="1"/><line x1="510.05" y1="249.00" x2="510.05" y2="466.70" stroke="#ededed" stroke-width="1"/><line x1="565.72" y1="249.00" x2="565.72" y2="466.70" stroke="#ededed" stroke-width="1"/><line x1="398.70" y1="249.00" x2="621.40" y2="249.00" stroke="#dcdcdc" stroke-width="1"/><line x1="398.70" y1="466.70" x2="621.40" y2="466.70" stroke="#dcdcdc" stroke-width="1"/><line x1="398.70" y1="249.00" x2="398.70" y2="466.70" stroke="#858585" stroke-width="1"/><line x1="621.40" y1="249.00" x2="621.40" y2="466.70" stroke="#858585" stroke-width="1"/><line x1="398.70" y1="466.70" x2="400.70" y2="466.70" stroke="#555" stroke-width="0.7"/><line x1="619.40" y1="466.70" x2="621.40" y2="466.70" stroke="#555" stroke-width="0.7"/><text x="393.90" y="471.30" font-size="13.00" text-anchor="end" font-weight="normal" fill="#262626"  style="">260</text><line x1="398.70" y1="439.49" x2="400.70" y2="439.49" stroke="#555" stroke-width="0.7"/><line x1="619.40" y1="439.49" x2="621.40" y2="439.49" stroke="#555" stroke-width="0.7"/><text x="393.90" y="444.09" font-size="13.00" text-anchor="end" font-weight="normal" fill="#262626"  style="">270</text><line x1="398.70" y1="412.27" x2="400.70" y2="412.27" stroke="#555" stroke-width="0.7"/><line x1="619.40" y1="412.27" x2="621.40" y2="412.27" stroke="#555" stroke-width="0.7"/><text x="393.90" y="416.88" font-size="13.00" text-anchor="end" font-weight="normal" fill="#262626"  style="">280</text><line x1="398.70" y1="385.06" x2="400.70" y2="385.06" stroke="#555" stroke-width="0.7"/><line x1="619.40" y1="385.06" x2="621.40" y2="385.06" stroke="#555" stroke-width="0.7"/><text x="393.90" y="389.66" font-size="13.00" text-anchor="end" font-weight="normal" fill="#262626"  style="">290</text><line x1="398.70" y1="357.85" x2="400.70" y2="357.85" stroke="#555" stroke-width="0.7"/><line x1="619.40" y1="357.85" x2="621.40" y2="357.85" stroke="#555" stroke-width="0.7"/><text x="393.90" y="362.45" font-size="13.00" text-anchor="end" font-weight="normal" fill="#262626"  style="">300</text><line x1="398.70" y1="330.64" x2="400.70" y2="330.64" stroke="#555" stroke-width="0.7"/><line x1="619.40" y1="330.64" x2="621.40" y2="330.64" stroke="#555" stroke-width="0.7"/><text x="393.90" y="335.24" font-size="13.00" text-anchor="end" font-weight="normal" fill="#262626"  style="">310</text><line x1="398.70" y1="303.43" x2="400.70" y2="303.43" stroke="#555" stroke-width="0.7"/><line x1="619.40" y1="303.43" x2="621.40" y2="303.43" stroke="#555" stroke-width="0.7"/><text x="393.90" y="308.03" font-size="13.00" text-anchor="end" font-weight="normal" fill="#262626"  style="">320</text><line x1="398.70" y1="276.21" x2="400.70" y2="276.21" stroke="#555" stroke-width="0.7"/><line x1="619.40" y1="276.21" x2="621.40" y2="276.21" stroke="#555" stroke-width="0.7"/><text x="393.90" y="280.81" font-size="13.00" text-anchor="end" font-weight="normal" fill="#262626"  style="">330</text><line x1="398.70" y1="249.00" x2="400.70" y2="249.00" stroke="#555" stroke-width="0.7"/><line x1="619.40" y1="249.00" x2="621.40" y2="249.00" stroke="#555" stroke-width="0.7"/><text x="393.90" y="253.60" font-size="13.00" text-anchor="end" font-weight="normal" fill="#262626"  style="">340</text><text x="398.70" y="482.00" font-size="13.00" text-anchor="middle" font-weight="normal" fill="#262626"  style="">-1</text><text x="454.38" y="482.00" font-size="13.00" text-anchor="middle" font-weight="normal" fill="#262626"  style="">-0.5</text><text x="510.05" y="482.00" font-size="13.00" text-anchor="middle" font-weight="normal" fill="#262626"  style="">0</text><text x="565.72" y="482.00" font-size="13.00" text-anchor="middle" font-weight="normal" fill="#262626"  style="">0.5</text><text x="621.40" y="482.00" font-size="13.00" text-anchor="middle" font-weight="normal" fill="#262626"  style="">1</text><g clip-path="url(#clipe)"><path d="M540.40 251.00 C539.98 253.00 538.82 258.83 537.90 263.00 C536.98 267.17 536.07 271.18 534.90 276.00 C533.73 280.82 532.05 287.17 530.90 291.90 C529.75 296.63 529.18 299.92 528.00 304.40 C526.82 308.88 525.13 314.37 523.80 318.80 C522.47 323.23 521.20 327.00 520.00 331.00 C518.80 335.00 517.75 338.03 516.60 342.80 C515.45 347.57 514.38 354.25 513.10 359.60 C511.82 364.95 510.30 370.02 508.90 374.90 C507.50 379.78 505.98 383.77 504.70 388.90 C503.42 394.03 502.40 400.52 501.20 405.70 C500.00 410.88 498.50 415.12 497.50 420.00 C496.50 424.88 495.67 430.40 495.20 435.00 C494.73 439.60 494.32 442.32 494.70 447.60 C495.08 452.88 497.03 463.52 497.50 466.70" fill="none" stroke="#7e2f8e" stroke-width="1.70" stroke-dasharray="5 5" stroke-linecap="butt" stroke-linejoin="round"/><path d="M610.00 248.50 C610.85 249.33 613.83 251.68 615.10 253.50 C616.37 255.32 617.32 257.43 617.60 259.40 C617.88 261.37 617.65 263.18 616.80 265.30 C615.95 267.42 614.33 269.83 612.50 272.10 C610.67 274.37 608.90 276.07 605.80 278.90 C602.70 281.73 597.87 285.85 593.90 289.10 C589.93 292.35 585.95 295.30 582.00 298.40 C578.05 301.50 573.03 305.50 570.20 307.70 C567.37 309.90 567.95 309.35 565.00 311.60 C562.05 313.85 556.98 317.32 552.50 321.20 C548.02 325.08 541.85 331.30 538.10 334.90 C534.35 338.50 533.93 339.03 530.00 342.80 C526.07 346.57 521.17 350.87 514.50 357.50 C507.83 364.13 496.00 376.35 490.00 382.60 C484.00 388.85 482.57 390.57 478.50 395.00 C474.43 399.43 470.27 403.37 465.60 409.20 C460.93 415.03 454.18 424.48 450.50 430.00 C446.82 435.52 444.82 439.08 443.50 442.30 C442.18 445.52 442.30 447.25 442.60 449.30 C442.90 451.35 443.40 452.98 445.30 454.60 C447.20 456.22 450.50 457.83 454.00 459.00 C457.50 460.17 461.92 460.73 466.30 461.60 C470.68 462.47 476.65 463.35 480.30 464.20 C483.95 465.05 486.88 466.28 488.20 466.70" fill="none" stroke="#ff0000" stroke-width="1.50" stroke-dasharray="1.2 1.4" stroke-linecap="butt" stroke-linejoin="round"/><path d="M570.80 248.70 C568.12 250.92 559.02 257.72 554.70 262.00 C550.38 266.28 547.52 270.90 544.90 274.40 C542.28 277.90 540.83 280.23 539.00 283.00 C537.17 285.77 535.63 287.63 533.90 291.00 C532.17 294.37 530.28 298.77 528.60 303.20 C526.92 307.63 525.20 312.80 523.80 317.60 C522.40 322.40 521.50 327.02 520.20 332.00 C518.90 336.98 517.07 343.25 516.00 347.50 C514.93 351.75 514.75 352.93 513.80 357.50 C512.85 362.07 511.47 366.28 510.30 374.90 C509.13 383.52 507.58 400.85 506.80 409.20 C506.02 417.55 505.87 419.87 505.60 425.00 C505.33 430.13 505.27 433.05 505.20 440.00 C505.13 446.95 505.20 462.25 505.20 466.70" fill="none" stroke="#008000" stroke-width="1.70" stroke-dasharray="4 1.5 1.3 1.5" stroke-linecap="butt" stroke-linejoin="round"/><path d="M510.80 249.20 C510.80 251.83 510.73 260.37 510.80 265.00 C510.87 269.63 511.00 273.35 511.20 277.00 C511.40 280.65 511.72 283.90 512.00 286.90 C512.28 289.90 512.53 291.68 512.90 295.00 C513.27 298.32 513.48 303.23 514.20 306.80 C514.92 310.37 515.90 313.40 517.20 316.40 C518.50 319.40 520.30 322.60 522.00 324.80 C523.70 327.00 524.90 328.02 527.40 329.60 C529.90 331.18 533.42 332.92 537.00 334.30 C540.58 335.68 545.82 336.82 548.90 337.90 C551.98 338.98 553.90 339.80 555.50 340.80 C557.10 341.80 558.60 342.88 558.50 343.90 C558.40 344.92 557.48 345.90 554.90 346.90 C552.32 347.90 547.15 348.83 543.00 349.90 C538.85 350.97 534.75 352.03 530.00 353.30 C525.25 354.57 519.18 356.27 514.50 357.50 C509.82 358.73 506.33 359.53 501.90 360.70 C497.47 361.87 492.55 363.18 487.90 364.50 C483.25 365.82 477.20 367.37 474.00 368.60 C470.80 369.83 469.17 370.97 468.70 371.90 C468.23 372.83 469.15 373.12 471.20 374.20 C473.25 375.28 477.75 376.88 481.00 378.40 C484.25 379.92 487.92 381.55 490.70 383.30 C493.48 385.05 495.72 386.57 497.70 388.90 C499.68 391.23 501.28 394.45 502.60 397.30 C503.92 400.15 504.80 402.00 505.60 406.00 C506.40 410.00 506.88 414.67 507.40 421.30 C507.92 427.93 508.98 440.83 508.70 445.80 C508.42 450.77 506.35 447.62 505.70 451.10 C505.05 454.58 504.95 464.10 504.80 466.70" fill="none" stroke="#0000ff" stroke-width="1.60" stroke-linecap="butt" stroke-linejoin="round"/></g><clipPath id="clipe"><rect x="398.70" y="248.00" width="222.70" height="219.70"/></clipPath><text x="407.80" y="265.80" font-size="13.00" text-anchor="middle" font-weight="bold" fill="#000"  style="">e</text><text x="510.30" y="244.50" font-size="13.80" text-anchor="middle" font-weight="bold" fill="#000"  style="">Velocity distribution of electron</text><text x="509.80" y="498.00" font-size="13.80" text-anchor="middle" font-weight="normal" fill="#262626"  style="">Velocity (cm·s<tspan font-size="9.50" dy="-5.50">-1</tspan><tspan dy="5.5">)</tspan></text><text x="368.40" y="358.60" font-size="13.50" text-anchor="middle" font-weight="normal" fill="#262626" transform="rotate(-90 368.4 358.6)" style="">Altitude (km)</text><text x="594.00" y="500.80" font-size="13.00" text-anchor="start" font-weight="normal" fill="#262626"  style="">×10<tspan font-size="9.50" dy="-5.80">5</tspan></text><rect x="566.40" y="412.80" width="52.40" height="51.50" fill="#fff" stroke="#858585" stroke-width="1"/><line x1="568.6" y1="419.30" x2="583.8" y2="419.30" stroke="#0000ff" stroke-width="1.60"/><text x="585.40" y="423.40" font-size="11.80" text-anchor="start" font-weight="normal" fill="#262626"  style="">t=5s</text><line x1="568.6" y1="432.03" x2="583.8" y2="432.03" stroke="#ff0000" stroke-width="1.50" stroke-dasharray="1.2 1.4"/><text x="585.40" y="436.13" font-size="11.80" text-anchor="start" font-weight="normal" fill="#262626"  style="">t=30s</text><line x1="568.6" y1="444.76" x2="583.8" y2="444.76" stroke="#7e2f8e" stroke-width="1.70" stroke-dasharray="5 5"/><text x="585.40" y="448.86" font-size="11.80" text-anchor="start" font-weight="normal" fill="#262626"  style="">t=90s</text><line x1="568.6" y1="457.49" x2="583.8" y2="457.49" stroke="#008000" stroke-width="1.70" stroke-dasharray="3.6 2.2"/><text x="585.40" y="461.59" font-size="11.80" text-anchor="start" font-weight="normal" fill="#262626"  style="">t=150s</text>
</svg>
</body></html>
